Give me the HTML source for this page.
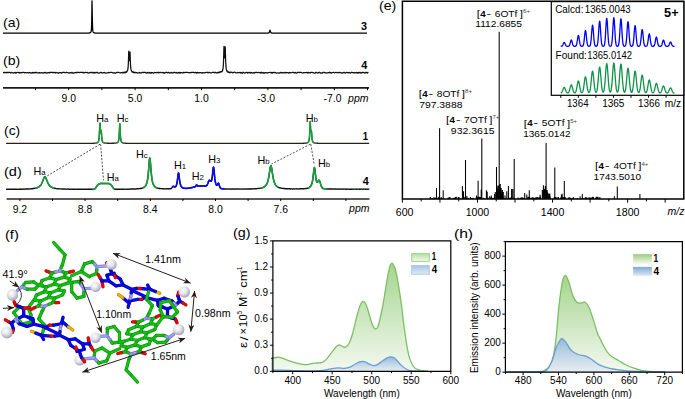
<!DOCTYPE html>
<html><head><meta charset="utf-8"><style>
html,body{margin:0;padding:0;background:#fff;}
body{width:685px;height:399px;overflow:hidden;}
svg{display:block;}
text{font-family:"Liberation Sans",sans-serif;}
</style></head><body>
<svg width="685" height="399" viewBox="0 0 685 399" font-family="Liberation Sans, sans-serif">
<text x="3.01" y="26.8" font-size="13.4" textLength="17.21" lengthAdjust="spacingAndGlyphs">(a)</text>
<text x="3.01" y="65" font-size="13.4" textLength="17.21" lengthAdjust="spacingAndGlyphs">(b)</text>
<path d="M3 33.2 L3.25 33.2 L3.5 33.2 L3.75 33.2 L4 33.2 L4.25 33.2 L4.5 33.2 L4.75 33.2 L5 33.2 L5.25 33.2 L5.5 33.2 L5.75 33.2 L6 33.2 L6.25 33.2 L6.5 33.2 L6.75 33.2 L7 33.2 L7.25 33.2 L7.5 33.2 L7.75 33.2 L8 33.2 L8.25 33.2 L8.5 33.2 L8.75 33.2 L9 33.2 L9.25 33.2 L9.5 33.2 L9.75 33.2 L10 33.2 L10.25 33.2 L10.5 33.2 L10.75 33.2 L11 33.2 L11.25 33.2 L11.5 33.2 L11.75 33.2 L12 33.2 L12.25 33.2 L12.5 33.2 L12.75 33.2 L13 33.2 L13.25 33.2 L13.5 33.2 L13.75 33.2 L14 33.2 L14.25 33.2 L14.5 33.2 L14.75 33.2 L15 33.2 L15.25 33.2 L15.5 33.2 L15.75 33.2 L16 33.2 L16.25 33.2 L16.5 33.2 L16.75 33.2 L17 33.2 L17.25 33.2 L17.5 33.2 L17.75 33.2 L18 33.2 L18.25 33.2 L18.5 33.2 L18.75 33.2 L19 33.2 L19.25 33.2 L19.5 33.2 L19.75 33.2 L20 33.2 L20.25 33.2 L20.5 33.2 L20.75 33.2 L21 33.2 L21.25 33.2 L21.5 33.2 L21.75 33.2 L22 33.2 L22.25 33.2 L22.5 33.2 L22.75 33.2 L23 33.2 L23.25 33.2 L23.5 33.2 L23.75 33.2 L24 33.2 L24.25 33.2 L24.5 33.2 L24.75 33.2 L25 33.2 L25.25 33.2 L25.5 33.2 L25.75 33.2 L26 33.2 L26.25 33.2 L26.5 33.2 L26.75 33.2 L27 33.2 L27.25 33.2 L27.5 33.2 L27.75 33.2 L28 33.2 L28.25 33.2 L28.5 33.2 L28.75 33.2 L29 33.2 L29.25 33.2 L29.5 33.2 L29.75 33.2 L30 33.2 L30.25 33.2 L30.5 33.2 L30.75 33.2 L31 33.2 L31.25 33.2 L31.5 33.2 L31.75 33.2 L32 33.2 L32.25 33.2 L32.5 33.2 L32.75 33.2 L33 33.2 L33.25 33.2 L33.5 33.2 L33.75 33.2 L34 33.2 L34.25 33.2 L34.5 33.2 L34.75 33.2 L35 33.2 L35.25 33.2 L35.5 33.2 L35.75 33.2 L36 33.2 L36.25 33.2 L36.5 33.2 L36.75 33.2 L37 33.2 L37.25 33.2 L37.5 33.2 L37.75 33.2 L38 33.2 L38.25 33.2 L38.5 33.2 L38.75 33.2 L39 33.2 L39.25 33.2 L39.5 33.2 L39.75 33.2 L40 33.2 L40.25 33.2 L40.5 33.2 L40.75 33.2 L41 33.2 L41.25 33.2 L41.5 33.2 L41.75 33.2 L42 33.2 L42.25 33.2 L42.5 33.2 L42.75 33.2 L43 33.2 L43.25 33.2 L43.5 33.2 L43.75 33.2 L44 33.2 L44.25 33.2 L44.5 33.2 L44.75 33.2 L45 33.2 L45.25 33.2 L45.5 33.2 L45.75 33.2 L46 33.2 L46.25 33.2 L46.5 33.2 L46.75 33.2 L47 33.2 L47.25 33.2 L47.5 33.2 L47.75 33.2 L48 33.2 L48.25 33.2 L48.5 33.2 L48.75 33.2 L49 33.2 L49.25 33.2 L49.5 33.2 L49.75 33.2 L50 33.2 L50.25 33.2 L50.5 33.2 L50.75 33.2 L51 33.2 L51.25 33.2 L51.5 33.2 L51.75 33.2 L52 33.2 L52.25 33.2 L52.5 33.2 L52.75 33.2 L53 33.2 L53.25 33.2 L53.5 33.2 L53.75 33.2 L54 33.2 L54.25 33.2 L54.5 33.2 L54.75 33.2 L55 33.2 L55.25 33.2 L55.5 33.2 L55.75 33.2 L56 33.2 L56.25 33.2 L56.5 33.2 L56.75 33.2 L57 33.2 L57.25 33.2 L57.5 33.2 L57.75 33.2 L58 33.2 L58.25 33.2 L58.5 33.2 L58.75 33.2 L59 33.2 L59.25 33.2 L59.5 33.2 L59.75 33.2 L60 33.2 L60.25 33.2 L60.5 33.2 L60.75 33.2 L61 33.2 L61.25 33.2 L61.5 33.2 L61.75 33.2 L62 33.2 L62.25 33.2 L62.5 33.2 L62.75 33.2 L63 33.2 L63.25 33.2 L63.5 33.2 L63.75 33.2 L64 33.2 L64.25 33.2 L64.5 33.2 L64.75 33.2 L65 33.2 L65.25 33.2 L65.5 33.2 L65.75 33.2 L66 33.2 L66.25 33.2 L66.5 33.2 L66.75 33.2 L67 33.2 L67.25 33.2 L67.5 33.2 L67.75 33.2 L68 33.2 L68.25 33.2 L68.5 33.2 L68.75 33.2 L69 33.2 L69.25 33.2 L69.5 33.2 L69.75 33.2 L70 33.2 L70.25 33.2 L70.5 33.2 L70.75 33.2 L71 33.2 L71.25 33.2 L71.5 33.2 L71.75 33.2 L72 33.2 L72.25 33.2 L72.5 33.2 L72.75 33.2 L73 33.2 L73.25 33.2 L73.5 33.2 L73.75 33.2 L74 33.19 L74.25 33.19 L74.5 33.19 L74.75 33.19 L75 33.19 L75.25 33.19 L75.5 33.19 L75.75 33.19 L76 33.19 L76.25 33.19 L76.5 33.19 L76.75 33.19 L77 33.19 L77.25 33.19 L77.5 33.19 L77.75 33.19 L78 33.19 L78.25 33.19 L78.5 33.19 L78.75 33.19 L79 33.19 L79.25 33.19 L79.5 33.19 L79.75 33.19 L80 33.19 L80.25 33.19 L80.5 33.19 L80.75 33.19 L81 33.19 L81.25 33.19 L81.5 33.19 L81.75 33.18 L82 33.18 L82.25 33.18 L82.5 33.18 L82.75 33.18 L83 33.18 L83.25 33.18 L83.5 33.18 L83.75 33.18 L84 33.17 L84.25 33.17 L84.5 33.17 L84.75 33.17 L85 33.17 L85.25 33.16 L85.5 33.16 L85.75 33.16 L86 33.16 L86.25 33.15 L86.5 33.15 L86.75 33.14 L87 33.14 L87.25 33.13 L87.5 33.12 L87.75 33.11 L88 33.1 L88.25 33.09 L88.5 33.07 L88.75 33.05 L89 33.02 L89.25 32.99 L89.5 32.95 L89.75 32.89 L90 32.81 L90.25 32.7 L90.5 32.53 L90.75 32.25 L91 31.77 L91.25 30.81 L91.5 28.51 L91.75 21.31 L92 0.87 L92.25 14.58 L92.5 26.64 L92.75 30.14 L93 31.47 L93.25 32.09 L93.5 32.43 L93.75 32.64 L94 32.77 L94.25 32.86 L94.5 32.93 L94.75 32.98 L95 33.01 L95.25 33.04 L95.5 33.06 L95.75 33.08 L96 33.09 L96.25 33.11 L96.5 33.12 L96.75 33.13 L97 33.13 L97.25 33.14 L97.5 33.14 L97.75 33.15 L98 33.15 L98.25 33.16 L98.5 33.16 L98.75 33.16 L99 33.17 L99.25 33.17 L99.5 33.17 L99.75 33.17 L100 33.17 L100.25 33.18 L100.5 33.18 L100.75 33.18 L101 33.18 L101.25 33.18 L101.5 33.18 L101.75 33.18 L102 33.18 L102.25 33.18 L102.5 33.18 L102.75 33.19 L103 33.19 L103.25 33.19 L103.5 33.19 L103.75 33.19 L104 33.19 L104.25 33.19 L104.5 33.19 L104.75 33.19 L105 33.19 L105.25 33.19 L105.5 33.19 L105.75 33.19 L106 33.19 L106.25 33.19 L106.5 33.19 L106.75 33.19 L107 33.19 L107.25 33.19 L107.5 33.19 L107.75 33.19 L108 33.19 L108.25 33.19 L108.5 33.19 L108.75 33.19 L109 33.19 L109.25 33.19 L109.5 33.19 L109.75 33.19 L110 33.19 L110.25 33.2 L110.5 33.2 L110.75 33.2 L111 33.2 L111.25 33.2 L111.5 33.2 L111.75 33.2 L112 33.2 L112.25 33.2 L112.5 33.2 L112.75 33.2 L113 33.2 L113.25 33.2 L113.5 33.2 L113.75 33.2 L114 33.2 L114.25 33.2 L114.5 33.2 L114.75 33.2 L115 33.2 L115.25 33.2 L115.5 33.2 L115.75 33.2 L116 33.2 L116.25 33.2 L116.5 33.2 L116.75 33.2 L117 33.2 L117.25 33.2 L117.5 33.2 L117.75 33.2 L118 33.2 L118.25 33.2 L118.5 33.2 L118.75 33.2 L119 33.2 L119.25 33.2 L119.5 33.2 L119.75 33.2 L120 33.2 L120.25 33.2 L120.5 33.2 L120.75 33.2 L121 33.2 L121.25 33.2 L121.5 33.2 L121.75 33.2 L122 33.2 L122.25 33.2 L122.5 33.2 L122.75 33.2 L123 33.2 L123.25 33.2 L123.5 33.2 L123.75 33.2 L124 33.2 L124.25 33.2 L124.5 33.2 L124.75 33.2 L125 33.2 L125.25 33.2 L125.5 33.2 L125.75 33.2 L126 33.2 L126.25 33.2 L126.5 33.2 L126.75 33.2 L127 33.2 L127.25 33.2 L127.5 33.2 L127.75 33.2 L128 33.2 L128.25 33.2 L128.5 33.2 L128.75 33.2 L129 33.2 L129.25 33.2 L129.5 33.2 L129.75 33.2 L130 33.2 L130.25 33.2 L130.5 33.2 L130.75 33.2 L131 33.2 L131.25 33.2 L131.5 33.2 L131.75 33.2 L132 33.2 L132.25 33.2 L132.5 33.2 L132.75 33.2 L133 33.2 L133.25 33.2 L133.5 33.2 L133.75 33.2 L134 33.2 L134.25 33.2 L134.5 33.2 L134.75 33.2 L135 33.2 L135.25 33.2 L135.5 33.2 L135.75 33.2 L136 33.2 L136.25 33.2 L136.5 33.2 L136.75 33.2 L137 33.2 L137.25 33.2 L137.5 33.2 L137.75 33.2 L138 33.2 L138.25 33.2 L138.5 33.2 L138.75 33.2 L139 33.2 L139.25 33.2 L139.5 33.2 L139.75 33.2 L140 33.2 L140.25 33.2 L140.5 33.2 L140.75 33.2 L141 33.2 L141.25 33.2 L141.5 33.2 L141.75 33.2 L142 33.2 L142.25 33.2 L142.5 33.2 L142.75 33.2 L143 33.2 L143.25 33.2 L143.5 33.2 L143.75 33.2 L144 33.2 L144.25 33.2 L144.5 33.2 L144.75 33.2 L145 33.2 L145.25 33.2 L145.5 33.2 L145.75 33.2 L146 33.2 L146.25 33.2 L146.5 33.2 L146.75 33.2 L147 33.2 L147.25 33.2 L147.5 33.2 L147.75 33.2 L148 33.2 L148.25 33.2 L148.5 33.2 L148.75 33.2 L149 33.2 L149.25 33.2 L149.5 33.2 L149.75 33.2 L150 33.2 L150.25 33.2 L150.5 33.2 L150.75 33.2 L151 33.2 L151.25 33.2 L151.5 33.2 L151.75 33.2 L152 33.2 L152.25 33.2 L152.5 33.2 L152.75 33.2 L153 33.2 L153.25 33.2 L153.5 33.2 L153.75 33.2 L154 33.2 L154.25 33.2 L154.5 33.2 L154.75 33.2 L155 33.2 L155.25 33.2 L155.5 33.2 L155.75 33.2 L156 33.2 L156.25 33.2 L156.5 33.2 L156.75 33.2 L157 33.2 L157.25 33.2 L157.5 33.2 L157.75 33.2 L158 33.2 L158.25 33.2 L158.5 33.2 L158.75 33.2 L159 33.2 L159.25 33.2 L159.5 33.2 L159.75 33.2 L160 33.2 L160.25 33.2 L160.5 33.2 L160.75 33.2 L161 33.2 L161.25 33.2 L161.5 33.2 L161.75 33.2 L162 33.2 L162.25 33.2 L162.5 33.2 L162.75 33.2 L163 33.2 L163.25 33.2 L163.5 33.2 L163.75 33.2 L164 33.2 L164.25 33.2 L164.5 33.2 L164.75 33.2 L165 33.2 L165.25 33.2 L165.5 33.2 L165.75 33.2 L166 33.2 L166.25 33.2 L166.5 33.2 L166.75 33.2 L167 33.2 L167.25 33.2 L167.5 33.2 L167.75 33.2 L168 33.2 L168.25 33.2 L168.5 33.2 L168.75 33.2 L169 33.2 L169.25 33.2 L169.5 33.2 L169.75 33.2 L170 33.2 L170.25 33.2 L170.5 33.2 L170.75 33.2 L171 33.2 L171.25 33.2 L171.5 33.2 L171.75 33.2 L172 33.2 L172.25 33.2 L172.5 33.2 L172.75 33.2 L173 33.2 L173.25 33.2 L173.5 33.2 L173.75 33.2 L174 33.2 L174.25 33.2 L174.5 33.2 L174.75 33.2 L175 33.2 L175.25 33.2 L175.5 33.2 L175.75 33.2 L176 33.2 L176.25 33.2 L176.5 33.2 L176.75 33.2 L177 33.2 L177.25 33.2 L177.5 33.2 L177.75 33.2 L178 33.2 L178.25 33.2 L178.5 33.2 L178.75 33.2 L179 33.2 L179.25 33.2 L179.5 33.2 L179.75 33.2 L180 33.2 L180.25 33.2 L180.5 33.2 L180.75 33.2 L181 33.2 L181.25 33.2 L181.5 33.2 L181.75 33.2 L182 33.2 L182.25 33.2 L182.5 33.2 L182.75 33.2 L183 33.2 L183.25 33.2 L183.5 33.2 L183.75 33.2 L184 33.2 L184.25 33.2 L184.5 33.2 L184.75 33.2 L185 33.2 L185.25 33.2 L185.5 33.2 L185.75 33.2 L186 33.2 L186.25 33.2 L186.5 33.2 L186.75 33.2 L187 33.2 L187.25 33.2 L187.5 33.2 L187.75 33.2 L188 33.2 L188.25 33.2 L188.5 33.2 L188.75 33.2 L189 33.2 L189.25 33.2 L189.5 33.2 L189.75 33.2 L190 33.2 L190.25 33.2 L190.5 33.2 L190.75 33.2 L191 33.2 L191.25 33.2 L191.5 33.2 L191.75 33.2 L192 33.2 L192.25 33.2 L192.5 33.2 L192.75 33.2 L193 33.2 L193.25 33.2 L193.5 33.2 L193.75 33.2 L194 33.2 L194.25 33.2 L194.5 33.2 L194.75 33.2 L195 33.2 L195.25 33.2 L195.5 33.2 L195.75 33.2 L196 33.2 L196.25 33.2 L196.5 33.2 L196.75 33.2 L197 33.2 L197.25 33.2 L197.5 33.2 L197.75 33.2 L198 33.2 L198.25 33.2 L198.5 33.2 L198.75 33.2 L199 33.2 L199.25 33.2 L199.5 33.2 L199.75 33.2 L200 33.2 L200.25 33.2 L200.5 33.2 L200.75 33.2 L201 33.2 L201.25 33.2 L201.5 33.2 L201.75 33.2 L202 33.2 L202.25 33.2 L202.5 33.2 L202.75 33.2 L203 33.2 L203.25 33.2 L203.5 33.2 L203.75 33.2 L204 33.2 L204.25 33.2 L204.5 33.2 L204.75 33.2 L205 33.2 L205.25 33.2 L205.5 33.2 L205.75 33.2 L206 33.2 L206.25 33.2 L206.5 33.2 L206.75 33.2 L207 33.2 L207.25 33.2 L207.5 33.2 L207.75 33.2 L208 33.2 L208.25 33.2 L208.5 33.2 L208.75 33.2 L209 33.2 L209.25 33.2 L209.5 33.2 L209.75 33.2 L210 33.2 L210.25 33.2 L210.5 33.2 L210.75 33.2 L211 33.2 L211.25 33.2 L211.5 33.2 L211.75 33.2 L212 33.2 L212.25 33.2 L212.5 33.2 L212.75 33.2 L213 33.2 L213.25 33.2 L213.5 33.2 L213.75 33.2 L214 33.2 L214.25 33.2 L214.5 33.2 L214.75 33.2 L215 33.2 L215.25 33.2 L215.5 33.2 L215.75 33.2 L216 33.2 L216.25 33.2 L216.5 33.2 L216.75 33.2 L217 33.2 L217.25 33.2 L217.5 33.2 L217.75 33.2 L218 33.2 L218.25 33.2 L218.5 33.2 L218.75 33.2 L219 33.2 L219.25 33.2 L219.5 33.2 L219.75 33.2 L220 33.2 L220.25 33.2 L220.5 33.2 L220.75 33.2 L221 33.2 L221.25 33.2 L221.5 33.2 L221.75 33.2 L222 33.2 L222.25 33.2 L222.5 33.2 L222.75 33.2 L223 33.2 L223.25 33.2 L223.5 33.2 L223.75 33.2 L224 33.2 L224.25 33.2 L224.5 33.2 L224.75 33.2 L225 33.2 L225.25 33.2 L225.5 33.2 L225.75 33.2 L226 33.2 L226.25 33.2 L226.5 33.2 L226.75 33.2 L227 33.2 L227.25 33.2 L227.5 33.2 L227.75 33.2 L228 33.2 L228.25 33.2 L228.5 33.2 L228.75 33.2 L229 33.2 L229.25 33.2 L229.5 33.2 L229.75 33.2 L230 33.2 L230.25 33.2 L230.5 33.2 L230.75 33.2 L231 33.2 L231.25 33.2 L231.5 33.2 L231.75 33.2 L232 33.2 L232.25 33.2 L232.5 33.2 L232.75 33.2 L233 33.2 L233.25 33.2 L233.5 33.2 L233.75 33.2 L234 33.2 L234.25 33.2 L234.5 33.2 L234.75 33.2 L235 33.2 L235.25 33.2 L235.5 33.2 L235.75 33.2 L236 33.2 L236.25 33.2 L236.5 33.2 L236.75 33.2 L237 33.2 L237.25 33.2 L237.5 33.2 L237.75 33.2 L238 33.2 L238.25 33.2 L238.5 33.2 L238.75 33.2 L239 33.2 L239.25 33.2 L239.5 33.2 L239.75 33.2 L240 33.2 L240.25 33.2 L240.5 33.2 L240.75 33.2 L241 33.2 L241.25 33.2 L241.5 33.2 L241.75 33.2 L242 33.2 L242.25 33.2 L242.5 33.2 L242.75 33.2 L243 33.2 L243.25 33.2 L243.5 33.2 L243.75 33.2 L244 33.2 L244.25 33.2 L244.5 33.2 L244.75 33.2 L245 33.2 L245.25 33.2 L245.5 33.2 L245.75 33.2 L246 33.2 L246.25 33.2 L246.5 33.2 L246.75 33.2 L247 33.2 L247.25 33.2 L247.5 33.2 L247.75 33.2 L248 33.2 L248.25 33.2 L248.5 33.2 L248.75 33.2 L249 33.2 L249.25 33.2 L249.5 33.2 L249.75 33.2 L250 33.2 L250.25 33.2 L250.5 33.2 L250.75 33.2 L251 33.2 L251.25 33.2 L251.5 33.2 L251.75 33.2 L252 33.2 L252.25 33.2 L252.5 33.2 L252.75 33.2 L253 33.2 L253.25 33.2 L253.5 33.2 L253.75 33.2 L254 33.2 L254.25 33.2 L254.5 33.2 L254.75 33.2 L255 33.2 L255.25 33.2 L255.5 33.2 L255.75 33.2 L256 33.2 L256.25 33.2 L256.5 33.2 L256.75 33.2 L257 33.2 L257.25 33.2 L257.5 33.2 L257.75 33.2 L258 33.2 L258.25 33.2 L258.5 33.2 L258.75 33.2 L259 33.19 L259.25 33.19 L259.5 33.19 L259.75 33.19 L260 33.19 L260.25 33.19 L260.5 33.19 L260.75 33.19 L261 33.19 L261.25 33.19 L261.5 33.19 L261.75 33.19 L262 33.19 L262.25 33.19 L262.5 33.19 L262.75 33.19 L263 33.19 L263.25 33.19 L263.5 33.19 L263.75 33.18 L264 33.18 L264.25 33.18 L264.5 33.18 L264.75 33.18 L265 33.18 L265.25 33.17 L265.5 33.17 L265.75 33.17 L266 33.16 L266.25 33.16 L266.5 33.15 L266.75 33.14 L267 33.13 L267.25 33.12 L267.5 33.11 L267.75 33.08 L268 33.06 L268.25 33.01 L268.5 32.95 L268.75 32.86 L269 32.69 L269.25 32.41 L269.5 31.86 L269.75 30.91 L270 30.2 L270.25 30.91 L270.5 31.86 L270.75 32.41 L271 32.69 L271.25 32.86 L271.5 32.95 L271.75 33.01 L272 33.06 L272.25 33.08 L272.5 33.11 L272.75 33.12 L273 33.13 L273.25 33.14 L273.5 33.15 L273.75 33.16 L274 33.16 L274.25 33.17 L274.5 33.17 L274.75 33.17 L275 33.18 L275.25 33.18 L275.5 33.18 L275.75 33.18 L276 33.18 L276.25 33.18 L276.5 33.19 L276.75 33.19 L277 33.19 L277.25 33.19 L277.5 33.19 L277.75 33.19 L278 33.19 L278.25 33.19 L278.5 33.19 L278.75 33.19 L279 33.19 L279.25 33.19 L279.5 33.19 L279.75 33.19 L280 33.19 L280.25 33.19 L280.5 33.19 L280.75 33.19 L281 33.19 L281.25 33.2 L281.5 33.2 L281.75 33.2 L282 33.2 L282.25 33.2 L282.5 33.2 L282.75 33.2 L283 33.2 L283.25 33.2 L283.5 33.2 L283.75 33.2 L284 33.2 L284.25 33.2 L284.5 33.2 L284.75 33.2 L285 33.2 L285.25 33.2 L285.5 33.2 L285.75 33.2 L286 33.2 L286.25 33.2 L286.5 33.2 L286.75 33.2 L287 33.2 L287.25 33.2 L287.5 33.2 L287.75 33.2 L288 33.2 L288.25 33.2 L288.5 33.2 L288.75 33.2 L289 33.2 L289.25 33.2 L289.5 33.2 L289.75 33.2 L290 33.2 L290.25 33.2 L290.5 33.2 L290.75 33.2 L291 33.2 L291.25 33.2 L291.5 33.2 L291.75 33.2 L292 33.2 L292.25 33.2 L292.5 33.2 L292.75 33.2 L293 33.2 L293.25 33.2 L293.5 33.2 L293.75 33.2 L294 33.2 L294.25 33.2 L294.5 33.2 L294.75 33.2 L295 33.2 L295.25 33.2 L295.5 33.2 L295.75 33.2 L296 33.2 L296.25 33.2 L296.5 33.2 L296.75 33.2 L297 33.2 L297.25 33.2 L297.5 33.2 L297.75 33.2 L298 33.2 L298.25 33.2 L298.5 33.2 L298.75 33.2 L299 33.2 L299.25 33.2 L299.5 33.2 L299.75 33.2 L300 33.2 L300.25 33.2 L300.5 33.2 L300.75 33.2 L301 33.2 L301.25 33.2 L301.5 33.2 L301.75 33.2 L302 33.2 L302.25 33.2 L302.5 33.2 L302.75 33.2 L303 33.2 L303.25 33.2 L303.5 33.2 L303.75 33.2 L304 33.2 L304.25 33.2 L304.5 33.2 L304.75 33.2 L305 33.2 L305.25 33.2 L305.5 33.2 L305.75 33.2 L306 33.2 L306.25 33.2 L306.5 33.2 L306.75 33.2 L307 33.2 L307.25 33.2 L307.5 33.2 L307.75 33.2 L308 33.2 L308.25 33.2 L308.5 33.2 L308.75 33.2 L309 33.2 L309.25 33.2 L309.5 33.2 L309.75 33.2 L310 33.2 L310.25 33.2 L310.5 33.2 L310.75 33.2 L311 33.2 L311.25 33.2 L311.5 33.2 L311.75 33.2 L312 33.2 L312.25 33.2 L312.5 33.2 L312.75 33.2 L313 33.2 L313.25 33.2 L313.5 33.2 L313.75 33.2 L314 33.2 L314.25 33.2 L314.5 33.2 L314.75 33.2 L315 33.2 L315.25 33.2 L315.5 33.2 L315.75 33.2 L316 33.2 L316.25 33.2 L316.5 33.2 L316.75 33.2 L317 33.2 L317.25 33.2 L317.5 33.2 L317.75 33.2 L318 33.2 L318.25 33.2 L318.5 33.2 L318.75 33.2 L319 33.2 L319.25 33.2 L319.5 33.2 L319.75 33.2 L320 33.2 L320.25 33.2 L320.5 33.2 L320.75 33.2 L321 33.2 L321.25 33.2 L321.5 33.2 L321.75 33.2 L322 33.2 L322.25 33.2 L322.5 33.2 L322.75 33.2 L323 33.2 L323.25 33.2 L323.5 33.2 L323.75 33.2 L324 33.2 L324.25 33.2 L324.5 33.2 L324.75 33.2 L325 33.2 L325.25 33.2 L325.5 33.2 L325.75 33.2 L326 33.2 L326.25 33.2 L326.5 33.2 L326.75 33.2 L327 33.2 L327.25 33.2 L327.5 33.2 L327.75 33.2 L328 33.2 L328.25 33.2 L328.5 33.2 L328.75 33.2 L329 33.2 L329.25 33.2 L329.5 33.2 L329.75 33.2 L330 33.2 L330.25 33.2 L330.5 33.2 L330.75 33.2 L331 33.2 L331.25 33.2 L331.5 33.2 L331.75 33.2 L332 33.2 L332.25 33.2 L332.5 33.2 L332.75 33.2 L333 33.2 L333.25 33.2 L333.5 33.2 L333.75 33.2 L334 33.2 L334.25 33.2 L334.5 33.2 L334.75 33.2 L335 33.2 L335.25 33.2 L335.5 33.2 L335.75 33.2 L336 33.2 L336.25 33.2 L336.5 33.2 L336.75 33.2 L337 33.2 L337.25 33.2 L337.5 33.2 L337.75 33.2 L338 33.2 L338.25 33.2 L338.5 33.2 L338.75 33.2 L339 33.2 L339.25 33.2 L339.5 33.2 L339.75 33.2 L340 33.2 L340.25 33.2 L340.5 33.2 L340.75 33.2 L341 33.2 L341.25 33.2 L341.5 33.2 L341.75 33.2 L342 33.2 L342.25 33.2 L342.5 33.2 L342.75 33.2 L343 33.2 L343.25 33.2 L343.5 33.2 L343.75 33.2 L344 33.2 L344.25 33.2 L344.5 33.2 L344.75 33.2 L345 33.2 L345.25 33.2 L345.5 33.2 L345.75 33.2 L346 33.2 L346.25 33.2 L346.5 33.2 L346.75 33.2 L347 33.2 L347.25 33.2 L347.5 33.2 L347.75 33.2 L348 33.2 L348.25 33.2 L348.5 33.2 L348.75 33.2 L349 33.2 L349.25 33.2 L349.5 33.2 L349.75 33.2 L350 33.2 L350.25 33.2 L350.5 33.2 L350.75 33.2 L351 33.2 L351.25 33.2 L351.5 33.2 L351.75 33.2 L352 33.2 L352.25 33.2 L352.5 33.2 L352.75 33.2 L353 33.2 L353.25 33.2 L353.5 33.2 L353.75 33.2 L354 33.2 L354.25 33.2 L354.5 33.2 L354.75 33.2 L355 33.2 L355.25 33.2 L355.5 33.2 L355.75 33.2 L356 33.2 L356.25 33.2 L356.5 33.2 L356.75 33.2 L357 33.2 L357.25 33.2 L357.5 33.2 L357.75 33.2 L358 33.2 L358.25 33.2 L358.5 33.2 L358.75 33.2 L359 33.2 L359.25 33.2 L359.5 33.2 L359.75 33.2 L360 33.2 L360.25 33.2 L360.5 33.2 L360.75 33.2 L361 33.2 L361.25 33.2 L361.5 33.2 L361.75 33.2 L362 33.2 L362.25 33.2 L362.5 33.2 L362.75 33.2 L363 33.2 L363.25 33.2 L363.5 33.2 L363.75 33.2 L364 33.2 L364.25 33.2 L364.5 33.2 L364.75 33.2 L365 33.2 L365.25 33.2 L365.5 33.2 L365.75 33.2 L366 33.2 L366.25 33.2 L366.5 33.2 L366.75 33.2 L367 33.2" fill="none" stroke="#000" stroke-width="1.3" stroke-linejoin="round" />
<path d="M3 72.54 L3.6 72.39 L4.2 72.84 L4.8 72.31 L5.4 72.73 L6 72.58 L6.6 72.3 L7.2 72.71 L7.8 72.28 L8.4 72.64 L9 72.31 L9.6 72.33 L10.2 72.63 L10.8 72.99 L11.4 72.36 L12 72.45 L12.6 72.81 L13.2 73.1 L13.8 72.77 L14.4 72.61 L15 73.13 L15.6 72.29 L16.2 73.02 L16.8 72.51 L17.4 72.38 L18 72.36 L18.6 72.53 L19.2 72.98 L19.8 72.41 L20.4 72.77 L21 72.82 L21.6 72.58 L22.2 72.74 L22.8 72.31 L23.4 72.3 L24 72.43 L24.6 72.86 L25.2 72.63 L25.8 72.53 L26.4 72.78 L27 72.66 L27.6 72.52 L28.2 72.96 L28.8 72.88 L29.4 72.47 L30 72.77 L30.6 72.72 L31.2 73.04 L31.8 72.91 L32.4 72.51 L33 73.13 L33.6 72.36 L34.2 72.63 L34.8 72.93 L35.4 72.39 L36 72.69 L36.6 72.28 L37.2 72.85 L37.8 72.94 L38.4 72.76 L39 73.04 L39.6 72.53 L40.2 72.87 L40.8 72.78 L41.4 72.77 L42 72.66 L42.6 73 L43.2 73.1 L43.8 72.68 L44.4 72.85 L45 72.3 L45.6 72.88 L46.2 72.83 L46.8 73.14 L47.4 72.99 L48 72.5 L48.6 72.6 L49.2 72.85 L49.8 72.27 L50.4 72.66 L51 72.4 L51.6 72.35 L52.2 72.3 L52.8 72.94 L53.4 72.37 L54 72.47 L54.6 72.6 L55.2 73.03 L55.8 72.32 L56.4 72.65 L57 72.74 L57.6 73.04 L58.2 72.99 L58.8 73.03 L59.4 72.5 L60 72.62 L60.6 72.57 L61.2 73.04 L61.8 73.11 L62.4 72.38 L63 72.41 L63.6 72.46 L64.2 72.46 L64.8 72.68 L65.4 72.78 L66 72.48 L66.6 72.25 L67.2 72.63 L67.8 72.58 L68.4 72.76 L69 73.11 L69.6 72.87 L70.2 72.71 L70.8 72.8 L71.4 72.86 L72 72.3 L72.6 73.06 L73.2 72.95 L73.8 73.03 L74.4 72.97 L75 72.6 L75.6 72.61 L76.2 72.34 L76.8 72.82 L77.4 72.3 L78 72.31 L78.6 72.44 L79.2 72.39 L79.8 72.55 L80.4 72.29 L81 72.25 L81.6 72.38 L82.2 72.34 L82.8 72.57 L83.4 72.27 L84 73.03 L84.6 72.8 L85.2 72.38 L85.8 72.47 L86.4 72.56 L87 72.57 L87.6 72.36 L88.2 73.01 L88.8 73.14 L89.4 72.67 L90 72.68 L90.6 72.32 L91.2 72.34 L91.8 72.55 L92.4 72.48 L93 72.99 L93.6 72.39 L94.2 72.27 L94.8 73.1 L95.4 72.72 L96 72.38 L96.6 72.73 L97.2 72.27 L97.8 72.72 L98.4 73.12 L99 73.02 L99.6 72.87 L100.2 72.48 L100.8 72.57 L101.4 72.39 L102 72.94 L102.6 72.72 L103.2 72.94 L103.8 72.54 L104.4 72.44 L105 72.97 L105.6 73.12 L106.2 73.01 L106.8 72.96 L107.4 72.97 L108 72.9 L108.6 72.44 L109.2 72.7 L109.8 72.55 L110.4 72.26 L111 72.26 L111.6 72.48 L112.2 72.46 L112.8 72.85 L113.4 73.09 L114 72.63 L114.6 73.06 L115.2 73.11 L115.8 73.08 L116.4 72.54 L117 72.41 L117.6 72.41 L118.2 72.38 L118.8 72.38 L119.4 72.75 L120 72.99 L120.6 72.92 L121.2 72.59 L121.8 72.73 L122.4 72.84 L123 72.17 L123.6 72.65 L123.75 72.87 L123.9 72.74 L124.05 72.7 L124.2 72.44 L124.35 72.16 L124.5 72.69 L124.65 72.26 L124.8 72.66 L124.95 72.8 L125.1 72.25 L125.25 72.23 L125.4 72.69 L125.55 72.46 L125.7 71.92 L125.85 71.83 L126 71.81 L126.15 72.42 L126.3 72.27 L126.45 71.59 L126.6 72.11 L126.75 72.13 L126.9 71.7 L127.05 71.25 L127.2 71.21 L127.35 70.56 L127.5 70.09 L127.65 70.47 L127.8 69.52 L127.95 68.47 L128.1 67.46 L128.25 64.92 L128.4 62.12 L128.55 57.55 L128.7 52.35 L128.85 51.13 L129 54.21 L129.15 57.92 L129.3 60.45 L129.45 60.53 L129.6 59.21 L129.75 55.75 L129.9 52.9 L130.05 52.04 L130.2 55.98 L130.35 60.79 L130.5 64.62 L130.65 66.53 L130.8 68.52 L130.95 69.18 L131.1 69.93 L131.25 70.45 L131.4 70.38 L131.55 71.05 L131.7 71.05 L131.85 71.07 L132 71.94 L132.15 71.49 L132.3 71.86 L132.45 72.18 L132.6 72.1 L132.75 71.95 L132.9 72.18 L133.05 72.26 L133.2 72.5 L133.35 71.93 L133.5 72.37 L133.65 72.11 L133.8 72.17 L133.95 72.63 L134.1 72.42 L134.25 72.48 L134.4 72.68 L134.55 72.83 L134.7 72.42 L134.85 72.59 L135 72.5 L135.15 72.52 L135.3 72.69 L135.45 72.48 L136.05 72.59 L136.65 72.56 L137.25 72.99 L137.85 72.79 L138.45 72.96 L139.05 73.03 L139.65 72.42 L140.25 72.7 L140.85 73.05 L141.45 72.96 L142.05 72.33 L142.65 72.32 L143.25 72.61 L143.85 72.28 L144.45 72.44 L145.05 72.29 L145.65 72.83 L146.25 72.93 L146.85 73.04 L147.45 72.37 L148.05 72.88 L148.65 72.83 L149.25 72.36 L149.85 73.03 L150.45 73.11 L151.05 72.43 L151.65 73.09 L152.25 72.6 L152.85 72.68 L153.45 73.13 L154.05 72.99 L154.65 72.38 L155.25 72.63 L155.85 72.7 L156.45 72.55 L157.05 72.42 L157.65 72.53 L158.25 72.89 L158.85 72.26 L159.45 72.74 L160.05 72.64 L160.65 72.26 L161.25 72.54 L161.85 72.8 L162.45 72.7 L163.05 72.3 L163.65 73.13 L164.25 72.95 L164.85 73.12 L165.45 72.34 L166.05 72.48 L166.65 72.28 L167.25 72.94 L167.85 72.49 L168.45 72.36 L169.05 72.62 L169.65 73.06 L170.25 72.98 L170.85 72.48 L171.45 72.38 L172.05 73.07 L172.65 72.76 L173.25 72.87 L173.85 72.32 L174.45 72.3 L175.05 72.86 L175.65 72.63 L176.25 72.31 L176.85 73.09 L177.45 72.81 L178.05 72.97 L178.65 72.32 L179.25 73.01 L179.85 72.3 L180.45 73.02 L181.05 72.65 L181.65 72.55 L182.25 72.74 L182.85 73.08 L183.45 72.48 L184.05 72.36 L184.65 72.72 L185.25 72.46 L185.85 72.34 L186.45 72.39 L187.05 72.29 L187.65 72.42 L188.25 72.52 L188.85 72.52 L189.45 72.93 L190.05 72.5 L190.65 72.69 L191.25 72.4 L191.85 72.55 L192.45 72.26 L193.05 72.47 L193.65 72.25 L194.25 72.9 L194.85 72.74 L195.45 72.41 L196.05 72.67 L196.65 73.08 L197.25 72.33 L197.85 72.97 L198.45 72.63 L199.05 72.68 L199.65 72.99 L200.25 72.59 L200.85 72.69 L201.45 72.85 L202.05 73.12 L202.65 72.54 L203.25 72.98 L203.85 72.87 L204.45 72.8 L205.05 72.59 L205.65 72.54 L206.25 72.27 L206.85 72.34 L207.45 72.29 L208.05 72.89 L208.65 72.45 L209.25 72.36 L209.85 72.29 L210.45 72.97 L211.05 72.99 L211.65 72.81 L212.25 72.45 L212.85 72.41 L213.45 72.45 L214.05 72.59 L214.65 72.31 L215.25 72.56 L215.85 72.38 L216.45 73 L217.05 72.99 L217.65 72.58 L218.25 72.27 L218.85 72.88 L219 72.27 L219.15 72.3 L219.3 71.96 L219.45 72.29 L219.6 72.35 L219.75 72.36 L219.9 72.06 L220.05 72.31 L220.2 71.83 L220.35 72.03 L220.5 71.84 L220.65 72.08 L220.8 71.71 L220.95 71.64 L221.1 71.84 L221.25 71.71 L221.4 71.94 L221.55 71.8 L221.7 71.89 L221.85 71.68 L222 71.58 L222.15 71.54 L222.3 70.86 L222.45 70.51 L222.6 70.72 L222.75 69.48 L222.9 69.32 L223.05 68.32 L223.2 66.45 L223.35 65.17 L223.5 62.19 L223.65 57.38 L223.8 51.42 L223.95 46.53 L224.1 46.42 L224.25 51.42 L224.4 55.6 L224.55 57.9 L224.7 57.55 L224.85 54.94 L225 50.18 L225.15 46.77 L225.3 48.15 L225.45 53.88 L225.6 59.01 L225.75 62.75 L225.9 65.42 L226.05 67.32 L226.2 68.25 L226.35 69.72 L226.5 70.06 L226.65 70.57 L226.8 70.91 L226.95 71.23 L227.1 71.27 L227.25 71.01 L227.4 71.86 L227.55 71.94 L227.7 71.82 L227.85 71.93 L228 72.12 L228.15 71.65 L228.3 72.31 L228.45 71.92 L228.6 71.8 L228.75 72.01 L228.9 72.47 L229.05 72.02 L229.2 72.53 L229.35 72.77 L229.5 72.36 L229.65 72.28 L229.8 72.38 L229.95 72.59 L230.1 72.68 L230.25 72.55 L230.4 72.59 L230.55 72.09 L231.15 72.2 L231.75 72.32 L232.35 72.79 L232.95 72.41 L233.55 72.66 L234.15 72.17 L234.75 72.23 L235.35 72.42 L235.95 72.79 L236.55 72.82 L237.15 72.81 L237.75 72.47 L238.35 72.67 L238.95 72.63 L239.55 72.63 L240.15 72.32 L240.75 73.02 L241.35 72.4 L241.95 73.1 L242.55 73.07 L243.15 72.24 L243.75 72.64 L244.35 72.97 L244.95 73.1 L245.55 72.64 L246.15 72.47 L246.75 72.42 L247.35 73.09 L247.95 72.42 L248.55 72.76 L249.15 72.36 L249.75 72.71 L250.35 73.1 L250.95 72.36 L251.55 72.98 L252.15 72.7 L252.75 73.04 L253.35 72.87 L253.95 72.45 L254.55 73.05 L255.15 72.68 L255.75 72.26 L256.35 72.25 L256.95 72.68 L257.55 72.65 L258.15 72.51 L258.75 72.37 L259.35 72.55 L259.95 72.53 L260.55 73 L261.15 72.25 L261.75 72.92 L262.35 73 L262.95 72.35 L263.55 73.08 L264.15 72.89 L264.75 73.06 L265.35 72.51 L265.95 72.58 L266.55 72.6 L267.15 73.14 L267.75 72.78 L268.35 72.57 L268.95 72.63 L269.55 72.49 L270.15 72.29 L270.75 72.34 L271.35 73 L271.95 72.5 L272.55 73.09 L273.15 72.47 L273.75 72.49 L274.35 72.71 L274.95 72.42 L275.55 72.58 L276.15 73.11 L276.75 73.04 L277.35 72.98 L277.95 72.81 L278.55 73.07 L279.15 73.09 L279.75 72.74 L280.35 72.89 L280.95 72.29 L281.55 72.91 L282.15 72.65 L282.75 72.92 L283.35 72.83 L283.95 72.51 L284.55 72.29 L285.15 73.08 L285.75 72.36 L286.35 72.67 L286.95 72.56 L287.55 72.52 L288.15 72.91 L288.75 73.13 L289.35 72.48 L289.95 72.84 L290.55 72.52 L291.15 72.75 L291.75 72.6 L292.35 72.4 L292.95 72.39 L293.55 72.44 L294.15 73.06 L294.75 72.7 L295.35 72.45 L295.95 73.06 L296.55 73.15 L297.15 72.65 L297.75 72.37 L298.35 72.42 L298.95 72.33 L299.55 72.56 L300.15 72.33 L300.75 72.46 L301.35 72.48 L301.95 72.76 L302.55 73.05 L303.15 72.92 L303.75 72.62 L304.35 72.62 L304.95 72.72 L305.55 72.59 L306.15 72.55 L306.75 72.3 L307.35 72.5 L307.95 73.12 L308.55 72.36 L309.15 72.7 L309.75 72.82 L310.35 73.03 L310.95 72.44 L311.55 72.49 L312.15 72.47 L312.75 72.61 L313.35 72.65 L313.95 73.11 L314.55 73.01 L315.15 73.03 L315.75 72.27 L316.35 72.28 L316.95 72.89 L317.55 73.06 L318.15 72.67 L318.75 72.78 L319.35 72.25 L319.95 72.6 L320.55 73.08 L321.15 72.99 L321.75 73.02 L322.35 73.12 L322.95 72.47 L323.55 72.35 L324.15 72.39 L324.75 72.72 L325.35 72.86 L325.95 73.1 L326.55 72.9 L327.15 72.83 L327.75 72.94 L328.35 72.66 L328.95 72.75 L329.55 72.28 L330.15 72.95 L330.75 72.46 L331.35 73.08 L331.95 72.83 L332.55 72.52 L333.15 72.36 L333.75 72.48 L334.35 72.82 L334.95 72.88 L335.55 72.35 L336.15 72.31 L336.75 72.72 L337.35 72.77 L337.95 72.6 L338.55 72.45 L339.15 72.79 L339.75 72.26 L340.35 72.52 L340.95 72.66 L341.55 73.11 L342.15 72.83 L342.75 73.04 L343.35 72.68 L343.95 72.46 L344.55 72.47 L345.15 73.11 L345.75 72.88 L346.35 72.53 L346.95 72.27 L347.55 72.7 L348.15 72.86 L348.75 72.63 L349.35 72.48 L349.95 72.85 L350.55 73.08 L351.15 72.45 L351.75 72.28 L352.35 72.55 L352.95 72.63 L353.55 72.86 L354.15 72.43 L354.75 72.97 L355.35 72.91 L355.95 72.7 L356.55 72.43 L357.15 73.12 L357.75 72.53 L358.35 72.99 L358.95 72.46 L359.55 72.45 L360.15 72.93 L360.75 72.51 L361.35 73.11 L361.95 72.7 L362.55 72.42 L363.15 72.45 L363.75 72.62 L364.35 72.85 L364.95 73.1 L365.55 72.38 L366.15 72.6 L366.75 72.44 L367.35 73.13 L367.95 72.38 L368.55 72.3" fill="none" stroke="#111" stroke-width="1.25" stroke-linejoin="round" />
<text x="360.95" y="29.7" font-size="10.8" font-weight="bold">3</text>
<text x="361.35" y="69.3" font-size="10.8" font-weight="bold">4</text>
<path d="M3 87.9 H369" stroke="#1a1a1a" stroke-width="1.6" fill="none"/>
<path d="M35.5 87.9 V90.2 M68.7 87.9 V90.2 M101.9 87.9 V90.2 M135.1 87.9 V90.2 M168.3 87.9 V90.2 M201.5 87.9 V90.2 M234.7 87.9 V90.2 M267.9 87.9 V90.2 M301.1 87.9 V90.2 M334.3 87.9 V90.2 M367.5 87.9 V90.2" stroke="#000" stroke-width="1" fill="none"/>
<text x="68.7" y="101.9" font-size="10.4" text-anchor="middle" fill="#000" >9.0</text>
<text x="135.1" y="101.9" font-size="10.4" text-anchor="middle" fill="#000" >5.0</text>
<text x="201.5" y="101.9" font-size="10.4" text-anchor="middle" fill="#000" >1.0</text>
<text x="266.1" y="101.9" font-size="10.4" text-anchor="middle" fill="#000" >-3.0</text>
<text x="332.5" y="101.9" font-size="10.4" text-anchor="middle" fill="#000" >-7.0</text>
<text x="368.5" y="101.8" font-size="10.5" text-anchor="end" font-style="italic" fill="#000" >ppm</text>
<text x="4.02" y="135" font-size="13.4" textLength="16.18" lengthAdjust="spacingAndGlyphs">(c)</text>
<text x="3.99" y="176" font-size="13.4" textLength="17.76" lengthAdjust="spacingAndGlyphs">(d)</text>
<path d="M6 143.4 L6.2 143.4 L6.4 143.4 L6.6 143.4 L6.8 143.4 L7 143.4 L7.2 143.4 L7.4 143.4 L7.6 143.4 L7.8 143.4 L8 143.4 L8.2 143.4 L8.4 143.4 L8.6 143.4 L8.8 143.4 L9 143.4 L9.2 143.4 L9.4 143.4 L9.6 143.4 L9.8 143.4 L10 143.4 L10.2 143.4 L10.4 143.4 L10.6 143.4 L10.8 143.4 L11 143.4 L11.2 143.4 L11.4 143.4 L11.6 143.4 L11.8 143.4 L12 143.4 L12.2 143.4 L12.4 143.4 L12.6 143.4 L12.8 143.4 L13 143.4 L13.2 143.4 L13.4 143.4 L13.6 143.4 L13.8 143.4 L14 143.4 L14.2 143.4 L14.4 143.4 L14.6 143.4 L14.8 143.4 L15 143.4 L15.2 143.4 L15.4 143.4 L15.6 143.4 L15.8 143.4 L16 143.4 L16.2 143.4 L16.4 143.4 L16.6 143.4 L16.8 143.4 L17 143.4 L17.2 143.4 L17.4 143.4 L17.6 143.4 L17.8 143.4 L18 143.4 L18.2 143.4 L18.4 143.4 L18.6 143.4 L18.8 143.4 L19 143.4 L19.2 143.4 L19.4 143.4 L19.6 143.4 L19.8 143.4 L20 143.4 L20.2 143.4 L20.4 143.4 L20.6 143.4 L20.8 143.4 L21 143.4 L21.2 143.4 L21.4 143.4 L21.6 143.4 L21.8 143.4 L22 143.4 L22.2 143.4 L22.4 143.4 L22.6 143.4 L22.8 143.4 L23 143.4 L23.2 143.4 L23.4 143.4 L23.6 143.4 L23.8 143.4 L24 143.4 L24.2 143.4 L24.4 143.4 L24.6 143.4 L24.8 143.4 L25 143.4 L25.2 143.4 L25.4 143.4 L25.6 143.4 L25.8 143.4 L26 143.4 L26.2 143.4 L26.4 143.4 L26.6 143.4 L26.8 143.4 L27 143.4 L27.2 143.4 L27.4 143.4 L27.6 143.4 L27.8 143.4 L28 143.4 L28.2 143.4 L28.4 143.4 L28.6 143.4 L28.8 143.4 L29 143.4 L29.2 143.4 L29.4 143.4 L29.6 143.4 L29.8 143.4 L30 143.4 L30.2 143.4 L30.4 143.4 L30.6 143.4 L30.8 143.4 L31 143.4 L31.2 143.4 L31.4 143.4 L31.6 143.4 L31.8 143.4 L32 143.4 L32.2 143.4 L32.4 143.4 L32.6 143.4 L32.8 143.4 L33 143.4 L33.2 143.4 L33.4 143.4 L33.6 143.4 L33.8 143.4 L34 143.4 L34.2 143.4 L34.4 143.4 L34.6 143.4 L34.8 143.4 L35 143.4 L35.2 143.4 L35.4 143.4 L35.6 143.4 L35.8 143.4 L36 143.4 L36.2 143.4 L36.4 143.4 L36.6 143.4 L36.8 143.4 L37 143.4 L37.2 143.4 L37.4 143.4 L37.6 143.4 L37.8 143.4 L38 143.4 L38.2 143.4 L38.4 143.4 L38.6 143.4 L38.8 143.4 L39 143.4 L39.2 143.4 L39.4 143.4 L39.6 143.4 L39.8 143.4 L40 143.4 L40.2 143.4 L40.4 143.4 L40.6 143.4 L40.8 143.4 L41 143.4 L41.2 143.4 L41.4 143.4 L41.6 143.4 L41.8 143.4 L42 143.4 L42.2 143.4 L42.4 143.4 L42.6 143.4 L42.8 143.4 L43 143.4 L43.2 143.4 L43.4 143.4 L43.6 143.4 L43.8 143.4 L44 143.4 L44.2 143.4 L44.4 143.4 L44.6 143.4 L44.8 143.4 L45 143.4 L45.2 143.4 L45.4 143.4 L45.6 143.4 L45.8 143.4 L46 143.4 L46.2 143.4 L46.4 143.4 L46.6 143.4 L46.8 143.4 L47 143.4 L47.2 143.4 L47.4 143.4 L47.6 143.4 L47.8 143.4 L48 143.4 L48.2 143.4 L48.4 143.4 L48.6 143.4 L48.8 143.4 L49 143.4 L49.2 143.4 L49.4 143.4 L49.6 143.4 L49.8 143.4 L50 143.4 L50.2 143.4 L50.4 143.4 L50.6 143.4 L50.8 143.4 L51 143.4 L51.2 143.4 L51.4 143.4 L51.6 143.4 L51.8 143.4 L52 143.4 L52.2 143.4 L52.4 143.4 L52.6 143.4 L52.8 143.4 L53 143.4 L53.2 143.4 L53.4 143.4 L53.6 143.4 L53.8 143.4 L54 143.4 L54.2 143.4 L54.4 143.4 L54.6 143.4 L54.8 143.4 L55 143.4 L55.2 143.4 L55.4 143.4 L55.6 143.4 L55.8 143.4 L56 143.4 L56.2 143.4 L56.4 143.4 L56.6 143.4 L56.8 143.4 L57 143.4 L57.2 143.4 L57.4 143.4 L57.6 143.39 L57.8 143.39 L58 143.39 L58.2 143.39 L58.4 143.39 L58.6 143.39 L58.8 143.39 L59 143.39 L59.2 143.39 L59.4 143.39 L59.6 143.39 L59.8 143.39 L60 143.39 L60.2 143.39 L60.4 143.39 L60.6 143.39 L60.8 143.39 L61 143.39 L61.2 143.39 L61.4 143.39 L61.6 143.39 L61.8 143.39 L62 143.39 L62.2 143.39 L62.4 143.39 L62.6 143.39 L62.8 143.39 L63 143.39 L63.2 143.39 L63.4 143.39 L63.6 143.39 L63.8 143.39 L64 143.39 L64.2 143.39 L64.4 143.39 L64.6 143.39 L64.8 143.39 L65 143.39 L65.2 143.39 L65.4 143.39 L65.6 143.39 L65.8 143.39 L66 143.39 L66.2 143.39 L66.4 143.39 L66.6 143.39 L66.8 143.39 L67 143.39 L67.2 143.39 L67.4 143.39 L67.6 143.39 L67.8 143.39 L68 143.39 L68.2 143.39 L68.4 143.39 L68.6 143.39 L68.8 143.39 L69 143.39 L69.2 143.39 L69.4 143.39 L69.6 143.39 L69.8 143.39 L70 143.39 L70.2 143.39 L70.4 143.39 L70.6 143.39 L70.8 143.39 L71 143.39 L71.2 143.39 L71.4 143.39 L71.6 143.39 L71.8 143.39 L72 143.39 L72.2 143.39 L72.4 143.39 L72.6 143.39 L72.8 143.39 L73 143.39 L73.2 143.39 L73.4 143.39 L73.6 143.39 L73.8 143.39 L74 143.39 L74.2 143.39 L74.4 143.39 L74.6 143.39 L74.8 143.39 L75 143.39 L75.2 143.39 L75.4 143.39 L75.6 143.39 L75.8 143.39 L76 143.39 L76.2 143.39 L76.4 143.39 L76.6 143.39 L76.8 143.39 L77 143.38 L77.2 143.38 L77.4 143.38 L77.6 143.38 L77.8 143.38 L78 143.38 L78.2 143.38 L78.4 143.38 L78.6 143.38 L78.8 143.38 L79 143.38 L79.2 143.38 L79.4 143.38 L79.6 143.38 L79.8 143.38 L80 143.38 L80.2 143.38 L80.4 143.38 L80.6 143.38 L80.8 143.38 L81 143.38 L81.2 143.38 L81.4 143.38 L81.6 143.38 L81.8 143.38 L82 143.38 L82.2 143.38 L82.4 143.38 L82.6 143.38 L82.8 143.37 L83 143.37 L83.2 143.37 L83.4 143.37 L83.6 143.37 L83.8 143.37 L84 143.37 L84.2 143.37 L84.4 143.37 L84.6 143.37 L84.8 143.37 L85 143.37 L85.2 143.37 L85.4 143.37 L85.6 143.37 L85.8 143.36 L86 143.36 L86.2 143.36 L86.4 143.36 L86.6 143.36 L86.8 143.36 L87 143.36 L87.2 143.36 L87.4 143.36 L87.6 143.35 L87.8 143.35 L88 143.35 L88.2 143.35 L88.4 143.35 L88.6 143.35 L88.8 143.34 L89 143.34 L89.2 143.34 L89.4 143.34 L89.6 143.34 L89.8 143.33 L90 143.33 L90.2 143.33 L90.4 143.33 L90.6 143.32 L90.8 143.32 L91 143.32 L91.2 143.31 L91.4 143.31 L91.6 143.31 L91.8 143.3 L92 143.3 L92.2 143.29 L92.4 143.29 L92.6 143.28 L92.8 143.28 L93 143.27 L93.2 143.26 L93.4 143.25 L93.6 143.25 L93.8 143.24 L94 143.23 L94.2 143.22 L94.4 143.2 L94.6 143.19 L94.8 143.17 L95 143.16 L95.2 143.14 L95.4 143.12 L95.6 143.09 L95.8 143.07 L96 143.03 L96.2 143 L96.4 142.96 L96.6 142.91 L96.8 142.85 L97 142.78 L97.2 142.69 L97.4 142.59 L97.6 142.46 L97.8 142.3 L98 142.09 L98.2 141.82 L98.4 141.44 L98.6 140.91 L98.8 140.14 L99 138.95 L99.2 137.04 L99.4 133.87 L99.6 128.91 L99.8 123.56 L100 123.18 L100.2 127.69 L100.4 131.57 L100.6 133.18 L100.8 132.78 L101 131.11 L101.2 130.3 L101.4 132.29 L101.6 135.4 L101.8 137.84 L102 139.44 L102.2 140.47 L102.4 141.14 L102.6 141.61 L102.8 141.95 L103 142.19 L103.2 142.38 L103.4 142.52 L103.6 142.64 L103.8 142.73 L104 142.81 L104.2 142.87 L104.4 142.92 L104.6 142.97 L104.8 143.01 L105 143.04 L105.2 143.07 L105.4 143.09 L105.6 143.11 L105.8 143.13 L106 143.15 L106.2 143.17 L106.4 143.18 L106.6 143.19 L106.8 143.2 L107 143.21 L107.2 143.22 L107.4 143.23 L107.6 143.23 L107.8 143.24 L108 143.25 L108.2 143.25 L108.4 143.26 L108.6 143.26 L108.8 143.26 L109 143.27 L109.2 143.27 L109.4 143.27 L109.6 143.27 L109.8 143.27 L110 143.28 L110.2 143.28 L110.4 143.28 L110.6 143.28 L110.8 143.28 L111 143.28 L111.2 143.28 L111.4 143.27 L111.6 143.27 L111.8 143.27 L112 143.27 L112.2 143.27 L112.4 143.26 L112.6 143.26 L112.8 143.26 L113 143.25 L113.2 143.25 L113.4 143.24 L113.6 143.23 L113.8 143.23 L114 143.22 L114.2 143.21 L114.4 143.2 L114.6 143.19 L114.8 143.17 L115 143.16 L115.2 143.14 L115.4 143.12 L115.6 143.1 L115.8 143.07 L116 143.04 L116.2 143 L116.4 142.96 L116.6 142.91 L116.8 142.85 L117 142.77 L117.2 142.68 L117.4 142.57 L117.6 142.42 L117.8 142.23 L118 141.98 L118.2 141.64 L118.4 141.17 L118.6 140.49 L118.8 139.48 L119 137.9 L119.2 135.39 L119.4 131.49 L119.6 126.57 L119.8 123.88 L120 126.57 L120.2 131.49 L120.4 135.39 L120.6 137.91 L120.8 139.48 L121 140.5 L121.2 141.18 L121.4 141.65 L121.6 141.99 L121.8 142.24 L122 142.43 L122.2 142.57 L122.4 142.69 L122.6 142.78 L122.8 142.86 L123 142.92 L123.2 142.97 L123.4 143.02 L123.6 143.06 L123.8 143.09 L124 143.12 L124.2 143.14 L124.4 143.16 L124.6 143.18 L124.8 143.2 L125 143.21 L125.2 143.22 L125.4 143.23 L125.6 143.25 L125.8 143.25 L126 143.26 L126.2 143.27 L126.4 143.28 L126.6 143.29 L126.8 143.29 L127 143.3 L127.2 143.3 L127.4 143.31 L127.6 143.31 L127.8 143.31 L128 143.32 L128.2 143.32 L128.4 143.33 L128.6 143.33 L128.8 143.33 L129 143.33 L129.2 143.34 L129.4 143.34 L129.6 143.34 L129.8 143.34 L130 143.35 L130.2 143.35 L130.4 143.35 L130.6 143.35 L130.8 143.35 L131 143.35 L131.2 143.36 L131.4 143.36 L131.6 143.36 L131.8 143.36 L132 143.36 L132.2 143.36 L132.4 143.36 L132.6 143.36 L132.8 143.36 L133 143.37 L133.2 143.37 L133.4 143.37 L133.6 143.37 L133.8 143.37 L134 143.37 L134.2 143.37 L134.4 143.37 L134.6 143.37 L134.8 143.37 L135 143.37 L135.2 143.37 L135.4 143.37 L135.6 143.37 L135.8 143.38 L136 143.38 L136.2 143.38 L136.4 143.38 L136.6 143.38 L136.8 143.38 L137 143.38 L137.2 143.38 L137.4 143.38 L137.6 143.38 L137.8 143.38 L138 143.38 L138.2 143.38 L138.4 143.38 L138.6 143.38 L138.8 143.38 L139 143.38 L139.2 143.38 L139.4 143.38 L139.6 143.38 L139.8 143.38 L140 143.38 L140.2 143.38 L140.4 143.38 L140.6 143.38 L140.8 143.38 L141 143.38 L141.2 143.39 L141.4 143.39 L141.6 143.39 L141.8 143.39 L142 143.39 L142.2 143.39 L142.4 143.39 L142.6 143.39 L142.8 143.39 L143 143.39 L143.2 143.39 L143.4 143.39 L143.6 143.39 L143.8 143.39 L144 143.39 L144.2 143.39 L144.4 143.39 L144.6 143.39 L144.8 143.39 L145 143.39 L145.2 143.39 L145.4 143.39 L145.6 143.39 L145.8 143.39 L146 143.39 L146.2 143.39 L146.4 143.39 L146.6 143.39 L146.8 143.39 L147 143.39 L147.2 143.39 L147.4 143.39 L147.6 143.39 L147.8 143.39 L148 143.39 L148.2 143.39 L148.4 143.39 L148.6 143.39 L148.8 143.39 L149 143.39 L149.2 143.39 L149.4 143.39 L149.6 143.39 L149.8 143.39 L150 143.39 L150.2 143.39 L150.4 143.39 L150.6 143.39 L150.8 143.39 L151 143.39 L151.2 143.39 L151.4 143.39 L151.6 143.39 L151.8 143.39 L152 143.39 L152.2 143.39 L152.4 143.39 L152.6 143.39 L152.8 143.39 L153 143.39 L153.2 143.39 L153.4 143.39 L153.6 143.39 L153.8 143.39 L154 143.39 L154.2 143.39 L154.4 143.39 L154.6 143.39 L154.8 143.39 L155 143.39 L155.2 143.39 L155.4 143.39 L155.6 143.39 L155.8 143.39 L156 143.39 L156.2 143.39 L156.4 143.39 L156.6 143.39 L156.8 143.39 L157 143.39 L157.2 143.39 L157.4 143.39 L157.6 143.39 L157.8 143.39 L158 143.39 L158.2 143.39 L158.4 143.39 L158.6 143.39 L158.8 143.39 L159 143.39 L159.2 143.39 L159.4 143.39 L159.6 143.39 L159.8 143.39 L160 143.39 L160.2 143.39 L160.4 143.39 L160.6 143.39 L160.8 143.39 L161 143.4 L161.2 143.4 L161.4 143.4 L161.6 143.4 L161.8 143.4 L162 143.4 L162.2 143.4 L162.4 143.4 L162.6 143.4 L162.8 143.4 L163 143.4 L163.2 143.4 L163.4 143.4 L163.6 143.4 L163.8 143.4 L164 143.4 L164.2 143.4 L164.4 143.4 L164.6 143.4 L164.8 143.4 L165 143.4 L165.2 143.4 L165.4 143.4 L165.6 143.4 L165.8 143.4 L166 143.4 L166.2 143.4 L166.4 143.4 L166.6 143.4 L166.8 143.4 L167 143.4 L167.2 143.4 L167.4 143.4 L167.6 143.4 L167.8 143.4 L168 143.4 L168.2 143.4 L168.4 143.4 L168.6 143.4 L168.8 143.4 L169 143.4 L169.2 143.4 L169.4 143.4 L169.6 143.4 L169.8 143.4 L170 143.4 L170.2 143.4 L170.4 143.4 L170.6 143.4 L170.8 143.4 L171 143.4 L171.2 143.4 L171.4 143.4 L171.6 143.4 L171.8 143.4 L172 143.4 L172.2 143.4 L172.4 143.4 L172.6 143.4 L172.8 143.4 L173 143.4 L173.2 143.4 L173.4 143.4 L173.6 143.4 L173.8 143.4 L174 143.4 L174.2 143.4 L174.4 143.4 L174.6 143.4 L174.8 143.4 L175 143.4 L175.2 143.4 L175.4 143.4 L175.6 143.4 L175.8 143.4 L176 143.4 L176.2 143.4 L176.4 143.4 L176.6 143.4 L176.8 143.4 L177 143.4 L177.2 143.4 L177.4 143.4 L177.6 143.4 L177.8 143.4 L178 143.4 L178.2 143.4 L178.4 143.4 L178.6 143.4 L178.8 143.4 L179 143.4 L179.2 143.4 L179.4 143.4 L179.6 143.4 L179.8 143.4 L180 143.4 L180.2 143.4 L180.4 143.4 L180.6 143.4 L180.8 143.4 L181 143.4 L181.2 143.4 L181.4 143.4 L181.6 143.4 L181.8 143.4 L182 143.4 L182.2 143.4 L182.4 143.4 L182.6 143.4 L182.8 143.4 L183 143.4 L183.2 143.4 L183.4 143.4 L183.6 143.4 L183.8 143.4 L184 143.4 L184.2 143.4 L184.4 143.4 L184.6 143.4 L184.8 143.4 L185 143.4 L185.2 143.4 L185.4 143.4 L185.6 143.4 L185.8 143.4 L186 143.4 L186.2 143.4 L186.4 143.4 L186.6 143.4 L186.8 143.4 L187 143.4 L187.2 143.4 L187.4 143.4 L187.6 143.4 L187.8 143.4 L188 143.4 L188.2 143.4 L188.4 143.4 L188.6 143.4 L188.8 143.4 L189 143.4 L189.2 143.4 L189.4 143.4 L189.6 143.4 L189.8 143.4 L190 143.4 L190.2 143.4 L190.4 143.4 L190.6 143.4 L190.8 143.4 L191 143.4 L191.2 143.4 L191.4 143.4 L191.6 143.4 L191.8 143.4 L192 143.4 L192.2 143.4 L192.4 143.4 L192.6 143.4 L192.8 143.4 L193 143.4 L193.2 143.4 L193.4 143.4 L193.6 143.4 L193.8 143.4 L194 143.4 L194.2 143.4 L194.4 143.4 L194.6 143.4 L194.8 143.4 L195 143.4 L195.2 143.4 L195.4 143.4 L195.6 143.4 L195.8 143.4 L196 143.4 L196.2 143.4 L196.4 143.4 L196.6 143.4 L196.8 143.4 L197 143.4 L197.2 143.4 L197.4 143.4 L197.6 143.4 L197.8 143.4 L198 143.4 L198.2 143.4 L198.4 143.4 L198.6 143.4 L198.8 143.4 L199 143.4 L199.2 143.4 L199.4 143.4 L199.6 143.4 L199.8 143.4 L200 143.4 L200.2 143.4 L200.4 143.4 L200.6 143.4 L200.8 143.4 L201 143.4 L201.2 143.4 L201.4 143.4 L201.6 143.4 L201.8 143.4 L202 143.4 L202.2 143.4 L202.4 143.4 L202.6 143.4 L202.8 143.4 L203 143.4 L203.2 143.4 L203.4 143.4 L203.6 143.4 L203.8 143.4 L204 143.4 L204.2 143.4 L204.4 143.4 L204.6 143.4 L204.8 143.4 L205 143.4 L205.2 143.4 L205.4 143.4 L205.6 143.4 L205.8 143.4 L206 143.4 L206.2 143.4 L206.4 143.4 L206.6 143.4 L206.8 143.4 L207 143.4 L207.2 143.4 L207.4 143.4 L207.6 143.4 L207.8 143.4 L208 143.4 L208.2 143.4 L208.4 143.4 L208.6 143.4 L208.8 143.4 L209 143.4 L209.2 143.4 L209.4 143.4 L209.6 143.4 L209.8 143.4 L210 143.4 L210.2 143.4 L210.4 143.4 L210.6 143.4 L210.8 143.4 L211 143.4 L211.2 143.4 L211.4 143.4 L211.6 143.4 L211.8 143.4 L212 143.4 L212.2 143.4 L212.4 143.4 L212.6 143.4 L212.8 143.4 L213 143.4 L213.2 143.4 L213.4 143.4 L213.6 143.4 L213.8 143.4 L214 143.4 L214.2 143.4 L214.4 143.4 L214.6 143.4 L214.8 143.4 L215 143.4 L215.2 143.4 L215.4 143.4 L215.6 143.4 L215.8 143.4 L216 143.4 L216.2 143.4 L216.4 143.4 L216.6 143.4 L216.8 143.4 L217 143.4 L217.2 143.4 L217.4 143.4 L217.6 143.4 L217.8 143.4 L218 143.4 L218.2 143.4 L218.4 143.4 L218.6 143.4 L218.8 143.4 L219 143.4 L219.2 143.4 L219.4 143.4 L219.6 143.4 L219.8 143.4 L220 143.4 L220.2 143.4 L220.4 143.4 L220.6 143.4 L220.8 143.4 L221 143.4 L221.2 143.4 L221.4 143.4 L221.6 143.4 L221.8 143.4 L222 143.4 L222.2 143.4 L222.4 143.4 L222.6 143.4 L222.8 143.4 L223 143.4 L223.2 143.4 L223.4 143.4 L223.6 143.4 L223.8 143.4 L224 143.4 L224.2 143.4 L224.4 143.4 L224.6 143.4 L224.8 143.4 L225 143.4 L225.2 143.4 L225.4 143.4 L225.6 143.4 L225.8 143.4 L226 143.4 L226.2 143.4 L226.4 143.4 L226.6 143.4 L226.8 143.4 L227 143.4 L227.2 143.4 L227.4 143.4 L227.6 143.4 L227.8 143.4 L228 143.4 L228.2 143.4 L228.4 143.4 L228.6 143.4 L228.8 143.4 L229 143.4 L229.2 143.4 L229.4 143.4 L229.6 143.4 L229.8 143.4 L230 143.4 L230.2 143.4 L230.4 143.4 L230.6 143.4 L230.8 143.4 L231 143.4 L231.2 143.4 L231.4 143.4 L231.6 143.4 L231.8 143.4 L232 143.4 L232.2 143.4 L232.4 143.4 L232.6 143.4 L232.8 143.4 L233 143.4 L233.2 143.4 L233.4 143.4 L233.6 143.4 L233.8 143.4 L234 143.4 L234.2 143.4 L234.4 143.4 L234.6 143.4 L234.8 143.4 L235 143.4 L235.2 143.4 L235.4 143.4 L235.6 143.4 L235.8 143.4 L236 143.4 L236.2 143.4 L236.4 143.4 L236.6 143.4 L236.8 143.4 L237 143.4 L237.2 143.4 L237.4 143.4 L237.6 143.4 L237.8 143.4 L238 143.4 L238.2 143.4 L238.4 143.4 L238.6 143.4 L238.8 143.4 L239 143.4 L239.2 143.4 L239.4 143.4 L239.6 143.4 L239.8 143.4 L240 143.4 L240.2 143.4 L240.4 143.4 L240.6 143.4 L240.8 143.4 L241 143.4 L241.2 143.4 L241.4 143.4 L241.6 143.4 L241.8 143.4 L242 143.4 L242.2 143.4 L242.4 143.4 L242.6 143.4 L242.8 143.4 L243 143.4 L243.2 143.4 L243.4 143.4 L243.6 143.4 L243.8 143.4 L244 143.4 L244.2 143.4 L244.4 143.4 L244.6 143.4 L244.8 143.4 L245 143.4 L245.2 143.4 L245.4 143.4 L245.6 143.4 L245.8 143.4 L246 143.4 L246.2 143.4 L246.4 143.4 L246.6 143.4 L246.8 143.4 L247 143.4 L247.2 143.4 L247.4 143.4 L247.6 143.4 L247.8 143.4 L248 143.4 L248.2 143.4 L248.4 143.4 L248.6 143.4 L248.8 143.4 L249 143.4 L249.2 143.4 L249.4 143.4 L249.6 143.4 L249.8 143.4 L250 143.4 L250.2 143.4 L250.4 143.4 L250.6 143.4 L250.8 143.4 L251 143.4 L251.2 143.4 L251.4 143.4 L251.6 143.4 L251.8 143.4 L252 143.4 L252.2 143.4 L252.4 143.4 L252.6 143.4 L252.8 143.4 L253 143.4 L253.2 143.4 L253.4 143.4 L253.6 143.4 L253.8 143.4 L254 143.4 L254.2 143.4 L254.4 143.4 L254.6 143.4 L254.8 143.4 L255 143.4 L255.2 143.4 L255.4 143.4 L255.6 143.4 L255.8 143.4 L256 143.4 L256.2 143.4 L256.4 143.4 L256.6 143.4 L256.8 143.4 L257 143.4 L257.2 143.4 L257.4 143.4 L257.6 143.4 L257.8 143.4 L258 143.4 L258.2 143.4 L258.4 143.4 L258.6 143.4 L258.8 143.4 L259 143.4 L259.2 143.4 L259.4 143.4 L259.6 143.4 L259.8 143.4 L260 143.4 L260.2 143.4 L260.4 143.4 L260.6 143.4 L260.8 143.4 L261 143.4 L261.2 143.4 L261.4 143.4 L261.6 143.4 L261.8 143.4 L262 143.4 L262.2 143.4 L262.4 143.4 L262.6 143.4 L262.8 143.4 L263 143.4 L263.2 143.4 L263.4 143.4 L263.6 143.4 L263.8 143.4 L264 143.4 L264.2 143.4 L264.4 143.4 L264.6 143.4 L264.8 143.4 L265 143.4 L265.2 143.4 L265.4 143.4 L265.6 143.4 L265.8 143.4 L266 143.4 L266.2 143.4 L266.4 143.4 L266.6 143.4 L266.8 143.4 L267 143.4 L267.2 143.4 L267.4 143.4 L267.6 143.4 L267.8 143.4 L268 143.4 L268.2 143.4 L268.4 143.4 L268.6 143.4 L268.8 143.4 L269 143.4 L269.2 143.4 L269.4 143.4 L269.6 143.4 L269.8 143.4 L270 143.4 L270.2 143.4 L270.4 143.4 L270.6 143.4 L270.8 143.4 L271 143.4 L271.2 143.4 L271.4 143.4 L271.6 143.4 L271.8 143.4 L272 143.4 L272.2 143.4 L272.4 143.4 L272.6 143.39 L272.8 143.39 L273 143.39 L273.2 143.39 L273.4 143.39 L273.6 143.39 L273.8 143.39 L274 143.39 L274.2 143.39 L274.4 143.39 L274.6 143.39 L274.8 143.39 L275 143.39 L275.2 143.39 L275.4 143.39 L275.6 143.39 L275.8 143.39 L276 143.39 L276.2 143.39 L276.4 143.39 L276.6 143.39 L276.8 143.39 L277 143.39 L277.2 143.39 L277.4 143.39 L277.6 143.39 L277.8 143.39 L278 143.39 L278.2 143.39 L278.4 143.39 L278.6 143.39 L278.8 143.39 L279 143.39 L279.2 143.39 L279.4 143.39 L279.6 143.39 L279.8 143.39 L280 143.39 L280.2 143.39 L280.4 143.39 L280.6 143.39 L280.8 143.39 L281 143.39 L281.2 143.39 L281.4 143.39 L281.6 143.39 L281.8 143.39 L282 143.39 L282.2 143.39 L282.4 143.39 L282.6 143.39 L282.8 143.39 L283 143.39 L283.2 143.39 L283.4 143.39 L283.6 143.39 L283.8 143.39 L284 143.39 L284.2 143.39 L284.4 143.39 L284.6 143.39 L284.8 143.39 L285 143.39 L285.2 143.39 L285.4 143.39 L285.6 143.39 L285.8 143.39 L286 143.39 L286.2 143.39 L286.4 143.39 L286.6 143.39 L286.8 143.39 L287 143.39 L287.2 143.39 L287.4 143.39 L287.6 143.39 L287.8 143.39 L288 143.39 L288.2 143.39 L288.4 143.39 L288.6 143.39 L288.8 143.39 L289 143.39 L289.2 143.39 L289.4 143.38 L289.6 143.38 L289.8 143.38 L290 143.38 L290.2 143.38 L290.4 143.38 L290.6 143.38 L290.8 143.38 L291 143.38 L291.2 143.38 L291.4 143.38 L291.6 143.38 L291.8 143.38 L292 143.38 L292.2 143.38 L292.4 143.38 L292.6 143.38 L292.8 143.38 L293 143.38 L293.2 143.38 L293.4 143.38 L293.6 143.38 L293.8 143.38 L294 143.38 L294.2 143.38 L294.4 143.37 L294.6 143.37 L294.8 143.37 L295 143.37 L295.2 143.37 L295.4 143.37 L295.6 143.37 L295.8 143.37 L296 143.37 L296.2 143.37 L296.4 143.37 L296.6 143.37 L296.8 143.36 L297 143.36 L297.2 143.36 L297.4 143.36 L297.6 143.36 L297.8 143.36 L298 143.36 L298.2 143.36 L298.4 143.36 L298.6 143.35 L298.8 143.35 L299 143.35 L299.2 143.35 L299.4 143.35 L299.6 143.34 L299.8 143.34 L300 143.34 L300.2 143.34 L300.4 143.34 L300.6 143.33 L300.8 143.33 L301 143.33 L301.2 143.32 L301.4 143.32 L301.6 143.32 L301.8 143.31 L302 143.31 L302.2 143.31 L302.4 143.3 L302.6 143.3 L302.8 143.29 L303 143.28 L303.2 143.28 L303.4 143.27 L303.6 143.26 L303.8 143.26 L304 143.25 L304.2 143.24 L304.4 143.23 L304.6 143.21 L304.8 143.2 L305 143.19 L305.2 143.17 L305.4 143.15 L305.6 143.13 L305.8 143.11 L306 143.08 L306.2 143.05 L306.4 143.02 L306.6 142.98 L306.8 142.93 L307 142.87 L307.2 142.81 L307.4 142.73 L307.6 142.63 L307.8 142.51 L308 142.36 L308.2 142.17 L308.4 141.92 L308.6 141.59 L308.8 141.12 L309 140.46 L309.2 139.46 L309.4 137.88 L309.6 135.3 L309.8 131.06 L310 125.15 L310.2 121.42 L310.4 124.28 L310.6 129.14 L310.8 131.92 L311 132.37 L311.2 131.33 L311.4 130.87 L311.6 132.86 L311.8 135.8 L312 138.1 L312.2 139.6 L312.4 140.58 L312.6 141.22 L312.8 141.67 L313 141.99 L313.2 142.23 L313.4 142.41 L313.6 142.56 L313.8 142.67 L314 142.76 L314.2 142.83 L314.4 142.9 L314.6 142.95 L314.8 142.99 L315 143.03 L315.2 143.06 L315.4 143.09 L315.6 143.12 L315.8 143.14 L316 143.16 L316.2 143.18 L316.4 143.19 L316.6 143.21 L316.8 143.22 L317 143.23 L317.2 143.24 L317.4 143.25 L317.6 143.26 L317.8 143.27 L318 143.27 L318.2 143.28 L318.4 143.29 L318.6 143.29 L318.8 143.3 L319 143.3 L319.2 143.31 L319.4 143.31 L319.6 143.32 L319.8 143.32 L320 143.32 L320.2 143.33 L320.4 143.33 L320.6 143.33 L320.8 143.33 L321 143.34 L321.2 143.34 L321.4 143.34 L321.6 143.34 L321.8 143.35 L322 143.35 L322.2 143.35 L322.4 143.35 L322.6 143.35 L322.8 143.35 L323 143.36 L323.2 143.36 L323.4 143.36 L323.6 143.36 L323.8 143.36 L324 143.36 L324.2 143.36 L324.4 143.36 L324.6 143.37 L324.8 143.37 L325 143.37 L325.2 143.37 L325.4 143.37 L325.6 143.37 L325.8 143.37 L326 143.37 L326.2 143.37 L326.4 143.37 L326.6 143.37 L326.8 143.37 L327 143.37 L327.2 143.38 L327.4 143.38 L327.6 143.38 L327.8 143.38 L328 143.38 L328.2 143.38 L328.4 143.38 L328.6 143.38 L328.8 143.38 L329 143.38 L329.2 143.38 L329.4 143.38 L329.6 143.38 L329.8 143.38 L330 143.38 L330.2 143.38 L330.4 143.38 L330.6 143.38 L330.8 143.38 L331 143.38 L331.2 143.38 L331.4 143.38 L331.6 143.38 L331.8 143.38 L332 143.39 L332.2 143.39 L332.4 143.39 L332.6 143.39 L332.8 143.39 L333 143.39 L333.2 143.39 L333.4 143.39 L333.6 143.39 L333.8 143.39 L334 143.39 L334.2 143.39 L334.4 143.39 L334.6 143.39 L334.8 143.39 L335 143.39 L335.2 143.39 L335.4 143.39 L335.6 143.39 L335.8 143.39 L336 143.39 L336.2 143.39 L336.4 143.39 L336.6 143.39 L336.8 143.39 L337 143.39 L337.2 143.39 L337.4 143.39 L337.6 143.39 L337.8 143.39 L338 143.39 L338.2 143.39 L338.4 143.39 L338.6 143.39 L338.8 143.39 L339 143.39 L339.2 143.39 L339.4 143.39 L339.6 143.39 L339.8 143.39 L340 143.39 L340.2 143.39 L340.4 143.39 L340.6 143.39 L340.8 143.39 L341 143.39 L341.2 143.39 L341.4 143.39 L341.6 143.39 L341.8 143.39 L342 143.39 L342.2 143.39 L342.4 143.39 L342.6 143.39 L342.8 143.39 L343 143.39 L343.2 143.39 L343.4 143.39 L343.6 143.39 L343.8 143.39 L344 143.39 L344.2 143.39 L344.4 143.39 L344.6 143.39 L344.8 143.39 L345 143.39 L345.2 143.39 L345.4 143.39 L345.6 143.39 L345.8 143.39 L346 143.39 L346.2 143.39 L346.4 143.39 L346.6 143.39 L346.8 143.39 L347 143.39 L347.2 143.39 L347.4 143.39 L347.6 143.39 L347.8 143.39 L348 143.4 L348.2 143.4 L348.4 143.4 L348.6 143.4 L348.8 143.4 L349 143.4 L349.2 143.4 L349.4 143.4 L349.6 143.4 L349.8 143.4 L350 143.4 L350.2 143.4 L350.4 143.4 L350.6 143.4 L350.8 143.4 L351 143.4 L351.2 143.4 L351.4 143.4 L351.6 143.4 L351.8 143.4 L352 143.4 L352.2 143.4 L352.4 143.4 L352.6 143.4 L352.8 143.4 L353 143.4 L353.2 143.4 L353.4 143.4 L353.6 143.4 L353.8 143.4 L354 143.4 L354.2 143.4 L354.4 143.4 L354.6 143.4 L354.8 143.4 L355 143.4 L355.2 143.4 L355.4 143.4 L355.6 143.4 L355.8 143.4 L356 143.4 L356.2 143.4 L356.4 143.4 L356.6 143.4 L356.8 143.4 L357 143.4 L357.2 143.4 L357.4 143.4 L357.6 143.4 L357.8 143.4 L358 143.4 L358.2 143.4 L358.4 143.4 L358.6 143.4 L358.8 143.4 L359 143.4 L359.2 143.4 L359.4 143.4 L359.6 143.4 L359.8 143.4 L360 143.4 L360.2 143.4 L360.4 143.4 L360.6 143.4 L360.8 143.4 L361 143.4 L361.2 143.4 L361.4 143.4 L361.6 143.4 L361.8 143.4 L362 143.4 L362.2 143.4 L362.4 143.4 L362.6 143.4 L362.8 143.4 L363 143.4 L363.2 143.4 L363.4 143.4 L363.6 143.4 L363.8 143.4 L364 143.4 L364.2 143.4 L364.4 143.4 L364.6 143.4 L364.8 143.4 L365 143.4 L365.2 143.4 L365.4 143.4 L365.6 143.4 L365.8 143.4 L366 143.4 L366.2 143.4 L366.4 143.4 L366.6 143.4 L366.8 143.4 L367 143.4 L367.2 143.4 L367.4 143.4 L367.6 143.4 L367.8 143.4 L368 143.4 L368.2 143.4 L368.4 143.4 L368.6 143.4 L368.8 143.4 L369 143.4 L369.2 143.4" fill="none" stroke="#2a1e1e" stroke-width="1.3" stroke-linejoin="round" />
<path d="M96.6 142.91 L96.8 142.85 L97 142.78 L97.2 142.69 L97.4 142.59 L97.6 142.46 L97.8 142.3 L98 142.09 L98.2 141.82 L98.4 141.44 L98.6 140.91 L98.8 140.14 L99 138.95 L99.2 137.04 L99.4 133.87 L99.6 128.91 L99.8 123.56 L100 123.18 L100.2 127.69 L100.4 131.57 L100.6 133.18 L100.8 132.78 L101 131.11 L101.2 130.3 L101.4 132.29 L101.6 135.4 L101.8 137.84 L102 139.44 L102.2 140.47 L102.4 141.14 L102.6 141.61 L102.8 141.95 L103 142.19 L103.2 142.38 L103.4 142.52 L103.6 142.64 L103.8 142.73 L104 142.81 L104.2 142.87 L104.4 142.92" fill="none" stroke="#16a03c" stroke-width="1.5" stroke-linejoin="round" />
<path d="M116.8 142.85 L117 142.77 L117.2 142.68 L117.4 142.57 L117.6 142.42 L117.8 142.23 L118 141.98 L118.2 141.64 L118.4 141.17 L118.6 140.49 L118.8 139.48 L119 137.9 L119.2 135.39 L119.4 131.49 L119.6 126.57 L119.8 123.88 L120 126.57 L120.2 131.49 L120.4 135.39 L120.6 137.91 L120.8 139.48 L121 140.5 L121.2 141.18 L121.4 141.65 L121.6 141.99 L121.8 142.24 L122 142.43 L122.2 142.57 L122.4 142.69 L122.6 142.78 L122.8 142.86" fill="none" stroke="#16a03c" stroke-width="1.5" stroke-linejoin="round" />
<path d="M307.4 142.73 L307.6 142.63 L307.8 142.51 L308 142.36 L308.2 142.17 L308.4 141.92 L308.6 141.59 L308.8 141.12 L309 140.46 L309.2 139.46 L309.4 137.88 L309.6 135.3 L309.8 131.06 L310 125.15 L310.2 121.42 L310.4 124.28 L310.6 129.14 L310.8 131.92 L311 132.37 L311.2 131.33 L311.4 130.87 L311.6 132.86 L311.8 135.8 L312 138.1 L312.2 139.6 L312.4 140.58 L312.6 141.22 L312.8 141.67 L313 141.99 L313.2 142.23 L313.4 142.41 L313.6 142.56 L313.8 142.67 L314 142.76 L314.2 142.83 L314.4 142.9" fill="none" stroke="#16a03c" stroke-width="1.5" stroke-linejoin="round" />
<path d="M6 189.31 L6.3 189.33 L6.6 189.42 L6.9 189.31 L7.2 189.31 L7.5 189.33 L7.8 189.23 L8.1 189.31 L8.4 189.34 L8.7 189.38 L9 189.21 L9.3 189.25 L9.6 189.2 L9.9 189.37 L10.2 189.34 L10.5 189.18 L10.8 189.41 L11.1 189.4 L11.4 189.33 L11.7 189.31 L12 189.2 L12.3 189.17 L12.6 189.29 L12.9 189.17 L13.2 189.2 L13.5 189.21 L13.8 189.16 L14.1 189.26 L14.4 189.25 L14.7 189.35 L15 189.27 L15.3 189.29 L15.6 189.26 L15.9 189.29 L16.2 189.24 L16.5 189.19 L16.8 189.36 L17.1 189.36 L17.4 189.32 L17.7 189.28 L18 189.19 L18.3 189.16 L18.6 189.17 L18.9 189.12 L19.2 189.28 L19.5 189.19 L19.8 189.29 L20.1 189.17 L20.4 189.31 L20.7 189.28 L21 189.07 L21.3 189.11 L21.6 189.28 L21.9 189.16 L22.2 189.28 L22.5 189.14 L22.8 189.05 L23.1 189.18 L23.4 189.21 L23.7 189.08 L24 189.03 L24.3 189.08 L24.6 189.22 L24.9 189.17 L25.2 189 L25.5 189.03 L25.8 188.98 L26.1 188.96 L26.4 189.13 L26.7 188.97 L27 189.05 L27.3 189.01 L27.6 188.94 L27.9 189.05 L28.2 188.9 L28.5 189 L28.8 188.86 L29.1 188.92 L29.4 188.85 L29.7 188.85 L30 189 L30.3 188.94 L30.6 188.8 L30.9 188.92 L31.2 188.73 L31.5 188.75 L31.8 188.83 L32.1 188.75 L32.4 188.59 L32.7 188.77 L33 188.55 L33.3 188.53 L33.6 188.61 L33.9 188.46 L34.2 188.41 L34.5 188.3 L34.8 188.25 L35.1 188.31 L35.4 188.17 L35.7 188.19 L36 188.06 L36.3 187.99 L36.6 188.03 L36.9 187.81 L37.2 187.73 L37.5 187.68 L37.8 187.39 L38.1 187.24 L38.4 187.26 L38.7 187.06 L39 186.72 L39.3 186.49 L39.6 186.37 L39.9 186.14 L40.2 185.65 L40.5 185.48 L40.8 185.07 L41.1 184.56 L41.4 184.01 L41.7 183.38 L42 182.74 L42.3 182.28 L42.6 181.37 L42.9 180.69 L43.2 179.77 L43.5 179.1 L43.8 178.28 L44.1 177.55 L44.4 177.03 L44.7 176.88 L45 176.68 L45.3 176.92 L45.6 177.43 L45.9 178.11 L46.2 178.78 L46.5 179.5 L46.8 180.47 L47.1 181.1 L47.4 181.81 L47.7 182.58 L48 183.26 L48.3 183.74 L48.6 184.29 L48.9 184.8 L49.2 185.26 L49.5 185.51 L49.8 185.89 L50.1 186.31 L50.4 186.59 L50.7 186.74 L51 186.95 L51.3 187.11 L51.6 187.17 L51.9 187.29 L52.2 187.42 L52.5 187.76 L52.8 187.82 L53.1 187.98 L53.4 187.85 L53.7 188.08 L54 188.12 L54.3 188.25 L54.6 188.22 L54.9 188.44 L55.2 188.27 L55.5 188.44 L55.8 188.53 L56.1 188.61 L56.4 188.61 L56.7 188.64 L57 188.7 L57.3 188.76 L57.6 188.66 L57.9 188.76 L58.2 188.84 L58.5 188.86 L58.8 188.78 L59.1 188.89 L59.4 188.93 L59.7 188.88 L60 188.91 L60.3 188.87 L60.6 188.93 L60.9 188.95 L61.2 188.84 L61.5 188.99 L61.8 189.09 L62.1 189.07 L62.4 189.05 L62.7 188.98 L63 189.07 L63.3 189.05 L63.6 189.02 L63.9 189.13 L64.2 188.95 L64.5 189.12 L64.8 188.96 L65.1 189.1 L65.4 189.08 L65.7 189.03 L66 189.15 L66.3 189.11 L66.6 189.14 L66.9 189.22 L67.2 189.07 L67.5 189.01 L67.8 189.09 L68.1 189.18 L68.4 189.07 L68.7 189.07 L69 189.25 L69.3 189.2 L69.6 189.15 L69.9 189.26 L70.2 189.13 L70.5 189.21 L70.8 189.11 L71.1 189.17 L71.4 189.26 L71.7 189.29 L72 189.28 L72.3 189.17 L72.6 189.22 L72.9 189.16 L73.2 189.12 L73.5 189.2 L73.8 189.29 L74.1 189.29 L74.4 189.26 L74.7 189.32 L75 189.16 L75.3 189.14 L75.6 189.21 L75.9 189.17 L76.2 189.16 L76.5 189.21 L76.8 189.26 L77.1 189.23 L77.4 189.19 L77.7 189.32 L78 189.35 L78.3 189.23 L78.6 189.14 L78.9 189.13 L79.2 189.33 L79.5 189.13 L79.8 189.29 L80.1 189.26 L80.4 189.2 L80.7 189.32 L81 189.13 L81.3 189.16 L81.6 189.24 L81.9 189.14 L82.2 189.33 L82.5 189.19 L82.8 189.17 L83.1 189.15 L83.4 189.29 L83.7 189.24 L84 189.29 L84.3 189.3 L84.6 189.33 L84.9 189.37 L85.2 189.3 L85.5 189.19 L85.8 189.26 L86.1 189.19 L86.4 189.15 L86.7 189.26 L87 189.32 L87.3 189.19 L87.6 189.21 L87.9 189.23 L88.2 189.31 L88.5 189.27 L88.8 189.29 L89.1 189.33 L89.4 189.24 L89.7 189.34 L90 189.37 L90.3 189.17 L90.6 189.37 L90.9 189.32 L91.2 189.18 L91.5 189.26 L91.8 189.3 L92.1 189.37 L92.4 189.24 L92.7 189.29 L93 189.36 L93.3 189.33 L93.6 189.35 L93.9 189.19 L94.2 189.16 L94.5 188.94 L94.8 188.88 L95.1 188.66 L95.4 188.3 L95.7 187.93 L96 187.38 L96.3 187.08 L96.6 186.62 L96.9 186.16 L97.2 185.61 L97.5 185.27 L97.8 184.81 L98.1 184.65 L98.4 184.38 L98.7 184.05 L99 183.83 L99.3 183.78 L99.6 183.71 L99.9 183.69 L100.2 183.57 L100.5 183.42 L100.8 183.59 L101.1 183.39 L101.4 183.56 L101.7 183.4 L102 183.43 L102.3 183.54 L102.6 183.38 L102.9 183.38 L103.2 183.47 L103.5 183.52 L103.8 183.55 L104.1 183.51 L104.4 183.57 L104.7 183.46 L105 183.57 L105.3 183.37 L105.6 183.4 L105.9 183.47 L106.2 183.41 L106.5 183.52 L106.8 183.5 L107.1 183.48 L107.4 183.56 L107.7 183.5 L108 183.46 L108.3 183.5 L108.6 183.65 L108.9 183.71 L109.2 183.62 L109.5 183.87 L109.8 184.02 L110.1 184.08 L110.4 184.3 L110.7 184.46 L111 184.84 L111.3 185.19 L111.6 185.61 L111.9 185.91 L112.2 186.6 L112.5 186.96 L112.8 187.4 L113.1 187.93 L113.4 188.25 L113.7 188.55 L114 188.85 L114.3 188.88 L114.6 189.11 L114.9 189.15 L115.2 189.32 L115.5 189.33 L115.8 189.18 L116.1 189.23 L116.4 189.15 L116.7 189.22 L117 189.31 L117.3 189.33 L117.6 189.23 L117.9 189.19 L118.2 189.16 L118.5 189.26 L118.8 189.33 L119.1 189.14 L119.4 189.29 L119.7 189.11 L120 189.15 L120.3 189.15 L120.6 189.26 L120.9 189.17 L121.2 189.18 L121.5 189.24 L121.8 189.11 L122.1 189.26 L122.4 189.11 L122.7 189.2 L123 189.14 L123.3 189.12 L123.6 189.2 L123.9 189.18 L124.2 189.16 L124.5 189.17 L124.8 189.19 L125.1 189.1 L125.4 189.11 L125.7 189.21 L126 189.21 L126.3 189.18 L126.6 189.25 L126.9 189.19 L127.2 189.24 L127.5 189.09 L127.8 189.21 L128.1 189.22 L128.4 189.24 L128.7 189.09 L129 189.09 L129.3 189.23 L129.6 189.05 L129.9 189.24 L130.2 189.2 L130.5 189.02 L130.8 189.04 L131.1 189.15 L131.4 189.03 L131.7 188.98 L132 189.15 L132.3 189.04 L132.6 189.12 L132.9 188.96 L133.2 189.01 L133.5 189.07 L133.8 188.9 L134.1 188.93 L134.4 189.04 L134.7 189.08 L135 189.08 L135.3 188.86 L135.6 188.94 L135.9 188.99 L136.2 188.91 L136.5 188.94 L136.8 188.8 L137.1 188.75 L137.4 188.74 L137.7 188.7 L138 188.8 L138.3 188.76 L138.6 188.75 L138.9 188.61 L139.2 188.59 L139.5 188.56 L139.8 188.67 L140.1 188.66 L140.4 188.6 L140.7 188.35 L141 188.29 L141.3 188.44 L141.6 188.25 L141.9 188.25 L142.2 188.06 L142.5 187.99 L142.8 187.9 L143.1 187.76 L143.4 187.66 L143.7 187.36 L144 187.35 L144.3 187.18 L144.6 186.78 L144.9 186.56 L145.2 186.3 L145.5 185.83 L145.8 185.32 L146.1 184.75 L146.4 184.14 L146.7 183.18 L147 182.34 L147.3 181 L147.6 179.32 L147.9 177.26 L148.2 174.56 L148.5 171.26 L148.8 167.48 L149.1 163.4 L149.4 159.97 L149.7 157.98 L150 158.26 L150.3 161.01 L150.6 164.8 L150.9 168.84 L151.2 172.5 L151.5 175.45 L151.8 178.01 L152.1 179.95 L152.4 181.44 L152.7 182.67 L153 183.64 L153.3 184.34 L153.6 185.06 L153.9 185.43 L154.2 185.93 L154.5 186.33 L154.8 186.53 L155.1 186.87 L155.4 187.17 L155.7 187.36 L156 187.43 L156.3 187.75 L156.6 187.82 L156.9 187.85 L157.2 188.03 L157.5 188.1 L157.8 188.17 L158.1 188.21 L158.4 188.42 L158.7 188.39 L159 188.46 L159.3 188.52 L159.6 188.61 L159.9 188.42 L160.2 188.6 L160.5 188.66 L160.8 188.57 L161.1 188.64 L161.4 188.58 L161.7 188.63 L162 188.7 L162.3 188.65 L162.6 188.7 L162.9 188.87 L163.2 188.8 L163.5 188.8 L163.8 188.93 L164.1 188.84 L164.4 188.95 L164.7 188.87 L165 188.92 L165.3 188.75 L165.6 188.88 L165.9 188.92 L166.2 188.75 L166.5 188.97 L166.8 188.78 L167.1 188.85 L167.4 188.78 L167.7 188.85 L168 188.88 L168.3 188.74 L168.6 188.94 L168.9 188.81 L169.2 188.82 L169.5 188.83 L169.8 188.75 L170.1 188.71 L170.4 188.76 L170.7 188.68 L171 188.51 L171.3 188.46 L171.6 188.12 L171.9 187.73 L172.2 187.4 L172.5 186.94 L172.8 186.59 L173.1 186.47 L173.4 186.26 L173.7 186.43 L174 186.55 L174.3 186.59 L174.6 186.99 L174.9 187.06 L175.2 186.81 L175.5 186.82 L175.8 186.35 L176.1 185.84 L176.4 185.23 L176.7 184.06 L177 182.79 L177.3 181.1 L177.6 178.76 L177.9 176.09 L178.2 173.91 L178.5 172.91 L178.8 173.82 L179.1 176 L179.4 178.72 L179.7 180.96 L180 182.68 L180.3 183.98 L180.6 185.09 L180.9 185.74 L181.2 186.38 L181.5 186.87 L181.8 187.15 L182.1 187.36 L182.4 187.65 L182.7 187.78 L183 187.99 L183.3 188.04 L183.6 188.24 L183.9 188.3 L184.2 188.3 L184.5 188.22 L184.8 188.22 L185.1 188.43 L185.4 188.42 L185.7 188.39 L186 188.33 L186.3 188.31 L186.6 188.4 L186.9 188.35 L187.2 188.34 L187.5 188.33 L187.8 188.33 L188.1 188.16 L188.4 188.14 L188.7 188.28 L189 188.23 L189.3 188.17 L189.6 187.93 L189.9 187.88 L190.2 187.88 L190.5 187.86 L190.8 187.85 L191.1 187.67 L191.4 187.71 L191.7 187.53 L192 187.47 L192.3 187.55 L192.6 187.45 L192.9 187.4 L193.2 187.26 L193.5 187.22 L193.8 187.08 L194.1 187.04 L194.4 187.07 L194.7 187.01 L195 186.72 L195.3 186.56 L195.6 186.41 L195.9 185.89 L196.2 185.39 L196.5 184.89 L196.8 184.95 L197.1 185.23 L197.4 185.78 L197.7 185.98 L198 186.2 L198.3 186.31 L198.6 186.13 L198.9 186.15 L199.2 186.16 L199.5 186.17 L199.8 186.02 L200.1 185.99 L200.4 185.9 L200.7 186.07 L201 185.87 L201.3 185.87 L201.6 185.98 L201.9 185.96 L202.2 186.01 L202.5 185.93 L202.8 186.05 L203.1 185.9 L203.4 185.95 L203.7 186.08 L204 185.96 L204.3 186.03 L204.6 186.15 L204.9 186.16 L205.2 186.07 L205.5 186.02 L205.8 186.02 L206.1 186.01 L206.4 185.75 L206.7 185.41 L207 185.16 L207.3 184.59 L207.6 184 L207.9 183.24 L208.2 182.43 L208.5 181.55 L208.8 181 L209.1 180.44 L209.4 180.25 L209.7 180.3 L210 180.66 L210.3 180.97 L210.6 181.12 L210.9 181.3 L211.2 181.19 L211.5 180.69 L211.8 179.71 L212.1 178.1 L212.4 175.75 L212.7 172.9 L213 169.81 L213.3 167.42 L213.6 167.17 L213.9 169.02 L214.2 172.12 L214.5 175.56 L214.8 178.41 L215.1 180.48 L215.4 182.1 L215.7 183.47 L216 184.38 L216.3 184.98 L216.6 185.35 L216.9 185.24 L217.2 184.93 L217.5 184.19 L217.8 183.69 L218.1 183.31 L218.4 183.09 L218.7 183.48 L219 184.43 L219.3 185.46 L219.6 186.25 L219.9 187.2 L220.2 187.67 L220.5 188.2 L220.8 188.4 L221.1 188.44 L221.4 188.51 L221.7 188.7 L222 188.69 L222.3 188.78 L222.6 188.73 L222.9 188.74 L223.2 188.92 L223.5 188.87 L223.8 188.85 L224.1 188.88 L224.4 188.94 L224.7 188.96 L225 189.02 L225.3 188.92 L225.6 189.03 L225.9 189 L226.2 189.06 L226.5 189.06 L226.8 189.07 L227.1 189.09 L227.4 189.12 L227.7 189.05 L228 189.03 L228.3 189.08 L228.6 189.11 L228.9 189.02 L229.2 189.02 L229.5 188.96 L229.8 189.11 L230.1 189.17 L230.4 189.03 L230.7 188.98 L231 188.99 L231.3 189.05 L231.6 189.02 L231.9 189.18 L232.2 188.97 L232.5 189.03 L232.8 188.98 L233.1 189.11 L233.4 189.15 L233.7 189 L234 188.98 L234.3 189.07 L234.6 189.1 L234.9 189.18 L235.2 188.97 L235.5 188.99 L235.8 189.01 L236.1 189.02 L236.4 189.02 L236.7 189.14 L237 189.11 L237.3 189.02 L237.6 189.01 L237.9 189.03 L238.2 189 L238.5 189.14 L238.8 189.04 L239.1 189.09 L239.4 189.16 L239.7 189.07 L240 189.02 L240.3 189.17 L240.6 189.17 L240.9 189.03 L241.2 189.08 L241.5 189.18 L241.8 189.06 L242.1 189 L242.4 188.96 L242.7 189.17 L243 189.13 L243.3 189.03 L243.6 189.06 L243.9 189.05 L244.2 188.99 L244.5 189.16 L244.8 189.08 L245.1 188.97 L245.4 188.92 L245.7 189.02 L246 189 L246.3 189.09 L246.6 189.07 L246.9 189.04 L247.2 188.93 L247.5 188.92 L247.8 188.96 L248.1 188.94 L248.4 189.08 L248.7 188.99 L249 189.01 L249.3 189.09 L249.6 188.91 L249.9 188.97 L250.2 188.87 L250.5 189.01 L250.8 188.82 L251.1 189 L251.4 189 L251.7 188.99 L252 188.8 L252.3 188.84 L252.6 188.93 L252.9 188.77 L253.2 188.85 L253.5 188.84 L253.8 188.94 L254.1 188.84 L254.4 188.89 L254.7 188.74 L255 188.84 L255.3 188.74 L255.6 188.84 L255.9 188.62 L256.2 188.78 L256.5 188.61 L256.8 188.67 L257.1 188.64 L257.4 188.53 L257.7 188.66 L258 188.51 L258.3 188.47 L258.6 188.39 L258.9 188.4 L259.2 188.41 L259.5 188.42 L259.8 188.29 L260.1 188.32 L260.4 188.13 L260.7 188.14 L261 188.1 L261.3 188.15 L261.6 188.05 L261.9 187.93 L262.2 187.68 L262.5 187.68 L262.8 187.65 L263.1 187.42 L263.4 187.37 L263.7 187.2 L264 186.93 L264.3 186.98 L264.6 186.73 L264.9 186.36 L265.2 186.19 L265.5 185.82 L265.8 185.5 L266.1 185.14 L266.4 184.63 L266.7 184.11 L267 183.51 L267.3 182.86 L267.6 181.92 L267.9 180.92 L268.2 179.89 L268.5 178.44 L268.8 177.02 L269.1 175.15 L269.4 173.22 L269.7 171.06 L270 169.16 L270.3 167.24 L270.6 166.05 L270.9 165.61 L271.2 166.18 L271.5 167.38 L271.8 169 L272.1 171.07 L272.4 173.24 L272.7 175.15 L273 176.81 L273.3 178.41 L273.6 179.74 L273.9 180.89 L274.2 181.95 L274.5 182.71 L274.8 183.63 L275.1 184.12 L275.4 184.67 L275.7 185.16 L276 185.58 L276.3 185.93 L276.6 186.12 L276.9 186.37 L277.2 186.62 L277.5 186.73 L277.8 187 L278.1 187.24 L278.4 187.45 L278.7 187.53 L279 187.62 L279.3 187.71 L279.6 187.66 L279.9 187.83 L280.2 187.91 L280.5 188.05 L280.8 187.99 L281.1 188.11 L281.4 188.2 L281.7 188.32 L282 188.38 L282.3 188.37 L282.6 188.3 L282.9 188.48 L283.2 188.55 L283.5 188.5 L283.8 188.48 L284.1 188.54 L284.4 188.48 L284.7 188.64 L285 188.73 L285.3 188.64 L285.6 188.71 L285.9 188.76 L286.2 188.62 L286.5 188.82 L286.8 188.76 L287.1 188.67 L287.4 188.65 L287.7 188.7 L288 188.8 L288.3 188.84 L288.6 188.76 L288.9 188.91 L289.2 188.79 L289.5 188.82 L289.8 188.75 L290.1 188.96 L290.4 188.76 L290.7 188.95 L291 188.87 L291.3 188.88 L291.6 188.89 L291.9 188.82 L292.2 188.98 L292.5 189 L292.8 188.97 L293.1 188.92 L293.4 188.81 L293.7 188.98 L294 188.85 L294.3 189 L294.6 188.84 L294.9 188.92 L295.2 188.99 L295.5 188.83 L295.8 188.92 L296.1 188.8 L296.4 188.79 L296.7 188.83 L297 189.02 L297.3 189.01 L297.6 188.94 L297.9 188.85 L298.2 188.93 L298.5 188.95 L298.8 188.86 L299.1 188.9 L299.4 188.95 L299.7 188.75 L300 188.79 L300.3 188.85 L300.6 188.76 L300.9 188.81 L301.2 188.84 L301.5 188.74 L301.8 188.81 L302.1 188.74 L302.4 188.8 L302.7 188.72 L303 188.78 L303.3 188.62 L303.6 188.75 L303.9 188.6 L304.2 188.78 L304.5 188.67 L304.8 188.61 L305.1 188.56 L305.4 188.58 L305.7 188.55 L306 188.53 L306.3 188.48 L306.6 188.36 L306.9 188.43 L307.2 188.32 L307.5 188.25 L307.8 188.06 L308.1 187.97 L308.4 187.89 L308.7 187.85 L309 187.61 L309.3 187.44 L309.6 187.22 L309.9 187.09 L310.2 186.67 L310.5 186.27 L310.8 186.02 L311.1 185.57 L311.4 184.91 L311.7 184.11 L312 183.17 L312.3 181.84 L312.6 180.37 L312.9 178.3 L313.2 175.96 L313.5 173.34 L313.8 170.62 L314.1 168.46 L314.4 167.54 L314.7 168.52 L315 170.6 L315.3 173.21 L315.6 175.86 L315.9 178.11 L316.2 179.8 L316.5 180.99 L316.8 181.95 L317.1 182.31 L317.4 182.22 L317.7 181.98 L318 181.4 L318.3 180.96 L318.6 180.38 L318.9 180.26 L319.2 180.27 L319.5 180.74 L319.8 181.24 L320.1 182.34 L320.4 183.24 L320.7 184.43 L321 185.54 L321.3 186.18 L321.6 186.94 L321.9 187.49 L322.2 187.88 L322.5 188.08 L322.8 188.45 L323.1 188.55 L323.4 188.53 L323.7 188.58 L324 188.68 L324.3 188.58 L324.6 188.61 L324.9 188.84 L325.2 188.72 L325.5 188.79 L325.8 188.92 L326.1 188.94 L326.4 188.84 L326.7 188.79 L327 188.83 L327.3 188.99 L327.6 189 L327.9 188.84 L328.2 189.01 L328.5 188.9 L328.8 188.94 L329.1 188.88 L329.4 189.06 L329.7 189.09 L330 188.91 L330.3 189.02 L330.6 188.92 L330.9 189.1 L331.2 188.9 L331.5 188.92 L331.8 189.08 L332.1 188.98 L332.4 189.13 L332.7 189.13 L333 189.09 L333.3 188.96 L333.6 189.1 L333.9 189.16 L334.2 189.05 L334.5 188.96 L334.8 189 L335.1 189.02 L335.4 189.12 L335.7 189 L336 189 L336.3 189.02 L336.6 189.13 L336.9 189.16 L337.2 189.06 L337.5 189.13 L337.8 189.19 L338.1 189.12 L338.4 189.04 L338.7 189.05 L339 189.21 L339.3 189.15 L339.6 189.05 L339.9 189.14 L340.2 189.01 L340.5 189.23 L340.8 189.1 L341.1 189.12 L341.4 189.13 L341.7 189.01 L342 189.15 L342.3 189.07 L342.6 189.06 L342.9 189.2 L343.2 189.03 L343.5 189.08 L343.8 189.19 L344.1 189.07 L344.4 189.08 L344.7 189.14 L345 189.06 L345.3 189.23 L345.6 189.25 L345.9 189.02 L346.2 189.13 L346.5 189.2 L346.8 189.11 L347.1 189.24 L347.4 189.14 L347.7 189.06 L348 189.16 L348.3 189.18 L348.6 189.11 L348.9 189.18 L349.2 189.21 L349.5 189.15 L349.8 189.15 L350.1 189.23 L350.4 189.19 L350.7 189.15 L351 189.26 L351.3 189.07 L351.6 189.22 L351.9 189.07 L352.2 189.18 L352.5 189.09 L352.8 189.14 L353.1 189.22 L353.4 189.22 L353.7 189.22 L354 189.09 L354.3 189.15 L354.6 189.09 L354.9 189.17 L355.2 189.16 L355.5 189.04 L355.8 189.18 L356.1 189.21 L356.4 189.17 L356.7 189.25 L357 189.08 L357.3 189.07 L357.6 189.04 L357.9 189.16 L358.2 189.14 L358.5 189.15 L358.8 189.1 L359.1 189.23 L359.4 189.06 L359.7 189.26 L360 189.18 L360.3 189.17 L360.6 189.23 L360.9 189.1 L361.2 189.08 L361.5 189.12 L361.8 189.05 L362.1 189.12 L362.4 189.19 L362.7 189.17 L363 189.11 L363.3 189.18 L363.6 189.06 L363.9 189.24 L364.2 189.08 L364.5 189.1 L364.8 189.08 L365.1 189.21 L365.4 189.24 L365.7 189.23 L366 189.06 L366.3 189.14 L366.6 189.13 L366.9 189.1 L367.2 189.28 L367.5 189.06 L367.8 189.16 L368.1 189.23 L368.4 189.28 L368.7 189.08 L369 189.15 L369.3 189.22" fill="none" stroke="#111" stroke-width="1.4" stroke-linejoin="round" />
<path d="M35.4 188.17 L35.7 188.19 L36 188.06 L36.3 187.99 L36.6 188.03 L36.9 187.81 L37.2 187.73 L37.5 187.68 L37.8 187.39 L38.1 187.24 L38.4 187.26 L38.7 187.06 L39 186.72 L39.3 186.49 L39.6 186.37 L39.9 186.14 L40.2 185.65 L40.5 185.48 L40.8 185.07 L41.1 184.56 L41.4 184.01 L41.7 183.38 L42 182.74 L42.3 182.28 L42.6 181.37 L42.9 180.69 L43.2 179.77 L43.5 179.1 L43.8 178.28 L44.1 177.55 L44.4 177.03 L44.7 176.88 L45 176.68 L45.3 176.92 L45.6 177.43 L45.9 178.11 L46.2 178.78 L46.5 179.5 L46.8 180.47 L47.1 181.1 L47.4 181.81 L47.7 182.58 L48 183.26 L48.3 183.74 L48.6 184.29 L48.9 184.8 L49.2 185.26 L49.5 185.51 L49.8 185.89 L50.1 186.31 L50.4 186.59 L50.7 186.74 L51 186.95 L51.3 187.11 L51.6 187.17 L51.9 187.29 L52.2 187.42 L52.5 187.76 L52.8 187.82 L53.1 187.98 L53.4 187.85 L53.7 188.08 L54 188.12 L54.3 188.25" fill="none" stroke="#16a03c" stroke-width="1.6" stroke-linejoin="round" />
<path d="M92.4 189.24 L92.7 189.29 L93 189.36 L93.3 189.33 L93.6 189.35 L93.9 189.19 L94.2 189.16 L94.5 188.94 L94.8 188.88 L95.1 188.66 L95.4 188.3 L95.7 187.93 L96 187.38 L96.3 187.08 L96.6 186.62 L96.9 186.16 L97.2 185.61 L97.5 185.27 L97.8 184.81 L98.1 184.65 L98.4 184.38 L98.7 184.05 L99 183.83 L99.3 183.78 L99.6 183.71 L99.9 183.69 L100.2 183.57 L100.5 183.42 L100.8 183.59 L101.1 183.39 L101.4 183.56 L101.7 183.4 L102 183.43 L102.3 183.54 L102.6 183.38 L102.9 183.38 L103.2 183.47 L103.5 183.52 L103.8 183.55 L104.1 183.51 L104.4 183.57 L104.7 183.46 L105 183.57 L105.3 183.37 L105.6 183.4 L105.9 183.47 L106.2 183.41 L106.5 183.52 L106.8 183.5 L107.1 183.48 L107.4 183.56 L107.7 183.5 L108 183.46 L108.3 183.5 L108.6 183.65 L108.9 183.71 L109.2 183.62 L109.5 183.87 L109.8 184.02 L110.1 184.08 L110.4 184.3 L110.7 184.46 L111 184.84 L111.3 185.19 L111.6 185.61 L111.9 185.91 L112.2 186.6 L112.5 186.96 L112.8 187.4 L113.1 187.93 L113.4 188.25 L113.7 188.55 L114 188.85 L114.3 188.88 L114.6 189.11" fill="none" stroke="#16a03c" stroke-width="1.6" stroke-linejoin="round" />
<path d="M143.1 187.76 L143.4 187.66 L143.7 187.36 L144 187.35 L144.3 187.18 L144.6 186.78 L144.9 186.56 L145.2 186.3 L145.5 185.83 L145.8 185.32 L146.1 184.75 L146.4 184.14 L146.7 183.18 L147 182.34 L147.3 181 L147.6 179.32 L147.9 177.26 L148.2 174.56 L148.5 171.26 L148.8 167.48 L149.1 163.4 L149.4 159.97 L149.7 157.98 L150 158.26 L150.3 161.01 L150.6 164.8 L150.9 168.84 L151.2 172.5 L151.5 175.45 L151.8 178.01 L152.1 179.95 L152.4 181.44 L152.7 182.67 L153 183.64 L153.3 184.34 L153.6 185.06 L153.9 185.43 L154.2 185.93 L154.5 186.33 L154.8 186.53 L155.1 186.87 L155.4 187.17 L155.7 187.36 L156 187.43 L156.3 187.75 L156.6 187.82 L156.9 187.85 L157.2 188.03" fill="none" stroke="#16a03c" stroke-width="1.6" stroke-linejoin="round" />
<path d="M261 188.1 L261.3 188.15 L261.6 188.05 L261.9 187.93 L262.2 187.68 L262.5 187.68 L262.8 187.65 L263.1 187.42 L263.4 187.37 L263.7 187.2 L264 186.93 L264.3 186.98 L264.6 186.73 L264.9 186.36 L265.2 186.19 L265.5 185.82 L265.8 185.5 L266.1 185.14 L266.4 184.63 L266.7 184.11 L267 183.51 L267.3 182.86 L267.6 181.92 L267.9 180.92 L268.2 179.89 L268.5 178.44 L268.8 177.02 L269.1 175.15 L269.4 173.22 L269.7 171.06 L270 169.16 L270.3 167.24 L270.6 166.05 L270.9 165.61 L271.2 166.18 L271.5 167.38 L271.8 169 L272.1 171.07 L272.4 173.24 L272.7 175.15 L273 176.81 L273.3 178.41 L273.6 179.74 L273.9 180.89 L274.2 181.95 L274.5 182.71 L274.8 183.63 L275.1 184.12 L275.4 184.67 L275.7 185.16 L276 185.58 L276.3 185.93 L276.6 186.12 L276.9 186.37 L277.2 186.62 L277.5 186.73 L277.8 187 L278.1 187.24 L278.4 187.45" fill="none" stroke="#16a03c" stroke-width="1.6" stroke-linejoin="round" />
<path d="M308.1 187.97 L308.4 187.89 L308.7 187.85 L309 187.61 L309.3 187.44 L309.6 187.22 L309.9 187.09 L310.2 186.67 L310.5 186.27 L310.8 186.02 L311.1 185.57 L311.4 184.91 L311.7 184.11 L312 183.17 L312.3 181.84 L312.6 180.37 L312.9 178.3 L313.2 175.96 L313.5 173.34 L313.8 170.62 L314.1 168.46 L314.4 167.54 L314.7 168.52 L315 170.6 L315.3 173.21 L315.6 175.86 L315.9 178.11 L316.2 179.8 L316.5 180.99 L316.8 181.95 L317.1 182.31 L317.4 182.22 L317.7 181.98 L318 181.4 L318.3 180.96 L318.6 180.38 L318.9 180.26 L319.2 180.27 L319.5 180.74 L319.8 181.24 L320.1 182.34 L320.4 183.24 L320.7 184.43 L321 185.54 L321.3 186.18 L321.6 186.94 L321.9 187.49 L322.2 187.88 L322.5 188.08 L322.8 188.45 L323.1 188.55 L323.4 188.53 L323.7 188.58 L324 188.68 L324.3 188.58 L324.6 188.61 L324.9 188.84 L325.2 188.72 L325.5 188.79 L325.8 188.92 L326.1 188.94 L326.4 188.84 L326.7 188.79" fill="none" stroke="#16a03c" stroke-width="1.6" stroke-linejoin="round" />
<path d="M172.2 187.4 L172.5 186.94 L172.8 186.59 L173.1 186.47 L173.4 186.26 L173.7 186.43 L174 186.55 L174.3 186.59 L174.6 186.99 L174.9 187.06 L175.2 186.81 L175.5 186.82 L175.8 186.35 L176.1 185.84 L176.4 185.23 L176.7 184.06 L177 182.79 L177.3 181.1 L177.6 178.76 L177.9 176.09 L178.2 173.91 L178.5 172.91 L178.8 173.82 L179.1 176 L179.4 178.72 L179.7 180.96 L180 182.68 L180.3 183.98 L180.6 185.09 L180.9 185.74 L181.2 186.38 L181.5 186.87 L181.8 187.15 L182.1 187.36 L182.4 187.65 L182.7 187.78 L183 187.99 L183.3 188.04 L183.6 188.24 L183.9 188.3 L184.2 188.3 L184.5 188.22 L184.8 188.22 L185.1 188.43 L185.4 188.42 L185.7 188.39 L186 188.33 L186.3 188.31 L186.6 188.4 L186.9 188.35 L187.2 188.34 L187.5 188.33 L187.8 188.33 L188.1 188.16 L188.4 188.14 L188.7 188.28 L189 188.23 L189.3 188.17 L189.6 187.93 L189.9 187.88 L190.2 187.88 L190.5 187.86 L190.8 187.85 L191.1 187.67 L191.4 187.71 L191.7 187.53 L192 187.47 L192.3 187.55 L192.6 187.45 L192.9 187.4 L193.2 187.26 L193.5 187.22 L193.8 187.08 L194.1 187.04 L194.4 187.07 L194.7 187.01 L195 186.72 L195.3 186.56 L195.6 186.41 L195.9 185.89 L196.2 185.39 L196.5 184.89 L196.8 184.95 L197.1 185.23 L197.4 185.78 L197.7 185.98 L198 186.2 L198.3 186.31 L198.6 186.13 L198.9 186.15 L199.2 186.16 L199.5 186.17 L199.8 186.02 L200.1 185.99 L200.4 185.9 L200.7 186.07 L201 185.87 L201.3 185.87 L201.6 185.98 L201.9 185.96 L202.2 186.01 L202.5 185.93 L202.8 186.05 L203.1 185.9 L203.4 185.95 L203.7 186.08 L204 185.96 L204.3 186.03 L204.6 186.15 L204.9 186.16 L205.2 186.07 L205.5 186.02 L205.8 186.02 L206.1 186.01 L206.4 185.75 L206.7 185.41 L207 185.16 L207.3 184.59 L207.6 184 L207.9 183.24 L208.2 182.43 L208.5 181.55 L208.8 181 L209.1 180.44 L209.4 180.25 L209.7 180.3 L210 180.66 L210.3 180.97 L210.6 181.12 L210.9 181.3 L211.2 181.19 L211.5 180.69 L211.8 179.71 L212.1 178.1 L212.4 175.75 L212.7 172.9 L213 169.81 L213.3 167.42 L213.6 167.17 L213.9 169.02 L214.2 172.12 L214.5 175.56 L214.8 178.41 L215.1 180.48 L215.4 182.1 L215.7 183.47 L216 184.38 L216.3 184.98 L216.6 185.35 L216.9 185.24 L217.2 184.93 L217.5 184.19 L217.8 183.69 L218.1 183.31 L218.4 183.09 L218.7 183.48 L219 184.43 L219.3 185.46 L219.6 186.25 L219.9 187.2 L220.2 187.67 L220.5 188.2 L220.8 188.4 L221.1 188.44 L221.4 188.51 L221.7 188.7 L222 188.69 L222.3 188.78 L222.6 188.73 L222.9 188.74 L223.2 188.92 L223.5 188.87 L223.8 188.85 L224.1 188.88 L224.4 188.94" fill="none" stroke="#0a0aee" stroke-width="1.6" stroke-linejoin="round" />
<text x="362.64" y="139.7" font-size="10.8" font-weight="bold" textLength="5.29" lengthAdjust="spacingAndGlyphs">1</text>
<text x="362.65" y="184.9" font-size="10.8" font-weight="bold">4</text>
<text x="96.2" y="121.6" font-size="10.8" font-family="Liberation Sans, sans-serif">H<tspan font-size="7.8">a</tspan></text>
<text x="116.8" y="121.6" font-size="10.8" font-family="Liberation Sans, sans-serif">H<tspan font-size="7.8">c</tspan></text>
<text x="305.8" y="121.6" font-size="10.8" font-family="Liberation Sans, sans-serif">H<tspan font-size="7.8">b</tspan></text>
<text x="33.4" y="174.5" font-size="10.8" font-family="Liberation Sans, sans-serif">H<tspan font-size="7.8">a</tspan></text>
<text x="106.8" y="181.2" font-size="10.8" font-family="Liberation Sans, sans-serif">H<tspan font-size="7.8">a</tspan></text>
<text x="135.9" y="158" font-size="10.8" font-family="Liberation Sans, sans-serif">H<tspan font-size="7.8">c</tspan></text>
<text x="173.9" y="169.2" font-size="10.8" font-family="Liberation Sans, sans-serif">H<tspan font-size="7.8">1</tspan></text>
<text x="191.7" y="180.2" font-size="10.8" font-family="Liberation Sans, sans-serif">H<tspan font-size="7.8">2</tspan></text>
<text x="208.2" y="162.6" font-size="10.8" font-family="Liberation Sans, sans-serif">H<tspan font-size="7.8">3</tspan></text>
<text x="257.4" y="163.6" font-size="10.8" font-family="Liberation Sans, sans-serif">H<tspan font-size="7.8">b</tspan></text>
<text x="318" y="167.4" font-size="10.8" font-family="Liberation Sans, sans-serif">H<tspan font-size="7.8">b</tspan></text>
<path d="M100 144.2 L47 176 M100.6 144.2 L103.5 180.3 M310.3 144.2 L271.5 164 M310.8 144.2 L314.3 165" stroke="#222" stroke-width="0.8" stroke-dasharray="2 1.5" fill="none"/>
<path d="M6.6 199 H369.5" stroke="#2a2222" stroke-width="1.6" fill="none"/>
<path d="M19.9 198.8 V201 M52.5 198.8 V201 M85.1 198.8 V201 M117.7 198.8 V201 M150.3 198.8 V201 M182.9 198.8 V201 M215.5 198.8 V201 M248.1 198.8 V201 M280.7 198.8 V201 M313.3 198.8 V201 M345.9 198.8 V201" stroke="#000" stroke-width="1" fill="none"/>
<text x="19.9" y="212.5" font-size="10.4" text-anchor="middle" fill="#000" >9.2</text>
<text x="85.1" y="212.5" font-size="10.4" text-anchor="middle" fill="#000" >8.8</text>
<text x="150.3" y="212.5" font-size="10.4" text-anchor="middle" fill="#000" >8.4</text>
<text x="215.5" y="212.5" font-size="10.4" text-anchor="middle" fill="#000" >8.0</text>
<text x="280.7" y="212.5" font-size="10.4" text-anchor="middle" fill="#000" >7.6</text>
<text x="369.5" y="212.4" font-size="10.5" text-anchor="end" font-style="italic" fill="#000" >ppm</text>
<text x="379.01" y="9.7" font-size="13.4" textLength="17.21" lengthAdjust="spacingAndGlyphs">(e)</text>
<path d="M402.4 1.3 H683.8 V199 H402.4 Z" stroke="#000" stroke-width="1.5" fill="none"/>
<path d="M436.5 199 V188 M439.6 199 V128.3 M443.2 199 V190.2 M462.4 199 V186.1 M463.5 199 V191.3 M465.5 199 V159.9 M466.8 199 V195.9 M476.5 199 V195.4 M478.1 199 V180.7 M481.2 199 V189.7 M481.8 199 V138.5 M486.4 199 V190.2 M487.2 199 V191.8 M489.7 199 V196.2 M491.3 199 V195.4 M496.5 199 V166.9 M497.8 199 V185.6 M499.2 199 V31.7 M498.3 199 V186 M500.3 199 V184 M501.2 199 V188 M502.4 199 V190 M503.3 199 V192 M495.3 199 V192 M494.5 199 V194 M506.8 199 V191.3 M508.4 199 V186.1 M511.6 199 V188.9 M512.8 199 V188.9 M514.2 199 V159 M524.7 199 V193 M526.8 199 V194.6 M529.3 199 V190.2 M542.3 199 V190 M543.4 199 V185.3 M544.5 199 V189 M545.3 199 V186 M546.1 199 V142.9 M547.2 199 V190 M548 199 V193 M550.2 199 V196.2 M554.8 199 V167.5 M561.4 199 V194.6 M562.2 199 V193.8 M564.3 199 V181 M580.1 199 V196.2 M582.3 199 V194.1 M614.4 199 V196.2 M617.3 199 V186.4 M639.9 199 V194 M535.89 199 V197.24 M565.18 199 V196.9 M555.78 199 V196.93 M434.93 199 V197.71 M590.37 199 V197.4 M583.15 199 V198.31 M509.74 199 V198.08 M522.44 199 V197.52 M432.23 199 V198.13 M477.51 199 V196.94 M560.17 199 V198.23 M565.51 199 V198.26 M534.97 199 V198.28 M430.3 199 V197.02 M465.61 199 V198.13 M597.01 199 V197.02 M479.18 199 V196.87 M521.67 199 V197.35 M464.81 199 V196.9 M547.41 199 V192.28 M480.79 199 V197.89 M458.21 199 V198.25 M441.07 199 V197.99 M532.53 199 V198.49 M545.25 199 V195.69 M569.15 199 V197.68 M483.68 199 V197.68 M549.79 199 V193.5 M433.89 199 V197.23 M573.63 199 V198.47 M563.92 199 V197.88 M528.35 199 V198.48 M437.94 199 V198.19 M592.38 199 V198.17 M558.48 199 V196.92 M590.15 199 V197.91 M490.31 199 V197.61 M561.85 199 V198.32 M557.23 199 V197.14 M576.15 199 V198.44 M590.79 199 V198.34 M487.93 199 V197.46 M586.07 199 V197.92 M587.11 199 V197.57 M483.12 199 V197.96 M460.17 199 V198.37 M455.31 199 V197.33 M599.44 199 V198.23 M438.25 199 V196.82 M520.7 199 V197.81 M470.35 199 V197.49 M570.47 199 V197.73 M501.7 199 V193.74 M435.56 199 V197.66 M572.53 199 V198.28 M554.38 199 V196.89 M537.17 199 V197.16 M448.13 199 V197.76 M455.37 199 V197.06 M480.12 199 V197.73 M599.88 199 V197.05 M595.92 199 V197.73 M512.99 199 V197.26 M511.44 199 V198.01 M498.64 199 V195.74 M598.03 199 V196.87 M536.58 199 V197.65 M487.54 199 V198.35 M476.29 199 V197.17 M577.46 199 V197.89 M563.62 199 V197.18 M548.08 199 V193.33 M491.78 199 V197.3 M477.74 199 V197.67 M560.86 199 V197.33 M479.95 199 V196.89 M540.45 199 V196.47 M522.99 199 V198.07 M544.18 199 V193.45 M540.06 199 V194.75 M539.49 199 V197.25 M570.79 199 V197.9 M573.29 199 V197.02 M547.02 199 V192.01 M518.08 199 V197.6 M458.25 199 V197.08 M589.35 199 V197.69 M547.54 199 V193.36 M459.21 199 V197.17 M528.74 199 V197.37 M501.53 199 V193.34 M538.27 199 V197.28 M434.7 199 V198.23 M504.98 199 V195.52 M546.61 199 V196.26 M510.17 199 V198.12 M439.2 199 V198.27 M483.95 199 V198.19 M462.87 199 V198.44 M509.11 199 V197.85 M534 199 V197.5 M470.43 199 V196.96 M430.11 199 V197.81 M477.35 199 V197.8 M449.56 199 V197.09 M493.56 199 V198.44 M534.31 199 V198.34 M522.69 199 V197.92 M528.75 199 V196.87 M569.15 199 V197.79 M568.21 199 V197.41 M492.81 199 V198.26 M531.31 199 V197.54 M592.73 199 V196.85 M533.46 199 V197.9 M581.89 199 V198.5 M448.35 199 V197.54 M534.58 199 V198.26 M537.01 199 V196.98 M493.89 199 V197.77 M468.48 199 V198 M595.32 199 V197.85 M593.39 199 V196.95 M531.29 199 V198.06 M596.77 199 V197.66 M500.63 199 V193.02 M513.6 199 V198.01 M511.08 199 V198.29 M535.69 199 V197.75 M479.83 199 V197.17 M570.56 199 V198.48 M520.54 199 V198.03 M588.99 199 V197.17 M471.76 199 V198.04 M456.31 199 V196.82 M479.84 199 V197.47 M510.69 199 V197.4 M532.66 199 V197.24 M450.09 199 V197.21 M481.12 199 V197.59 M487.14 199 V198 M520.08 199 V197.71 M491.38 199 V197.23 M530.44 199 V198.44 M472.91 199 V197.73 M585.82 199 V196.99 M522.75 199 V198.48 M562.33 199 V197.77 M527.86 199 V197.3 M537.48 199 V197.68 M584.99 199 V197.84 M496.62 199 V195.27 M480.4 199 V197.09 M441.23 199 V197.08 M548.09 199 V195.62 M562.72 199 V196.95 M454.26 199 V197.69 M523.35 199 V197.65 M486.23 199 V198.24 M529.59 199 V197.12 M441.63 199 V198.11 M569.33 199 V197.15 M542.81 199 V194.57 M596.38 199 V196.8 M549.21 199 V194.05 M467.27 199 V197.4 M591.88 199 V197.29 M452.89 199 V198 M586.06 199 V198.25 M533.8 199 V197.8" stroke="#000" stroke-width="1.05" fill="none"/>
<path d="M495.6 199 L497.3 189 L499 185.5 L500.6 189.5 L502.6 196.5 L504.5 199 Z M541.5 199 L543.5 192 L545.5 189 L547.2 192.5 L549 199 Z" fill="#000"/>
<path d="M402.4 199 V202.6 M421.17 199 V201.4 M439.94 199 V202.6 M458.71 199 V201.4 M477.48 199 V202.6 M496.25 199 V201.4 M515.02 199 V202.6 M533.79 199 V201.4 M552.56 199 V202.6 M571.33 199 V201.4 M590.1 199 V202.6 M608.87 199 V201.4 M627.64 199 V202.6 M646.41 199 V201.4 M665.18 199 V202.6" stroke="#000" stroke-width="1" fill="none"/>
<text x="404.6" y="215.6" font-size="10.6" text-anchor="middle" fill="#000" >600</text>
<text x="477.48" y="215.6" font-size="10.6" text-anchor="middle" fill="#000" >1000</text>
<text x="552.56" y="215.6" font-size="10.6" text-anchor="middle" fill="#000" >1400</text>
<text x="627.64" y="215.6" font-size="10.6" text-anchor="middle" fill="#000" >1800</text>
<text x="684.5" y="215.3" font-size="10.5" text-anchor="end" font-style="italic" fill="#000" >m/z</text>
<text x="476.71" y="17" font-size="8.8" textLength="3.22" lengthAdjust="spacingAndGlyphs">[</text>
<text x="480.22" y="16.8" font-size="8.6" font-weight="bold" textLength="5.42" lengthAdjust="spacingAndGlyphs">4</text>
<text x="486.5" y="16.6" font-size="8.6" textLength="4.6" lengthAdjust="spacingAndGlyphs">-</text>
<text x="494.71" y="16.8" font-size="8.6" textLength="22.72" lengthAdjust="spacingAndGlyphs">6OTf</text>
<text x="519.8" y="17" font-size="8.8" textLength="3.22" lengthAdjust="spacingAndGlyphs">]</text>
<text x="523.05" y="13" font-size="6.2" fill="#444" textLength="6.95" lengthAdjust="spacingAndGlyphs">6+</text>
<text x="475.31" y="27.2" font-size="9.7" textLength="46.67" lengthAdjust="spacingAndGlyphs">1112.6855</text>
<text x="418.71" y="97" font-size="8.8" textLength="3.22" lengthAdjust="spacingAndGlyphs">[</text>
<text x="422.22" y="96.8" font-size="8.6" font-weight="bold" textLength="5.42" lengthAdjust="spacingAndGlyphs">4</text>
<text x="428.5" y="96.6" font-size="8.6" textLength="4.6" lengthAdjust="spacingAndGlyphs">-</text>
<text x="436.71" y="96.8" font-size="8.6" textLength="22.72" lengthAdjust="spacingAndGlyphs">8OTf</text>
<text x="461.8" y="97" font-size="8.8" textLength="3.22" lengthAdjust="spacingAndGlyphs">]</text>
<text x="465.05" y="93.1" font-size="6.2" fill="#444" textLength="6.95" lengthAdjust="spacingAndGlyphs">8+</text>
<text x="419.16" y="107.7" font-size="9.7" textLength="43.27" lengthAdjust="spacingAndGlyphs">797.3888</text>
<text x="446.11" y="122.9" font-size="8.8" textLength="3.22" lengthAdjust="spacingAndGlyphs">[</text>
<text x="449.62" y="122.7" font-size="8.6" font-weight="bold" textLength="5.42" lengthAdjust="spacingAndGlyphs">4</text>
<text x="455.9" y="122.5" font-size="8.6" textLength="4.6" lengthAdjust="spacingAndGlyphs">-</text>
<text x="464.11" y="122.7" font-size="8.6" textLength="22.72" lengthAdjust="spacingAndGlyphs">7OTf</text>
<text x="489.2" y="122.9" font-size="8.8" textLength="3.22" lengthAdjust="spacingAndGlyphs">]</text>
<text x="492.45" y="118.5" font-size="6.2" fill="#444" textLength="6.95" lengthAdjust="spacingAndGlyphs">7+</text>
<text x="450.86" y="134.1" font-size="9.7" textLength="43.68" lengthAdjust="spacingAndGlyphs">932.3615</text>
<text x="523.81" y="126.6" font-size="8.8" textLength="3.22" lengthAdjust="spacingAndGlyphs">[</text>
<text x="527.32" y="126.4" font-size="8.6" font-weight="bold" textLength="5.42" lengthAdjust="spacingAndGlyphs">4</text>
<text x="533.6" y="126.2" font-size="8.6" textLength="4.6" lengthAdjust="spacingAndGlyphs">-</text>
<text x="541.81" y="126.4" font-size="8.6" textLength="22.72" lengthAdjust="spacingAndGlyphs">5OTf</text>
<text x="566.9" y="126.6" font-size="8.8" textLength="3.22" lengthAdjust="spacingAndGlyphs">]</text>
<text x="570.15" y="123.3" font-size="6.2" fill="#444" textLength="6.95" lengthAdjust="spacingAndGlyphs">5+</text>
<text x="523.22" y="137.1" font-size="9.7" textLength="47.34" lengthAdjust="spacingAndGlyphs">1365.0142</text>
<text x="595.11" y="169" font-size="8.8" textLength="3.22" lengthAdjust="spacingAndGlyphs">[</text>
<text x="598.62" y="168.8" font-size="8.6" font-weight="bold" textLength="5.42" lengthAdjust="spacingAndGlyphs">4</text>
<text x="604.9" y="168.6" font-size="8.6" textLength="4.6" lengthAdjust="spacingAndGlyphs">-</text>
<text x="613.41" y="168.8" font-size="8.6" textLength="22.42" lengthAdjust="spacingAndGlyphs">4OTf</text>
<text x="638.2" y="169" font-size="8.8" textLength="3.22" lengthAdjust="spacingAndGlyphs">]</text>
<text x="641.45" y="166.1" font-size="6.2" fill="#444" textLength="6.95" lengthAdjust="spacingAndGlyphs">4+</text>
<text x="593.62" y="180.1" font-size="9.7" textLength="47.49" lengthAdjust="spacingAndGlyphs">1743.5010</text>
<rect x="551.3" y="1.6" width="132.5" height="93.7" fill="#fff" stroke="#000" stroke-width="1.2"/>
<text x="555.21" y="12.5" font-size="10" textLength="25.26" lengthAdjust="spacingAndGlyphs">Calcd</text>
<text x="580.8" y="12.5" font-size="10">:</text>
<text x="584.77" y="12.5" font-size="10" textLength="45.95" lengthAdjust="spacingAndGlyphs">1365.0043</text>
<text x="555.54" y="58.9" font-size="10" textLength="28.67" lengthAdjust="spacingAndGlyphs">Found</text>
<text x="583.9" y="58.9" font-size="10">:</text>
<text x="587.29" y="58.9" font-size="10" textLength="44.61" lengthAdjust="spacingAndGlyphs">1365.0142</text>
<text x="664.08" y="16.6" font-size="12.3" font-weight="bold" textLength="14.46" lengthAdjust="spacingAndGlyphs">5+</text>
<path d="M560.8 46.29 L561.05 46.28 L561.3 46.26 L561.55 46.22 L561.8 46.14 L562.05 46 L562.3 45.77 L562.55 45.44 L562.8 44.98 L563.05 44.43 L563.3 43.81 L563.55 43.21 L563.8 42.73 L564.05 42.45 L564.3 42.42 L564.55 42.66 L564.8 43.11 L565.05 43.69 L565.3 44.31 L565.55 44.88 L565.8 45.36 L566.05 45.71 L566.3 45.96 L566.55 46.12 L566.8 46.21 L567.05 46.26 L567.3 46.28 L567.55 46.29 L567.8 46.29 L568.05 46.28 L568.3 46.26 L568.55 46.2 L568.8 46.1 L569.05 45.91 L569.3 45.6 L569.55 45.12 L569.8 44.46 L570.05 43.61 L570.3 42.64 L570.55 41.65 L570.8 40.78 L571.05 40.2 L571.3 40 L571.55 40.23 L571.8 40.85 L572.05 41.73 L572.3 42.72 L572.55 43.69 L572.8 44.52 L573.05 45.17 L573.3 45.63 L573.55 45.93 L573.8 46.11 L574.05 46.21 L574.3 46.26 L574.55 46.28 L574.8 46.28 L575.05 46.27 L575.3 46.24 L575.55 46.17 L575.8 46.03 L576.05 45.77 L576.3 45.32 L576.55 44.61 L576.8 43.59 L577.05 42.25 L577.3 40.64 L577.55 38.93 L577.8 37.34 L578.05 36.13 L578.3 35.54 L578.55 35.67 L578.8 36.51 L579.05 37.88 L579.3 39.54 L579.55 41.24 L579.8 42.77 L580.05 44 L580.3 44.9 L580.55 45.5 L580.8 45.88 L581.05 46.09 L581.3 46.2 L581.55 46.26 L581.8 46.27 L582.05 46.27 L582.3 46.24 L582.55 46.16 L582.8 46 L583.05 45.68 L583.3 45.14 L583.55 44.25 L583.8 42.93 L584.05 41.13 L584.3 38.9 L584.55 36.41 L584.8 33.98 L585.05 31.97 L585.3 30.75 L585.55 30.56 L585.8 31.43 L586.05 33.19 L586.3 35.51 L586.55 38.02 L586.8 40.37 L587.05 42.34 L587.3 43.83 L587.55 44.86 L587.8 45.52 L588.05 45.9 L588.3 46.11 L588.55 46.21 L588.8 46.26 L589.05 46.26 L589.3 46.24 L589.55 46.16 L589.8 45.99 L590.05 45.66 L590.3 45.05 L590.55 44.05 L590.8 42.51 L591.05 40.33 L591.3 37.54 L591.55 34.31 L591.8 30.98 L592.05 28.03 L592.3 25.98 L592.55 25.2 L592.8 25.86 L593.05 27.83 L593.3 30.72 L593.55 34.04 L593.8 37.3 L594.05 40.13 L594.3 42.36 L594.55 43.95 L594.8 44.99 L595.05 45.62 L595.3 45.97 L595.55 46.15 L595.8 46.23 L596.05 46.26 L596.3 46.24 L596.55 46.17 L596.8 46.02 L597.05 45.7 L597.3 45.12 L597.55 44.11 L597.8 42.52 L598.05 40.2 L598.3 37.12 L598.55 33.41 L598.8 29.41 L599.05 25.66 L599.3 22.75 L599.55 21.24 L599.8 21.41 L600.05 23.24 L600.3 26.36 L600.55 30.21 L600.8 34.19 L601.05 37.79 L601.3 40.72 L601.55 42.89 L601.8 44.35 L602.05 45.26 L602.3 45.78 L602.55 46.06 L602.8 46.19 L603.05 46.24 L603.3 46.24 L603.55 46.19 L603.8 46.07 L604.05 45.79 L604.3 45.27 L604.55 44.34 L604.8 42.82 L605.05 40.55 L605.3 37.42 L605.55 33.52 L605.8 29.14 L606.05 24.79 L606.3 21.15 L606.55 18.85 L606.8 18.36 L607.05 19.75 L607.3 22.77 L607.55 26.83 L607.8 31.28 L608.05 35.48 L608.3 39.03 L608.55 41.74 L608.8 43.63 L609.05 44.84 L609.3 45.56 L609.55 45.95 L609.8 46.14 L610.05 46.22 L610.3 46.25 L610.55 46.22 L610.8 46.12 L611.05 45.9 L611.3 45.48 L611.55 44.69 L611.8 43.38 L612.05 41.36 L612.3 38.48 L612.55 34.76 L612.8 30.41 L613.05 25.88 L613.3 21.82 L613.55 18.92 L613.8 17.71 L614.05 18.46 L614.3 20.99 L614.55 24.84 L614.8 29.32 L615.05 33.76 L615.3 37.66 L615.55 40.75 L615.8 42.97 L616.05 44.44 L616.3 45.33 L616.55 45.82 L616.8 46.08 L617.05 46.2 L617.3 46.24 L617.55 46.24 L617.8 46.17 L618.05 46.01 L618.3 45.68 L618.55 45.07 L618.8 44.01 L619.05 42.32 L619.3 39.85 L619.55 36.54 L619.8 32.52 L620.05 28.15 L620.3 23.99 L620.55 20.72 L620.8 18.92 L621.05 18.96 L621.3 20.82 L621.55 24.15 L621.8 28.33 L622.05 32.7 L622.3 36.69 L622.55 39.97 L622.8 42.4 L623.05 44.06 L623.3 45.1 L623.55 45.7 L623.8 46.02 L624.05 46.17 L624.3 46.24 L624.55 46.25 L624.8 46.21 L625.05 46.11 L625.3 45.88 L625.55 45.44 L625.8 44.66 L626.05 43.37 L626.3 41.43 L626.55 38.75 L626.8 35.37 L627.05 31.54 L627.3 27.69 L627.55 24.42 L627.8 22.29 L628.05 21.72 L628.3 22.82 L628.55 25.37 L628.8 28.89 L629.05 32.79 L629.3 36.52 L629.55 39.69 L629.8 42.13 L630.05 43.85 L630.3 44.95 L630.55 45.61 L630.8 45.97 L631.05 46.15 L631.3 46.23 L631.55 46.26 L631.8 46.24 L632.05 46.18 L632.3 46.03 L632.55 45.74 L632.8 45.2 L633.05 44.28 L633.3 42.86 L633.55 40.83 L633.8 38.18 L634.05 35.06 L634.3 31.78 L634.55 28.79 L634.8 26.61 L635.05 25.63 L635.3 26.05 L635.55 27.8 L635.8 30.52 L636.05 33.74 L636.3 36.98 L636.55 39.84 L636.8 42.13 L637.05 43.78 L637.3 44.88 L637.55 45.56 L637.8 45.93 L638.05 46.13 L638.3 46.23 L638.55 46.26 L638.8 46.26 L639.05 46.23 L639.3 46.13 L639.55 45.95 L639.8 45.59 L640.05 44.97 L640.3 43.98 L640.55 42.51 L640.8 40.54 L641.05 38.12 L641.3 35.47 L641.55 32.91 L641.8 30.86 L642.05 29.68 L642.3 29.61 L642.55 30.66 L642.8 32.63 L643.05 35.15 L643.3 37.81 L643.55 40.27 L643.8 42.3 L644.05 43.83 L644.3 44.87 L644.55 45.53 L644.8 45.91 L645.05 46.12 L645.3 46.22 L645.55 46.26 L645.8 46.27 L646.05 46.26 L646.3 46.21 L646.55 46.1 L646.8 45.89 L647.05 45.51 L647.3 44.89 L647.55 43.94 L647.8 42.62 L648.05 40.94 L648.3 39.02 L648.55 37.07 L648.8 35.39 L649.05 34.26 L649.3 33.9 L649.55 34.39 L649.8 35.63 L650.05 37.37 L650.3 39.33 L650.55 41.23 L650.8 42.85 L651.05 44.11 L651.3 45.01 L651.55 45.59 L651.8 45.93 L652.05 46.12 L652.3 46.22 L652.55 46.26 L652.8 46.28 L653.05 46.27 L653.3 46.25 L653.55 46.19 L653.8 46.06 L654.05 45.83 L654.3 45.43 L654.55 44.82 L654.8 43.93 L655.05 42.76 L655.3 41.37 L655.55 39.89 L655.8 38.53 L656.05 37.51 L656.3 37.03 L656.55 37.17 L656.8 37.91 L657.05 39.1 L657.3 40.54 L657.55 42 L657.8 43.3 L658.05 44.35 L658.3 45.12 L658.55 45.63 L658.8 45.95 L659.05 46.13 L659.3 46.22 L659.55 46.26 L659.8 46.28 L660.05 46.28 L660.3 46.27 L660.55 46.24 L660.8 46.17 L661.05 46.05 L661.3 45.82 L661.55 45.47 L661.8 44.93 L662.05 44.21 L662.3 43.31 L662.55 42.32 L662.8 41.35 L663.05 40.56 L663.3 40.09 L663.55 40.03 L663.8 40.39 L664.05 41.11 L664.3 42.04 L664.55 43.04 L664.8 43.97 L665.05 44.75 L665.3 45.33 L665.55 45.74 L665.8 46 L666.05 46.15 L666.3 46.23 L666.55 46.27 L666.8 46.29 L667.05 46.29 L667.3 46.29 L667.55 46.27 L667.8 46.23 L668.05 46.17 L668.3 46.04 L668.55 45.83 L668.8 45.51 L669.05 45.06 L669.3 44.49 L669.55 43.83 L669.8 43.15 L670.05 42.56 L670.3 42.15 L670.55 42 L670.8 42.15 L671.05 42.56 L671.3 43.15 L671.55 43.83 L671.8 44.49 L672.05 45.06 L672.3 45.51 L672.55 45.83 L672.8 46.04 L673.05 46.17 L673.3 46.23 L673.55 46.27 L673.8 46.29 L674.05 46.3 L674.3 46.3 L674.55 46.3" fill="none" stroke="#0000ff" stroke-width="1.3" stroke-linejoin="round" />
<path d="M560.8 93.05 L561.05 92.95 L561.3 92.8 L561.55 92.58 L561.8 92.27 L562.05 91.86 L562.3 91.34 L562.55 90.73 L562.8 90.05 L563.05 89.34 L563.3 88.65 L563.55 88.05 L563.8 87.59 L564.05 87.34 L564.3 87.32 L564.55 87.53 L564.8 87.94 L565.05 88.52 L565.3 89.19 L565.55 89.91 L565.8 90.6 L566.05 91.23 L566.3 91.76 L566.55 92.19 L566.8 92.51 L567.05 92.74 L567.3 92.88 L567.55 92.94 L567.8 92.94 L568.05 92.86 L568.3 92.7 L568.55 92.44 L568.8 92.05 L569.05 91.53 L569.3 90.86 L569.55 90.05 L569.8 89.12 L570.05 88.13 L570.3 87.13 L570.55 86.23 L570.8 85.51 L571.05 85.05 L571.3 84.9 L571.55 85.08 L571.8 85.56 L572.05 86.3 L572.3 87.21 L572.55 88.21 L572.8 89.2 L573.05 90.12 L573.3 90.92 L573.55 91.57 L573.8 92.08 L574.05 92.44 L574.3 92.68 L574.55 92.81 L574.8 92.84 L575.05 92.76 L575.3 92.57 L575.55 92.23 L575.8 91.74 L576.05 91.05 L576.3 90.14 L576.55 89.02 L576.8 87.71 L577.05 86.27 L577.3 84.8 L577.55 83.41 L577.8 82.25 L578.05 81.42 L578.3 81.02 L578.55 81.11 L578.8 81.67 L579.05 82.63 L579.3 83.89 L579.55 85.33 L579.8 86.8 L580.05 88.2 L580.3 89.45 L580.55 90.49 L580.8 91.31 L581.05 91.92 L581.3 92.34 L581.55 92.59 L581.8 92.69 L582.05 92.65 L582.3 92.45 L582.55 92.08 L582.8 91.5 L583.05 90.67 L583.3 89.56 L583.55 88.16 L583.8 86.48 L584.05 84.6 L584.3 82.62 L584.55 80.69 L584.8 78.99 L585.05 77.7 L585.3 76.95 L585.55 76.83 L585.8 77.36 L586.05 78.47 L586.3 80.04 L586.55 81.91 L586.8 83.89 L587.05 85.82 L587.3 87.58 L587.55 89.09 L587.8 90.3 L588.05 91.22 L588.3 91.87 L588.55 92.28 L588.8 92.49 L589.05 92.5 L589.3 92.31 L589.55 91.9 L589.8 91.23 L590.05 90.24 L590.3 88.88 L590.55 87.13 L590.8 85 L591.05 82.55 L591.3 79.9 L591.55 77.25 L591.8 74.83 L592.05 72.86 L592.3 71.57 L592.55 71.1 L592.8 71.5 L593.05 72.73 L593.3 74.65 L593.55 77.05 L593.8 79.69 L594.05 82.34 L594.3 84.81 L594.55 86.97 L594.8 88.75 L595.05 90.13 L595.3 91.14 L595.55 91.81 L595.8 92.2 L596.05 92.34 L596.3 92.23 L596.55 91.85 L596.8 91.18 L597.05 90.15 L597.3 88.71 L597.55 86.8 L597.8 84.43 L598.05 81.65 L598.3 78.58 L598.55 75.41 L598.8 72.41 L599.05 69.85 L599.3 68.01 L599.55 67.08 L599.8 67.19 L600.05 68.31 L600.3 70.31 L600.55 72.98 L600.8 76.04 L601.05 79.21 L601.3 82.23 L601.55 84.94 L601.8 87.22 L602.05 89.03 L602.3 90.38 L602.55 91.32 L602.8 91.9 L603.05 92.17 L603.3 92.16 L603.55 91.86 L603.8 91.23 L604.05 90.22 L604.3 88.77 L604.55 86.81 L604.8 84.32 L605.05 81.33 L605.3 77.95 L605.55 74.39 L605.8 70.89 L606.05 67.78 L606.3 65.38 L606.55 63.94 L606.8 63.63 L607.05 64.5 L607.3 66.43 L607.55 69.21 L607.8 72.54 L608.05 76.11 L608.3 79.61 L608.55 82.82 L608.8 85.58 L609.05 87.81 L609.3 89.52 L609.55 90.75 L609.8 91.55 L610.05 92 L610.3 92.13 L610.55 91.95 L610.8 91.45 L611.05 90.58 L611.3 89.27 L611.55 87.46 L611.8 85.11 L612.05 82.24 L612.3 78.92 L612.55 75.32 L612.8 71.69 L613.05 68.34 L613.3 65.6 L613.55 63.75 L613.8 63.01 L614.05 63.46 L614.3 65.06 L614.55 67.62 L614.8 70.85 L615.05 74.44 L615.3 78.07 L615.55 81.48 L615.8 84.47 L616.05 86.95 L616.3 88.88 L616.55 90.31 L616.8 91.28 L617.05 91.86 L617.3 92.12 L617.55 92.07 L617.8 91.71 L618.05 91.01 L618.3 89.9 L618.55 88.34 L618.8 86.26 L619.05 83.66 L619.3 80.59 L619.55 77.18 L619.8 73.65 L620.05 70.28 L620.3 67.38 L620.55 65.25 L620.8 64.13 L621.05 64.16 L621.3 65.32 L621.55 67.48 L621.8 70.41 L622.05 73.79 L622.3 77.32 L622.55 80.72 L622.8 83.77 L623.05 86.35 L623.3 88.41 L623.55 89.96 L623.8 91.06 L624.05 91.76 L624.3 92.14 L624.55 92.23 L624.8 92.04 L625.05 91.56 L625.3 90.75 L625.55 89.56 L625.8 87.95 L626.05 85.88 L626.3 83.39 L626.55 80.56 L626.8 77.55 L627.05 74.58 L627.3 71.92 L627.55 69.84 L627.8 68.55 L628.05 68.21 L628.3 68.86 L628.55 70.43 L628.8 72.73 L629.05 75.51 L629.3 78.52 L629.55 81.49 L629.8 84.23 L630.05 86.59 L630.3 88.52 L630.55 90 L630.8 91.07 L631.05 91.78 L631.3 92.2 L631.55 92.36 L631.8 92.27 L632.05 91.94 L632.3 91.33 L632.55 90.41 L632.8 89.12 L633.05 87.43 L633.3 85.36 L633.55 82.95 L633.8 80.33 L634.05 77.67 L634.3 75.19 L634.55 73.14 L634.8 71.73 L635.05 71.12 L635.3 71.38 L635.55 72.49 L635.8 74.31 L636.05 76.64 L636.3 79.26 L636.55 81.92 L636.8 84.43 L637.05 86.65 L637.3 88.5 L637.55 89.94 L637.8 91.02 L638.05 91.76 L638.3 92.22 L638.55 92.45 L638.8 92.47 L639.05 92.28 L639.3 91.87 L639.55 91.22 L639.8 90.27 L640.05 89.01 L640.3 87.43 L640.55 85.54 L640.8 83.45 L641.05 81.26 L641.3 79.15 L641.55 77.32 L641.8 75.96 L642.05 75.21 L642.3 75.17 L642.55 75.84 L642.8 77.13 L643.05 78.91 L643.3 81 L643.55 83.19 L643.8 85.3 L644.05 87.22 L644.3 88.84 L644.55 90.14 L644.8 91.13 L645.05 91.84 L645.3 92.3 L645.55 92.56 L645.8 92.65 L646.05 92.58 L646.3 92.35 L646.55 91.94 L646.8 91.34 L647.05 90.5 L647.3 89.43 L647.55 88.13 L647.8 86.65 L648.05 85.07 L648.3 83.49 L648.55 82.07 L648.8 80.94 L649.05 80.22 L649.3 80 L649.55 80.3 L649.8 81.09 L650.05 82.28 L650.3 83.74 L650.55 85.32 L650.8 86.9 L651.05 88.36 L651.3 89.62 L651.55 90.66 L651.8 91.46 L652.05 92.04 L652.3 92.44 L652.55 92.68 L652.8 92.78 L653.05 92.77 L653.3 92.64 L653.55 92.38 L653.8 91.98 L654.05 91.42 L654.3 90.68 L654.55 89.77 L654.8 88.7 L655.05 87.53 L655.3 86.34 L655.55 85.22 L655.8 84.28 L656.05 83.62 L656.3 83.32 L656.55 83.4 L656.8 83.87 L657.05 84.66 L657.3 85.69 L657.55 86.86 L657.8 88.05 L658.05 89.19 L658.3 90.19 L658.55 91.03 L658.8 91.7 L659.05 92.19 L659.3 92.54 L659.55 92.76 L659.8 92.87 L660.05 92.89 L660.3 92.83 L660.55 92.68 L660.8 92.42 L661.05 92.05 L661.3 91.56 L661.55 90.93 L661.8 90.18 L662.05 89.34 L662.3 88.45 L662.55 87.6 L662.8 86.85 L663.05 86.28 L663.3 85.96 L663.55 85.92 L663.8 86.17 L664.05 86.67 L664.3 87.38 L664.55 88.21 L664.8 89.09 L665.05 89.95 L665.3 90.73 L665.55 91.39 L665.8 91.93 L666.05 92.34 L666.3 92.63 L666.55 92.82 L666.8 92.94 L667.05 92.98 L667.3 92.95 L667.55 92.87 L667.8 92.71 L668.05 92.47 L668.3 92.15 L668.55 91.72 L668.8 91.21 L669.05 90.62 L669.3 89.99 L669.55 89.35 L669.8 88.77 L670.05 88.31 L670.3 88 L670.55 87.9 L670.8 88 L671.05 88.31 L671.3 88.77 L671.55 89.35 L671.8 89.99 L672.05 90.62 L672.3 91.21 L672.55 91.73 L672.8 92.15 L673.05 92.48 L673.3 92.73 L673.55 92.9 L673.8 93.02 L674.05 93.09 L674.3 93.14 L674.55 93.17" fill="none" stroke="#0d9448" stroke-width="1.3" stroke-linejoin="round" />
<path d="M560.8 95.3 V97.8 M578.35 95.3 V97.8 M595.9 95.3 V97.8 M613.45 95.3 V97.8 M631 95.3 V97.8 M648.55 95.3 V97.8 M666.1 95.3 V97.8" stroke="#000" stroke-width="1" fill="none"/>
<text x="566.97" y="107" font-size="10" textLength="21.57" lengthAdjust="spacingAndGlyphs">1364</text>
<text x="602.15" y="107" font-size="10">1365</text>
<text x="638.06" y="107" font-size="10" textLength="21.93" lengthAdjust="spacingAndGlyphs">1366</text>
<text x="664.74" y="107" font-size="10" textLength="16.43" lengthAdjust="spacingAndGlyphs">m/z</text>
<defs><radialGradient id="sph" cx="0.4" cy="0.35" r="0.65"><stop offset="0" stop-color="#ffffff"/><stop offset="0.5" stop-color="#e2e2ec"/><stop offset="1" stop-color="#a4a4b6"/></radialGradient></defs>
<g fill="none" stroke-linecap="round" stroke-linejoin="round"><path d="M13.7 312.6 L19 307.3" stroke="#0a960a" stroke-width="3.3"/><path d="M13.7 312.6 L19 307.3" stroke="#16c416" stroke-width="1.91"/><path d="M19 307.3 L28 308.1" stroke="#0a960a" stroke-width="3.3"/><path d="M19 307.3 L28 308.1" stroke="#16c416" stroke-width="1.91"/><path d="M28 308.1 L31 314.8" stroke="#0a960a" stroke-width="3.3"/><path d="M28 308.1 L31 314.8" stroke="#16c416" stroke-width="1.91"/><path d="M31 314.8 L30.4 322" stroke="#0a960a" stroke-width="3.3"/><path d="M31 314.8 L30.4 322" stroke="#16c416" stroke-width="1.91"/><path d="M30.4 322 L22 324" stroke="#0a960a" stroke-width="3.3"/><path d="M30.4 322 L22 324" stroke="#16c416" stroke-width="1.91"/><path d="M22 324 L13.7 312.6" stroke="#0a960a" stroke-width="3.3"/><path d="M22 324 L13.7 312.6" stroke="#16c416" stroke-width="1.91"/><path d="M28 308.1 L34 300" stroke="#0a960a" stroke-width="3.3"/><path d="M28 308.1 L34 300" stroke="#16c416" stroke-width="1.91"/><path d="M51.87 273.06 L55.84 271.93" stroke="#0a960a" stroke-width="3.3"/><path d="M51.87 273.06 L55.84 271.93" stroke="#16c416" stroke-width="1.91"/><path d="M55.84 271.93 L59.82 270.79" stroke="#7878d0" stroke-width="3.3"/><path d="M55.84 271.93 L59.82 270.79" stroke="#a0a0f6" stroke-width="1.91"/><path d="M59.82 270.79 L62.86 271.87" stroke="#7878d0" stroke-width="3.3"/><path d="M59.82 270.79 L62.86 271.87" stroke="#a0a0f6" stroke-width="1.91"/><path d="M62.86 271.87 L65.89 272.96" stroke="#0a960a" stroke-width="3.3"/><path d="M62.86 271.87 L65.89 272.96" stroke="#16c416" stroke-width="1.91"/><path d="M64.02 277.17 L65.89 272.96" stroke="#0a960a" stroke-width="3.3"/><path d="M64.02 277.17 L65.89 272.96" stroke="#16c416" stroke-width="1.91"/><path d="M49.98 277.73 L51.87 273.06" stroke="#0a960a" stroke-width="3.3"/><path d="M49.98 277.73 L51.87 273.06" stroke="#16c416" stroke-width="1.91"/><path d="M49.98 277.73 L56.06 279.67" stroke="#0a960a" stroke-width="3.3"/><path d="M49.98 277.73 L56.06 279.67" stroke="#16c416" stroke-width="1.91"/><path d="M64.02 277.17 L70.03 278.89" stroke="#0a960a" stroke-width="3.3"/><path d="M64.02 277.17 L70.03 278.89" stroke="#16c416" stroke-width="1.91"/><path d="M56.06 279.67 L64.02 277.17" stroke="#0a960a" stroke-width="3.3"/><path d="M56.06 279.67 L64.02 277.17" stroke="#16c416" stroke-width="1.91"/><path d="M42.09 280.45 L49.98 277.73" stroke="#0a960a" stroke-width="3.3"/><path d="M42.09 280.45 L49.98 277.73" stroke="#16c416" stroke-width="1.91"/><path d="M40.19 285.34 L42.09 280.45" stroke="#0a960a" stroke-width="3.3"/><path d="M40.19 285.34 L42.09 280.45" stroke="#16c416" stroke-width="1.91"/><path d="M68.17 282.88 L70.03 278.89" stroke="#0a960a" stroke-width="3.3"/><path d="M68.17 282.88 L70.03 278.89" stroke="#16c416" stroke-width="1.91"/><path d="M54.18 284.11 L56.06 279.67" stroke="#0a960a" stroke-width="3.3"/><path d="M54.18 284.11 L56.06 279.67" stroke="#16c416" stroke-width="1.91"/><path d="M46.2 287.06 L54.18 284.11" stroke="#0a960a" stroke-width="3.3"/><path d="M46.2 287.06 L54.18 284.11" stroke="#16c416" stroke-width="1.91"/><path d="M60.28 285.6 L68.17 282.88" stroke="#0a960a" stroke-width="3.3"/><path d="M60.28 285.6 L68.17 282.88" stroke="#16c416" stroke-width="1.91"/><path d="M54.18 284.11 L60.28 285.6" stroke="#0a960a" stroke-width="3.3"/><path d="M54.18 284.11 L60.28 285.6" stroke="#16c416" stroke-width="1.91"/><path d="M40.19 285.34 L46.2 287.06" stroke="#0a960a" stroke-width="3.3"/><path d="M40.19 285.34 L46.2 287.06" stroke="#16c416" stroke-width="1.91"/><path d="M44.31 291.73 L46.2 287.06" stroke="#0a960a" stroke-width="3.3"/><path d="M44.31 291.73 L46.2 287.06" stroke="#16c416" stroke-width="1.91"/><path d="M58.41 289.81 L60.28 285.6" stroke="#0a960a" stroke-width="3.3"/><path d="M58.41 289.81 L60.28 285.6" stroke="#16c416" stroke-width="1.91"/><path d="M36.39 295.12 L44.31 291.73" stroke="#0a960a" stroke-width="3.3"/><path d="M36.39 295.12 L44.31 291.73" stroke="#16c416" stroke-width="1.91"/><path d="M44.31 291.73 L50.42 292.99" stroke="#0a960a" stroke-width="3.3"/><path d="M44.31 291.73 L50.42 292.99" stroke="#16c416" stroke-width="1.91"/><path d="M58.41 289.81 L64.45 290.86" stroke="#0a960a" stroke-width="3.3"/><path d="M58.41 289.81 L64.45 290.86" stroke="#16c416" stroke-width="1.91"/><path d="M50.42 292.99 L58.41 289.81" stroke="#0a960a" stroke-width="3.3"/><path d="M50.42 292.99 L58.41 289.81" stroke="#16c416" stroke-width="1.91"/><path d="M34.49 300.01 L36.39 295.12" stroke="#0a960a" stroke-width="3.3"/><path d="M34.49 300.01 L36.39 295.12" stroke="#16c416" stroke-width="1.91"/><path d="M62.59 294.85 L64.45 290.86" stroke="#0a960a" stroke-width="3.3"/><path d="M62.59 294.85 L64.45 290.86" stroke="#16c416" stroke-width="1.91"/><path d="M48.54 297.43 L50.42 292.99" stroke="#0a960a" stroke-width="3.3"/><path d="M48.54 297.43 L50.42 292.99" stroke="#16c416" stroke-width="1.91"/><path d="M40.53 301.06 L48.54 297.43" stroke="#0a960a" stroke-width="3.3"/><path d="M40.53 301.06 L48.54 297.43" stroke="#16c416" stroke-width="1.91"/><path d="M34.49 300.01 L40.53 301.06" stroke="#0a960a" stroke-width="3.3"/><path d="M34.49 300.01 L40.53 301.06" stroke="#16c416" stroke-width="1.91"/><path d="M48.54 297.43 L54.67 298.24" stroke="#0a960a" stroke-width="3.3"/><path d="M48.54 297.43 L54.67 298.24" stroke="#16c416" stroke-width="1.91"/><path d="M54.67 298.24 L62.59 294.85" stroke="#0a960a" stroke-width="3.3"/><path d="M54.67 298.24 L62.59 294.85" stroke="#16c416" stroke-width="1.91"/><path d="M52.8 302.45 L54.67 298.24" stroke="#0a960a" stroke-width="3.3"/><path d="M52.8 302.45 L54.67 298.24" stroke="#16c416" stroke-width="1.91"/><path d="M38.64 305.73 L40.53 301.06" stroke="#0a960a" stroke-width="3.3"/><path d="M38.64 305.73 L40.53 301.06" stroke="#16c416" stroke-width="1.91"/><path d="M38.64 305.73 L41.71 306.02" stroke="#0a960a" stroke-width="3.3"/><path d="M38.64 305.73 L41.71 306.02" stroke="#16c416" stroke-width="1.91"/><path d="M41.71 306.02 L44.78 306.31" stroke="#7878d0" stroke-width="3.3"/><path d="M41.71 306.02 L44.78 306.31" stroke="#a0a0f6" stroke-width="1.91"/><path d="M44.78 306.31 L48.79 304.38" stroke="#7878d0" stroke-width="3.3"/><path d="M44.78 306.31 L48.79 304.38" stroke="#a0a0f6" stroke-width="1.91"/><path d="M48.79 304.38 L52.8 302.45" stroke="#0a960a" stroke-width="3.3"/><path d="M48.79 304.38 L52.8 302.45" stroke="#16c416" stroke-width="1.91"/><path d="M65.86 272.96 L69.64 272.03" stroke="#0a960a" stroke-width="3.3"/><path d="M65.86 272.96 L69.64 272.03" stroke="#16c416" stroke-width="1.91"/><path d="M69.64 272.03 L73.42 271.11" stroke="#b40404" stroke-width="3.3"/><path d="M69.64 272.03 L73.42 271.11" stroke="#ee0a0a" stroke-width="1.91"/><path d="M52.77 302.46 L55.74 302.58" stroke="#0a960a" stroke-width="3.3"/><path d="M52.77 302.46 L55.74 302.58" stroke="#16c416" stroke-width="1.91"/><path d="M55.74 302.58 L58.72 302.69" stroke="#b40404" stroke-width="3.3"/><path d="M55.74 302.58 L58.72 302.69" stroke="#ee0a0a" stroke-width="1.91"/><path d="M51.9 273.06 L48.96 271.99" stroke="#0a960a" stroke-width="3.3"/><path d="M51.9 273.06 L48.96 271.99" stroke="#16c416" stroke-width="1.91"/><path d="M48.96 271.99 L46.03 270.92" stroke="#b40404" stroke-width="3.3"/><path d="M48.96 271.99 L46.03 270.92" stroke="#ee0a0a" stroke-width="1.91"/><path d="M38.67 305.72 L34.85 307.6" stroke="#0a960a" stroke-width="3.3"/><path d="M38.67 305.72 L34.85 307.6" stroke="#16c416" stroke-width="1.91"/><path d="M34.85 307.6 L31.03 309.48" stroke="#b40404" stroke-width="3.3"/><path d="M34.85 307.6 L31.03 309.48" stroke="#ee0a0a" stroke-width="1.91"/><path d="M59.8 270.8 L61.15 267.65" stroke="#7878d0" stroke-width="3.3"/><path d="M59.8 270.8 L61.15 267.65" stroke="#a0a0f6" stroke-width="1.91"/><path d="M61.15 267.65 L62.5 264.5" stroke="#0a960a" stroke-width="3.3"/><path d="M61.15 267.65 L62.5 264.5" stroke="#16c416" stroke-width="1.91"/><path d="M62.5 264.5 L65 254.8" stroke="#0a960a" stroke-width="3.3"/><path d="M62.5 264.5 L65 254.8" stroke="#16c416" stroke-width="1.91"/><path d="M65 254.8 L59.6 249.1" stroke="#0a960a" stroke-width="3.3"/><path d="M65 254.8 L59.6 249.1" stroke="#16c416" stroke-width="1.91"/><path d="M59.6 249.1 L53.7 242.5" stroke="#0a960a" stroke-width="3.3"/><path d="M59.6 249.1 L53.7 242.5" stroke="#16c416" stroke-width="1.91"/><path d="M44.75 306.3 L43.38 308.9" stroke="#7878d0" stroke-width="3.3"/><path d="M44.75 306.3 L43.38 308.9" stroke="#a0a0f6" stroke-width="1.91"/><path d="M43.38 308.9 L42 311.5" stroke="#0a960a" stroke-width="3.3"/><path d="M43.38 308.9 L42 311.5" stroke="#16c416" stroke-width="1.91"/><path d="M42 311.5 L38.8 319" stroke="#0a960a" stroke-width="3.3"/><path d="M42 311.5 L38.8 319" stroke="#16c416" stroke-width="1.91"/><path d="M38.8 319 L44.8 325.4" stroke="#0a960a" stroke-width="3.3"/><path d="M38.8 319 L44.8 325.4" stroke="#16c416" stroke-width="1.91"/><path d="M44.8 325.4 L42.5 333" stroke="#0a960a" stroke-width="3.3"/><path d="M44.8 325.4 L42.5 333" stroke="#16c416" stroke-width="1.91"/><path d="M21.8 287 L23.75 284.75" stroke="#7878d0" stroke-width="3.3"/><path d="M21.8 287 L23.75 284.75" stroke="#a0a0f6" stroke-width="1.91"/><path d="M23.75 284.75 L25.7 282.5" stroke="#0a960a" stroke-width="3.3"/><path d="M23.75 284.75 L25.7 282.5" stroke="#16c416" stroke-width="1.91"/><path d="M25.7 282.5 L33.6 281.9" stroke="#0a960a" stroke-width="3.3"/><path d="M25.7 282.5 L33.6 281.9" stroke="#16c416" stroke-width="1.91"/><path d="M33.6 281.9 L38.7 285.3" stroke="#0a960a" stroke-width="3.3"/><path d="M33.6 281.9 L38.7 285.3" stroke="#16c416" stroke-width="1.91"/><path d="M38.7 285.3 L34.7 289.2" stroke="#0a960a" stroke-width="3.3"/><path d="M38.7 285.3 L34.7 289.2" stroke="#16c416" stroke-width="1.91"/><path d="M34.7 289.2 L27.4 289.2" stroke="#0a960a" stroke-width="3.3"/><path d="M34.7 289.2 L27.4 289.2" stroke="#16c416" stroke-width="1.91"/><path d="M27.4 289.2 L24.6 288.1" stroke="#0a960a" stroke-width="3.3"/><path d="M27.4 289.2 L24.6 288.1" stroke="#16c416" stroke-width="1.91"/><path d="M24.6 288.1 L21.8 287" stroke="#7878d0" stroke-width="3.3"/><path d="M24.6 288.1 L21.8 287" stroke="#a0a0f6" stroke-width="1.91"/><path d="M38.7 285.3 L42.5 285.5" stroke="#0a960a" stroke-width="3.3"/><path d="M38.7 285.3 L42.5 285.5" stroke="#16c416" stroke-width="1.91"/><path d="M21.8 287 L17.5 290.5" stroke="#7878d0" stroke-width="3.3"/><path d="M21.8 287 L17.5 290.5" stroke="#a0a0f6" stroke-width="1.91"/><path d="M81.3 271.5 L84.5 263.8" stroke="#0a960a" stroke-width="3.3"/><path d="M81.3 271.5 L84.5 263.8" stroke="#16c416" stroke-width="1.91"/><path d="M84.5 263.8 L92.3 261.6" stroke="#0a960a" stroke-width="3.3"/><path d="M84.5 263.8 L92.3 261.6" stroke="#16c416" stroke-width="1.91"/><path d="M92.3 261.6 L94.7 264.1" stroke="#0a960a" stroke-width="3.3"/><path d="M92.3 261.6 L94.7 264.1" stroke="#16c416" stroke-width="1.91"/><path d="M94.7 264.1 L97.1 266.6" stroke="#7878d0" stroke-width="3.3"/><path d="M94.7 264.1 L97.1 266.6" stroke="#a0a0f6" stroke-width="1.91"/><path d="M97.1 266.6 L96.75 270.05" stroke="#7878d0" stroke-width="3.3"/><path d="M97.1 266.6 L96.75 270.05" stroke="#a0a0f6" stroke-width="1.91"/><path d="M96.75 270.05 L96.4 273.5" stroke="#0a960a" stroke-width="3.3"/><path d="M96.75 270.05 L96.4 273.5" stroke="#16c416" stroke-width="1.91"/><path d="M96.4 273.5 L89.2 276.6" stroke="#0a960a" stroke-width="3.3"/><path d="M96.4 273.5 L89.2 276.6" stroke="#16c416" stroke-width="1.91"/><path d="M89.2 276.6 L81.3 271.5" stroke="#0a960a" stroke-width="3.3"/><path d="M89.2 276.6 L81.3 271.5" stroke="#16c416" stroke-width="1.91"/><path d="M81.3 271.5 L71.5 275.8" stroke="#0a960a" stroke-width="3.3"/><path d="M81.3 271.5 L71.5 275.8" stroke="#16c416" stroke-width="1.91"/><path d="M97.1 266.6 L106.6 265.8" stroke="#7878d0" stroke-width="3.3"/><path d="M97.1 266.6 L106.6 265.8" stroke="#a0a0f6" stroke-width="1.91"/><path d="M71.7 282.4 L78.9 281.5" stroke="#0a960a" stroke-width="3.3"/><path d="M71.7 282.4 L78.9 281.5" stroke="#16c416" stroke-width="1.91"/><path d="M78.9 281.5 L81.4 285.1" stroke="#0a960a" stroke-width="3.3"/><path d="M78.9 281.5 L81.4 285.1" stroke="#16c416" stroke-width="1.91"/><path d="M81.4 285.1 L83.9 288.7" stroke="#7878d0" stroke-width="3.3"/><path d="M81.4 285.1 L83.9 288.7" stroke="#a0a0f6" stroke-width="1.91"/><path d="M83.9 288.7 L83.9 292.5" stroke="#7878d0" stroke-width="3.3"/><path d="M83.9 288.7 L83.9 292.5" stroke="#a0a0f6" stroke-width="1.91"/><path d="M83.9 292.5 L83.9 296.3" stroke="#0a960a" stroke-width="3.3"/><path d="M83.9 292.5 L83.9 296.3" stroke="#16c416" stroke-width="1.91"/><path d="M83.9 296.3 L77.1 298.1" stroke="#0a960a" stroke-width="3.3"/><path d="M83.9 296.3 L77.1 298.1" stroke="#16c416" stroke-width="1.91"/><path d="M77.1 298.1 L71.7 291.8" stroke="#0a960a" stroke-width="3.3"/><path d="M77.1 298.1 L71.7 291.8" stroke="#16c416" stroke-width="1.91"/><path d="M71.7 291.8 L71.7 282.4" stroke="#0a960a" stroke-width="3.3"/><path d="M71.7 291.8 L71.7 282.4" stroke="#16c416" stroke-width="1.91"/><path d="M71.7 282.4 L66.5 283.5" stroke="#0a960a" stroke-width="3.3"/><path d="M71.7 282.4 L66.5 283.5" stroke="#16c416" stroke-width="1.91"/><path d="M83.9 288.7 L91 288.3" stroke="#7878d0" stroke-width="3.3"/><path d="M83.9 288.7 L91 288.3" stroke="#a0a0f6" stroke-width="1.91"/><path d="M177.1 323 L176.25 321" stroke="#b40404" stroke-width="3.3"/><path d="M177.1 323 L176.25 321" stroke="#ee0a0a" stroke-width="1.91"/><path d="M176.25 321 L175.4 319" stroke="#b40404" stroke-width="3.3"/><path d="M176.25 321 L175.4 319" stroke="#ee0a0a" stroke-width="1.91"/><path d="M175.4 319 L173.45 318.45" stroke="#b40404" stroke-width="3.3"/><path d="M175.4 319 L173.45 318.45" stroke="#ee0a0a" stroke-width="1.91"/><path d="M173.45 318.45 L171.5 317.9" stroke="#0404b4" stroke-width="3.3"/><path d="M173.45 318.45 L171.5 317.9" stroke="#0a0aee" stroke-width="1.91"/><path d="M171.5 317.9 L167.5 316.2" stroke="#0404b4" stroke-width="3.3"/><path d="M171.5 317.9 L167.5 316.2" stroke="#0a0aee" stroke-width="1.91"/><path d="M167.5 316.2 L167.5 308.9" stroke="#0404b4" stroke-width="3.3"/><path d="M167.5 316.2 L167.5 308.9" stroke="#0a0aee" stroke-width="1.91"/><path d="M176 304.9 L171.75 306.9" stroke="#7878d0" stroke-width="3.3"/><path d="M176 304.9 L171.75 306.9" stroke="#a0a0f6" stroke-width="1.91"/><path d="M171.75 306.9 L167.5 308.9" stroke="#0404b4" stroke-width="3.3"/><path d="M171.75 306.9 L167.5 308.9" stroke="#0a0aee" stroke-width="1.91"/><path d="M167.5 308.9 L158.5 306" stroke="#0404b4" stroke-width="3.3"/><path d="M167.5 308.9 L158.5 306" stroke="#0a0aee" stroke-width="1.91"/><path d="M158.5 306 L157.4 300.4" stroke="#0404b4" stroke-width="3.3"/><path d="M158.5 306 L157.4 300.4" stroke="#0a0aee" stroke-width="1.91"/><path d="M157.4 300.4 L164.2 298.2" stroke="#0404b4" stroke-width="3.3"/><path d="M157.4 300.4 L164.2 298.2" stroke="#0a0aee" stroke-width="1.91"/><path d="M164.2 298.2 L172 301" stroke="#0404b4" stroke-width="3.3"/><path d="M164.2 298.2 L172 301" stroke="#0a0aee" stroke-width="1.91"/><path d="M172 301 L174 302.95" stroke="#0404b4" stroke-width="3.3"/><path d="M172 301 L174 302.95" stroke="#0a0aee" stroke-width="1.91"/><path d="M174 302.95 L176 304.9" stroke="#7878d0" stroke-width="3.3"/><path d="M174 302.95 L176 304.9" stroke="#a0a0f6" stroke-width="1.91"/><path d="M176 304.9 L177.85 303" stroke="#7878d0" stroke-width="3.3"/><path d="M176 304.9 L177.85 303" stroke="#a0a0f6" stroke-width="1.91"/><path d="M177.85 303 L179.7 301.1" stroke="#0404b4" stroke-width="3.3"/><path d="M177.85 303 L179.7 301.1" stroke="#0a0aee" stroke-width="1.91"/><path d="M179.7 301.1 L182.8 302.95" stroke="#0404b4" stroke-width="3.3"/><path d="M179.7 301.1 L182.8 302.95" stroke="#0a0aee" stroke-width="1.91"/><path d="M182.8 302.95 L185.9 304.8" stroke="#b40404" stroke-width="3.3"/><path d="M182.8 302.95 L185.9 304.8" stroke="#ee0a0a" stroke-width="1.91"/><path d="M179.7 301.1 L178.8 298.55" stroke="#0404b4" stroke-width="3.3"/><path d="M179.7 301.1 L178.8 298.55" stroke="#0a0aee" stroke-width="1.91"/><path d="M178.8 298.55 L177.9 296" stroke="#0404b4" stroke-width="3.3"/><path d="M178.8 298.55 L177.9 296" stroke="#0a0aee" stroke-width="1.91"/><path d="M177.9 296 L178.3 294.05" stroke="#0404b4" stroke-width="3.3"/><path d="M177.9 296 L178.3 294.05" stroke="#0a0aee" stroke-width="1.91"/><path d="M178.3 294.05 L178.7 292.1" stroke="#b40404" stroke-width="3.3"/><path d="M178.3 294.05 L178.7 292.1" stroke="#ee0a0a" stroke-width="1.91"/><path d="M157.4 300.4 L148.3 298.2" stroke="#0404b4" stroke-width="3.3"/><path d="M157.4 300.4 L148.3 298.2" stroke="#0a0aee" stroke-width="1.91"/><path d="M163.2 307.3 L157.9 304.7" stroke="#0404b4" stroke-width="3.3"/><path d="M163.2 307.3 L157.9 304.7" stroke="#0a0aee" stroke-width="1.91"/><path d="M148.3 298.2 L145.7 297" stroke="#0404b4" stroke-width="3.3"/><path d="M148.3 298.2 L145.7 297" stroke="#0a0aee" stroke-width="1.91"/><path d="M145.7 297 L141.7 299.4" stroke="#0404b4" stroke-width="3.3"/><path d="M145.7 297 L141.7 299.4" stroke="#0a0aee" stroke-width="1.91"/><path d="M141.7 299.4 L137.8 299.4" stroke="#b40404" stroke-width="3.3"/><path d="M141.7 299.4 L137.8 299.4" stroke="#ee0a0a" stroke-width="1.91"/><path d="M137.8 299.4 L129.9 300.8" stroke="#0404b4" stroke-width="3.3"/><path d="M137.8 299.4 L129.9 300.8" stroke="#0a0aee" stroke-width="1.91"/><path d="M129.9 300.8 L128.1 307.3" stroke="#0404b4" stroke-width="3.3"/><path d="M129.9 300.8 L128.1 307.3" stroke="#0a0aee" stroke-width="1.91"/><path d="M128.7 302.8 L122.8 297.7" stroke="#0404b4" stroke-width="3.3"/><path d="M128.7 302.8 L122.8 297.7" stroke="#0a0aee" stroke-width="1.91"/><path d="M122.8 297.7 L118.5 294.6" stroke="#c48c00" stroke-width="3.3"/><path d="M122.8 297.7 L118.5 294.6" stroke="#f4b400" stroke-width="1.91"/><path d="M129.9 300.8 L130.4 298.45" stroke="#0404b4" stroke-width="3.3"/><path d="M129.9 300.8 L130.4 298.45" stroke="#0a0aee" stroke-width="1.91"/><path d="M130.4 298.45 L130.9 296.1" stroke="#7878d0" stroke-width="3.3"/><path d="M130.4 298.45 L130.9 296.1" stroke="#a0a0f6" stroke-width="1.91"/><path d="M130.9 296.1 L131.25 292.95" stroke="#7878d0" stroke-width="3.3"/><path d="M130.9 296.1 L131.25 292.95" stroke="#a0a0f6" stroke-width="1.91"/><path d="M131.25 292.95 L131.6 289.8" stroke="#0404b4" stroke-width="3.3"/><path d="M131.25 292.95 L131.6 289.8" stroke="#0a0aee" stroke-width="1.91"/><path d="M145.7 296.8 L132.5 290.7" stroke="#0404b4" stroke-width="3.3"/><path d="M145.7 296.8 L132.5 290.7" stroke="#0a0aee" stroke-width="1.91"/><path d="M159.7 293.3 L155.4 291.5" stroke="#c48c00" stroke-width="3.3"/><path d="M159.7 293.3 L155.4 291.5" stroke="#f4b400" stroke-width="1.91"/><path d="M155.4 291.5 L150 289.3" stroke="#0404b4" stroke-width="3.3"/><path d="M155.4 291.5 L150 289.3" stroke="#0a0aee" stroke-width="1.91"/><path d="M150 289.3 L140.4 288.5" stroke="#0404b4" stroke-width="3.3"/><path d="M150 289.3 L140.4 288.5" stroke="#0a0aee" stroke-width="1.91"/><path d="M140.4 288.5 L136.4 288.5" stroke="#b40404" stroke-width="3.3"/><path d="M140.4 288.5 L136.4 288.5" stroke="#ee0a0a" stroke-width="1.91"/><path d="M136.4 288.5 L131.6 289.3" stroke="#0404b4" stroke-width="3.3"/><path d="M136.4 288.5 L131.6 289.3" stroke="#0a0aee" stroke-width="1.91"/><path d="M150 289.3 L147.6 285.1" stroke="#0404b4" stroke-width="3.3"/><path d="M150 289.3 L147.6 285.1" stroke="#0a0aee" stroke-width="1.91"/><path d="M131.6 289.3 L123 285.1" stroke="#0404b4" stroke-width="3.3"/><path d="M131.6 289.3 L123 285.1" stroke="#0a0aee" stroke-width="1.91"/><path d="M123 284.8 L116 285.8" stroke="#0404b4" stroke-width="3.3"/><path d="M123 284.8 L116 285.8" stroke="#0a0aee" stroke-width="1.91"/><path d="M116 285.8 L108.8 280.8" stroke="#0404b4" stroke-width="3.3"/><path d="M116 285.8 L108.8 280.8" stroke="#0a0aee" stroke-width="1.91"/><path d="M108.8 280.8 L106.9 275.3" stroke="#0404b4" stroke-width="3.3"/><path d="M108.8 280.8 L106.9 275.3" stroke="#0a0aee" stroke-width="1.91"/><path d="M106.9 275.3 L112 273.6" stroke="#0404b4" stroke-width="3.3"/><path d="M106.9 275.3 L112 273.6" stroke="#0a0aee" stroke-width="1.91"/><path d="M112 273.6 L120.4 279.2" stroke="#0404b4" stroke-width="3.3"/><path d="M112 273.6 L120.4 279.2" stroke="#0a0aee" stroke-width="1.91"/><path d="M120.4 279.2 L123 284.8" stroke="#0404b4" stroke-width="3.3"/><path d="M120.4 279.2 L123 284.8" stroke="#0a0aee" stroke-width="1.91"/><path d="M108.8 280.8 L101.9 280.8" stroke="#0404b4" stroke-width="3.3"/><path d="M108.8 280.8 L101.9 280.8" stroke="#0a0aee" stroke-width="1.91"/><path d="M101.9 280.8 L102.45 283.8" stroke="#0404b4" stroke-width="3.3"/><path d="M101.9 280.8 L102.45 283.8" stroke="#0a0aee" stroke-width="1.91"/><path d="M102.45 283.8 L103 286.8" stroke="#b40404" stroke-width="3.3"/><path d="M102.45 283.8 L103 286.8" stroke="#ee0a0a" stroke-width="1.91"/><path d="M101.9 280.8 L100.05 277.7" stroke="#0404b4" stroke-width="3.3"/><path d="M101.9 280.8 L100.05 277.7" stroke="#0a0aee" stroke-width="1.91"/><path d="M100.05 277.7 L98.2 274.6" stroke="#b40404" stroke-width="3.3"/><path d="M100.05 277.7 L98.2 274.6" stroke="#ee0a0a" stroke-width="1.91"/><path d="M112 273.6 L110.85 270.35" stroke="#0404b4" stroke-width="3.3"/><path d="M112 273.6 L110.85 270.35" stroke="#0a0aee" stroke-width="1.91"/><path d="M110.85 270.35 L109.7 267.1" stroke="#0404b4" stroke-width="3.3"/><path d="M110.85 270.35 L109.7 267.1" stroke="#0a0aee" stroke-width="1.91"/><path d="M109.7 267.1 L108.15 264.95" stroke="#0404b4" stroke-width="3.3"/><path d="M109.7 267.1 L108.15 264.95" stroke="#0a0aee" stroke-width="1.91"/><path d="M108.15 264.95 L106.6 262.8" stroke="#b40404" stroke-width="3.3"/><path d="M108.15 264.95 L106.6 262.8" stroke="#ee0a0a" stroke-width="1.91"/><path d="M114.2 273.1 L114.8 275.35" stroke="#0404b4" stroke-width="3.3"/><path d="M114.2 273.1 L114.8 275.35" stroke="#0a0aee" stroke-width="1.91"/><path d="M114.8 275.35 L115.4 277.6" stroke="#b40404" stroke-width="3.3"/><path d="M114.8 275.35 L115.4 277.6" stroke="#ee0a0a" stroke-width="1.91"/><path d="M166.7 316.3 L161.9 317" stroke="#b40404" stroke-width="3.3"/><path d="M166.7 316.3 L161.9 317" stroke="#ee0a0a" stroke-width="1.91"/><circle cx="79.8" cy="360.2" r="5.4" fill="url(#sph)"/><path d="M139.33 351.54 L135.36 352.67" stroke="#0a960a" stroke-width="3.3"/><path d="M139.33 351.54 L135.36 352.67" stroke="#16c416" stroke-width="1.91"/><path d="M135.36 352.67 L131.38 353.81" stroke="#7878d0" stroke-width="3.3"/><path d="M135.36 352.67 L131.38 353.81" stroke="#a0a0f6" stroke-width="1.91"/><path d="M131.38 353.81 L128.34 352.73" stroke="#7878d0" stroke-width="3.3"/><path d="M131.38 353.81 L128.34 352.73" stroke="#a0a0f6" stroke-width="1.91"/><path d="M128.34 352.73 L125.31 351.64" stroke="#0a960a" stroke-width="3.3"/><path d="M128.34 352.73 L125.31 351.64" stroke="#16c416" stroke-width="1.91"/><path d="M127.18 347.43 L125.31 351.64" stroke="#0a960a" stroke-width="3.3"/><path d="M127.18 347.43 L125.31 351.64" stroke="#16c416" stroke-width="1.91"/><path d="M141.22 346.87 L139.33 351.54" stroke="#0a960a" stroke-width="3.3"/><path d="M141.22 346.87 L139.33 351.54" stroke="#16c416" stroke-width="1.91"/><path d="M141.22 346.87 L135.14 344.93" stroke="#0a960a" stroke-width="3.3"/><path d="M141.22 346.87 L135.14 344.93" stroke="#16c416" stroke-width="1.91"/><path d="M127.18 347.43 L121.17 345.71" stroke="#0a960a" stroke-width="3.3"/><path d="M127.18 347.43 L121.17 345.71" stroke="#16c416" stroke-width="1.91"/><path d="M135.14 344.93 L127.18 347.43" stroke="#0a960a" stroke-width="3.3"/><path d="M135.14 344.93 L127.18 347.43" stroke="#16c416" stroke-width="1.91"/><path d="M149.11 344.15 L141.22 346.87" stroke="#0a960a" stroke-width="3.3"/><path d="M149.11 344.15 L141.22 346.87" stroke="#16c416" stroke-width="1.91"/><path d="M151.01 339.26 L149.11 344.15" stroke="#0a960a" stroke-width="3.3"/><path d="M151.01 339.26 L149.11 344.15" stroke="#16c416" stroke-width="1.91"/><path d="M123.03 341.72 L121.17 345.71" stroke="#0a960a" stroke-width="3.3"/><path d="M123.03 341.72 L121.17 345.71" stroke="#16c416" stroke-width="1.91"/><path d="M137.02 340.49 L135.14 344.93" stroke="#0a960a" stroke-width="3.3"/><path d="M137.02 340.49 L135.14 344.93" stroke="#16c416" stroke-width="1.91"/><path d="M145 337.54 L137.02 340.49" stroke="#0a960a" stroke-width="3.3"/><path d="M145 337.54 L137.02 340.49" stroke="#16c416" stroke-width="1.91"/><path d="M130.92 339 L123.03 341.72" stroke="#0a960a" stroke-width="3.3"/><path d="M130.92 339 L123.03 341.72" stroke="#16c416" stroke-width="1.91"/><path d="M137.02 340.49 L130.92 339" stroke="#0a960a" stroke-width="3.3"/><path d="M137.02 340.49 L130.92 339" stroke="#16c416" stroke-width="1.91"/><path d="M151.01 339.26 L145 337.54" stroke="#0a960a" stroke-width="3.3"/><path d="M151.01 339.26 L145 337.54" stroke="#16c416" stroke-width="1.91"/><path d="M146.89 332.87 L145 337.54" stroke="#0a960a" stroke-width="3.3"/><path d="M146.89 332.87 L145 337.54" stroke="#16c416" stroke-width="1.91"/><path d="M132.79 334.79 L130.92 339" stroke="#0a960a" stroke-width="3.3"/><path d="M132.79 334.79 L130.92 339" stroke="#16c416" stroke-width="1.91"/><path d="M154.81 329.48 L146.89 332.87" stroke="#0a960a" stroke-width="3.3"/><path d="M154.81 329.48 L146.89 332.87" stroke="#16c416" stroke-width="1.91"/><path d="M146.89 332.87 L140.78 331.61" stroke="#0a960a" stroke-width="3.3"/><path d="M146.89 332.87 L140.78 331.61" stroke="#16c416" stroke-width="1.91"/><path d="M132.79 334.79 L126.75 333.74" stroke="#0a960a" stroke-width="3.3"/><path d="M132.79 334.79 L126.75 333.74" stroke="#16c416" stroke-width="1.91"/><path d="M140.78 331.61 L132.79 334.79" stroke="#0a960a" stroke-width="3.3"/><path d="M140.78 331.61 L132.79 334.79" stroke="#16c416" stroke-width="1.91"/><path d="M156.71 324.59 L154.81 329.48" stroke="#0a960a" stroke-width="3.3"/><path d="M156.71 324.59 L154.81 329.48" stroke="#16c416" stroke-width="1.91"/><path d="M128.61 329.75 L126.75 333.74" stroke="#0a960a" stroke-width="3.3"/><path d="M128.61 329.75 L126.75 333.74" stroke="#16c416" stroke-width="1.91"/><path d="M142.66 327.17 L140.78 331.61" stroke="#0a960a" stroke-width="3.3"/><path d="M142.66 327.17 L140.78 331.61" stroke="#16c416" stroke-width="1.91"/><path d="M150.67 323.54 L142.66 327.17" stroke="#0a960a" stroke-width="3.3"/><path d="M150.67 323.54 L142.66 327.17" stroke="#16c416" stroke-width="1.91"/><path d="M156.71 324.59 L150.67 323.54" stroke="#0a960a" stroke-width="3.3"/><path d="M156.71 324.59 L150.67 323.54" stroke="#16c416" stroke-width="1.91"/><path d="M142.66 327.17 L136.53 326.36" stroke="#0a960a" stroke-width="3.3"/><path d="M142.66 327.17 L136.53 326.36" stroke="#16c416" stroke-width="1.91"/><path d="M136.53 326.36 L128.61 329.75" stroke="#0a960a" stroke-width="3.3"/><path d="M136.53 326.36 L128.61 329.75" stroke="#16c416" stroke-width="1.91"/><path d="M138.4 322.15 L136.53 326.36" stroke="#0a960a" stroke-width="3.3"/><path d="M138.4 322.15 L136.53 326.36" stroke="#16c416" stroke-width="1.91"/><path d="M152.56 318.87 L150.67 323.54" stroke="#0a960a" stroke-width="3.3"/><path d="M152.56 318.87 L150.67 323.54" stroke="#16c416" stroke-width="1.91"/><path d="M152.56 318.87 L149.49 318.58" stroke="#0a960a" stroke-width="3.3"/><path d="M152.56 318.87 L149.49 318.58" stroke="#16c416" stroke-width="1.91"/><path d="M149.49 318.58 L146.42 318.29" stroke="#7878d0" stroke-width="3.3"/><path d="M149.49 318.58 L146.42 318.29" stroke="#a0a0f6" stroke-width="1.91"/><path d="M146.42 318.29 L142.41 320.22" stroke="#7878d0" stroke-width="3.3"/><path d="M146.42 318.29 L142.41 320.22" stroke="#a0a0f6" stroke-width="1.91"/><path d="M142.41 320.22 L138.4 322.15" stroke="#0a960a" stroke-width="3.3"/><path d="M142.41 320.22 L138.4 322.15" stroke="#16c416" stroke-width="1.91"/><path d="M125.34 351.64 L121.56 352.57" stroke="#0a960a" stroke-width="3.3"/><path d="M125.34 351.64 L121.56 352.57" stroke="#16c416" stroke-width="1.91"/><path d="M121.56 352.57 L117.78 353.49" stroke="#b40404" stroke-width="3.3"/><path d="M121.56 352.57 L117.78 353.49" stroke="#ee0a0a" stroke-width="1.91"/><path d="M138.43 322.14 L135.46 322.02" stroke="#0a960a" stroke-width="3.3"/><path d="M138.43 322.14 L135.46 322.02" stroke="#16c416" stroke-width="1.91"/><path d="M135.46 322.02 L132.48 321.91" stroke="#b40404" stroke-width="3.3"/><path d="M135.46 322.02 L132.48 321.91" stroke="#ee0a0a" stroke-width="1.91"/><path d="M139.3 351.54 L142.24 352.61" stroke="#0a960a" stroke-width="3.3"/><path d="M139.3 351.54 L142.24 352.61" stroke="#16c416" stroke-width="1.91"/><path d="M142.24 352.61 L145.17 353.68" stroke="#b40404" stroke-width="3.3"/><path d="M142.24 352.61 L145.17 353.68" stroke="#ee0a0a" stroke-width="1.91"/><path d="M152.53 318.88 L156.35 317" stroke="#0a960a" stroke-width="3.3"/><path d="M152.53 318.88 L156.35 317" stroke="#16c416" stroke-width="1.91"/><path d="M156.35 317 L160.17 315.12" stroke="#b40404" stroke-width="3.3"/><path d="M156.35 317 L160.17 315.12" stroke="#ee0a0a" stroke-width="1.91"/><path d="M131.4 353.8 L130.05 356.95" stroke="#7878d0" stroke-width="3.3"/><path d="M131.4 353.8 L130.05 356.95" stroke="#a0a0f6" stroke-width="1.91"/><path d="M130.05 356.95 L128.7 360.1" stroke="#0a960a" stroke-width="3.3"/><path d="M130.05 356.95 L128.7 360.1" stroke="#16c416" stroke-width="1.91"/><path d="M128.7 360.1 L126.2 369.8" stroke="#0a960a" stroke-width="3.3"/><path d="M128.7 360.1 L126.2 369.8" stroke="#16c416" stroke-width="1.91"/><path d="M126.2 369.8 L131.6 375.5" stroke="#0a960a" stroke-width="3.3"/><path d="M126.2 369.8 L131.6 375.5" stroke="#16c416" stroke-width="1.91"/><path d="M131.6 375.5 L137.5 382.1" stroke="#0a960a" stroke-width="3.3"/><path d="M131.6 375.5 L137.5 382.1" stroke="#16c416" stroke-width="1.91"/><path d="M146.45 318.3 L147.82 315.7" stroke="#7878d0" stroke-width="3.3"/><path d="M146.45 318.3 L147.82 315.7" stroke="#a0a0f6" stroke-width="1.91"/><path d="M147.82 315.7 L149.2 313.1" stroke="#0a960a" stroke-width="3.3"/><path d="M147.82 315.7 L149.2 313.1" stroke="#16c416" stroke-width="1.91"/><path d="M149.2 313.1 L152.4 305.6" stroke="#0a960a" stroke-width="3.3"/><path d="M149.2 313.1 L152.4 305.6" stroke="#16c416" stroke-width="1.91"/><path d="M152.4 305.6 L146.4 299.2" stroke="#0a960a" stroke-width="3.3"/><path d="M152.4 305.6 L146.4 299.2" stroke="#16c416" stroke-width="1.91"/><path d="M146.4 299.2 L148.7 291.6" stroke="#0a960a" stroke-width="3.3"/><path d="M146.4 299.2 L148.7 291.6" stroke="#16c416" stroke-width="1.91"/><path d="M169.4 337.6 L167.45 339.85" stroke="#7878d0" stroke-width="3.3"/><path d="M169.4 337.6 L167.45 339.85" stroke="#a0a0f6" stroke-width="1.91"/><path d="M167.45 339.85 L165.5 342.1" stroke="#0a960a" stroke-width="3.3"/><path d="M167.45 339.85 L165.5 342.1" stroke="#16c416" stroke-width="1.91"/><path d="M165.5 342.1 L157.6 342.7" stroke="#0a960a" stroke-width="3.3"/><path d="M165.5 342.1 L157.6 342.7" stroke="#16c416" stroke-width="1.91"/><path d="M157.6 342.7 L152.5 339.3" stroke="#0a960a" stroke-width="3.3"/><path d="M157.6 342.7 L152.5 339.3" stroke="#16c416" stroke-width="1.91"/><path d="M152.5 339.3 L156.5 335.4" stroke="#0a960a" stroke-width="3.3"/><path d="M152.5 339.3 L156.5 335.4" stroke="#16c416" stroke-width="1.91"/><path d="M156.5 335.4 L163.8 335.4" stroke="#0a960a" stroke-width="3.3"/><path d="M156.5 335.4 L163.8 335.4" stroke="#16c416" stroke-width="1.91"/><path d="M163.8 335.4 L166.6 336.5" stroke="#0a960a" stroke-width="3.3"/><path d="M163.8 335.4 L166.6 336.5" stroke="#16c416" stroke-width="1.91"/><path d="M166.6 336.5 L169.4 337.6" stroke="#7878d0" stroke-width="3.3"/><path d="M166.6 336.5 L169.4 337.6" stroke="#a0a0f6" stroke-width="1.91"/><path d="M152.5 339.3 L148.7 339.1" stroke="#0a960a" stroke-width="3.3"/><path d="M152.5 339.3 L148.7 339.1" stroke="#16c416" stroke-width="1.91"/><path d="M169.4 337.6 L173.7 334.1" stroke="#7878d0" stroke-width="3.3"/><path d="M169.4 337.6 L173.7 334.1" stroke="#a0a0f6" stroke-width="1.91"/><path d="M109.9 353.1 L106.7 360.8" stroke="#0a960a" stroke-width="3.3"/><path d="M109.9 353.1 L106.7 360.8" stroke="#16c416" stroke-width="1.91"/><path d="M106.7 360.8 L98.9 363" stroke="#0a960a" stroke-width="3.3"/><path d="M106.7 360.8 L98.9 363" stroke="#16c416" stroke-width="1.91"/><path d="M98.9 363 L96.5 360.5" stroke="#0a960a" stroke-width="3.3"/><path d="M98.9 363 L96.5 360.5" stroke="#16c416" stroke-width="1.91"/><path d="M96.5 360.5 L94.1 358" stroke="#7878d0" stroke-width="3.3"/><path d="M96.5 360.5 L94.1 358" stroke="#a0a0f6" stroke-width="1.91"/><path d="M94.1 358 L94.45 354.55" stroke="#7878d0" stroke-width="3.3"/><path d="M94.1 358 L94.45 354.55" stroke="#a0a0f6" stroke-width="1.91"/><path d="M94.45 354.55 L94.8 351.1" stroke="#0a960a" stroke-width="3.3"/><path d="M94.45 354.55 L94.8 351.1" stroke="#16c416" stroke-width="1.91"/><path d="M94.8 351.1 L102 348" stroke="#0a960a" stroke-width="3.3"/><path d="M94.8 351.1 L102 348" stroke="#16c416" stroke-width="1.91"/><path d="M102 348 L109.9 353.1" stroke="#0a960a" stroke-width="3.3"/><path d="M102 348 L109.9 353.1" stroke="#16c416" stroke-width="1.91"/><path d="M109.9 353.1 L119.7 348.8" stroke="#0a960a" stroke-width="3.3"/><path d="M109.9 353.1 L119.7 348.8" stroke="#16c416" stroke-width="1.91"/><path d="M94.1 358 L84.6 358.8" stroke="#7878d0" stroke-width="3.3"/><path d="M94.1 358 L84.6 358.8" stroke="#a0a0f6" stroke-width="1.91"/><path d="M119.5 342.2 L112.3 343.1" stroke="#0a960a" stroke-width="3.3"/><path d="M119.5 342.2 L112.3 343.1" stroke="#16c416" stroke-width="1.91"/><path d="M112.3 343.1 L109.8 339.5" stroke="#0a960a" stroke-width="3.3"/><path d="M112.3 343.1 L109.8 339.5" stroke="#16c416" stroke-width="1.91"/><path d="M109.8 339.5 L107.3 335.9" stroke="#7878d0" stroke-width="3.3"/><path d="M109.8 339.5 L107.3 335.9" stroke="#a0a0f6" stroke-width="1.91"/><path d="M107.3 335.9 L107.3 332.1" stroke="#7878d0" stroke-width="3.3"/><path d="M107.3 335.9 L107.3 332.1" stroke="#a0a0f6" stroke-width="1.91"/><path d="M107.3 332.1 L107.3 328.3" stroke="#0a960a" stroke-width="3.3"/><path d="M107.3 332.1 L107.3 328.3" stroke="#16c416" stroke-width="1.91"/><path d="M107.3 328.3 L114.1 326.5" stroke="#0a960a" stroke-width="3.3"/><path d="M107.3 328.3 L114.1 326.5" stroke="#16c416" stroke-width="1.91"/><path d="M114.1 326.5 L119.5 332.8" stroke="#0a960a" stroke-width="3.3"/><path d="M114.1 326.5 L119.5 332.8" stroke="#16c416" stroke-width="1.91"/><path d="M119.5 332.8 L119.5 342.2" stroke="#0a960a" stroke-width="3.3"/><path d="M119.5 332.8 L119.5 342.2" stroke="#16c416" stroke-width="1.91"/><path d="M119.5 342.2 L124.7 341.1" stroke="#0a960a" stroke-width="3.3"/><path d="M119.5 342.2 L124.7 341.1" stroke="#16c416" stroke-width="1.91"/><path d="M107.3 335.9 L100.2 336.3" stroke="#7878d0" stroke-width="3.3"/><path d="M107.3 335.9 L100.2 336.3" stroke="#a0a0f6" stroke-width="1.91"/><path d="M14.1 301.6 L14.95 303.6" stroke="#b40404" stroke-width="3.3"/><path d="M14.1 301.6 L14.95 303.6" stroke="#ee0a0a" stroke-width="1.91"/><path d="M14.95 303.6 L15.8 305.6" stroke="#b40404" stroke-width="3.3"/><path d="M14.95 303.6 L15.8 305.6" stroke="#ee0a0a" stroke-width="1.91"/><path d="M15.8 305.6 L17.75 306.15" stroke="#b40404" stroke-width="3.3"/><path d="M15.8 305.6 L17.75 306.15" stroke="#ee0a0a" stroke-width="1.91"/><path d="M17.75 306.15 L19.7 306.7" stroke="#0404b4" stroke-width="3.3"/><path d="M17.75 306.15 L19.7 306.7" stroke="#0a0aee" stroke-width="1.91"/><path d="M19.7 306.7 L23.7 308.4" stroke="#0404b4" stroke-width="3.3"/><path d="M19.7 306.7 L23.7 308.4" stroke="#0a0aee" stroke-width="1.91"/><path d="M23.7 308.4 L23.7 315.7" stroke="#0404b4" stroke-width="3.3"/><path d="M23.7 308.4 L23.7 315.7" stroke="#0a0aee" stroke-width="1.91"/><path d="M15.2 319.7 L19.45 317.7" stroke="#7878d0" stroke-width="3.3"/><path d="M15.2 319.7 L19.45 317.7" stroke="#a0a0f6" stroke-width="1.91"/><path d="M19.45 317.7 L23.7 315.7" stroke="#0404b4" stroke-width="3.3"/><path d="M19.45 317.7 L23.7 315.7" stroke="#0a0aee" stroke-width="1.91"/><path d="M23.7 315.7 L32.7 318.6" stroke="#0404b4" stroke-width="3.3"/><path d="M23.7 315.7 L32.7 318.6" stroke="#0a0aee" stroke-width="1.91"/><path d="M32.7 318.6 L33.8 324.2" stroke="#0404b4" stroke-width="3.3"/><path d="M32.7 318.6 L33.8 324.2" stroke="#0a0aee" stroke-width="1.91"/><path d="M33.8 324.2 L27 326.4" stroke="#0404b4" stroke-width="3.3"/><path d="M33.8 324.2 L27 326.4" stroke="#0a0aee" stroke-width="1.91"/><path d="M27 326.4 L19.2 323.6" stroke="#0404b4" stroke-width="3.3"/><path d="M27 326.4 L19.2 323.6" stroke="#0a0aee" stroke-width="1.91"/><path d="M19.2 323.6 L17.2 321.65" stroke="#0404b4" stroke-width="3.3"/><path d="M19.2 323.6 L17.2 321.65" stroke="#0a0aee" stroke-width="1.91"/><path d="M17.2 321.65 L15.2 319.7" stroke="#7878d0" stroke-width="3.3"/><path d="M17.2 321.65 L15.2 319.7" stroke="#a0a0f6" stroke-width="1.91"/><path d="M15.2 319.7 L13.35 321.6" stroke="#7878d0" stroke-width="3.3"/><path d="M15.2 319.7 L13.35 321.6" stroke="#a0a0f6" stroke-width="1.91"/><path d="M13.35 321.6 L11.5 323.5" stroke="#0404b4" stroke-width="3.3"/><path d="M13.35 321.6 L11.5 323.5" stroke="#0a0aee" stroke-width="1.91"/><path d="M11.5 323.5 L8.4 321.65" stroke="#0404b4" stroke-width="3.3"/><path d="M11.5 323.5 L8.4 321.65" stroke="#0a0aee" stroke-width="1.91"/><path d="M8.4 321.65 L5.3 319.8" stroke="#b40404" stroke-width="3.3"/><path d="M8.4 321.65 L5.3 319.8" stroke="#ee0a0a" stroke-width="1.91"/><path d="M11.5 323.5 L12.4 326.05" stroke="#0404b4" stroke-width="3.3"/><path d="M11.5 323.5 L12.4 326.05" stroke="#0a0aee" stroke-width="1.91"/><path d="M12.4 326.05 L13.3 328.6" stroke="#0404b4" stroke-width="3.3"/><path d="M12.4 326.05 L13.3 328.6" stroke="#0a0aee" stroke-width="1.91"/><path d="M13.3 328.6 L12.9 330.55" stroke="#0404b4" stroke-width="3.3"/><path d="M13.3 328.6 L12.9 330.55" stroke="#0a0aee" stroke-width="1.91"/><path d="M12.9 330.55 L12.5 332.5" stroke="#b40404" stroke-width="3.3"/><path d="M12.9 330.55 L12.5 332.5" stroke="#ee0a0a" stroke-width="1.91"/><path d="M33.8 324.2 L42.9 326.4" stroke="#0404b4" stroke-width="3.3"/><path d="M33.8 324.2 L42.9 326.4" stroke="#0a0aee" stroke-width="1.91"/><path d="M28 317.3 L33.3 319.9" stroke="#0404b4" stroke-width="3.3"/><path d="M28 317.3 L33.3 319.9" stroke="#0a0aee" stroke-width="1.91"/><path d="M42.9 326.4 L45.5 327.6" stroke="#0404b4" stroke-width="3.3"/><path d="M42.9 326.4 L45.5 327.6" stroke="#0a0aee" stroke-width="1.91"/><path d="M45.5 327.6 L49.5 325.2" stroke="#0404b4" stroke-width="3.3"/><path d="M45.5 327.6 L49.5 325.2" stroke="#0a0aee" stroke-width="1.91"/><path d="M49.5 325.2 L53.4 325.2" stroke="#b40404" stroke-width="3.3"/><path d="M49.5 325.2 L53.4 325.2" stroke="#ee0a0a" stroke-width="1.91"/><path d="M53.4 325.2 L61.3 323.8" stroke="#0404b4" stroke-width="3.3"/><path d="M53.4 325.2 L61.3 323.8" stroke="#0a0aee" stroke-width="1.91"/><path d="M61.3 323.8 L63.1 317.3" stroke="#0404b4" stroke-width="3.3"/><path d="M61.3 323.8 L63.1 317.3" stroke="#0a0aee" stroke-width="1.91"/><path d="M62.5 321.8 L68.4 326.9" stroke="#0404b4" stroke-width="3.3"/><path d="M62.5 321.8 L68.4 326.9" stroke="#0a0aee" stroke-width="1.91"/><path d="M68.4 326.9 L72.7 330" stroke="#c48c00" stroke-width="3.3"/><path d="M68.4 326.9 L72.7 330" stroke="#f4b400" stroke-width="1.91"/><path d="M61.3 323.8 L60.8 326.15" stroke="#0404b4" stroke-width="3.3"/><path d="M61.3 323.8 L60.8 326.15" stroke="#0a0aee" stroke-width="1.91"/><path d="M60.8 326.15 L60.3 328.5" stroke="#7878d0" stroke-width="3.3"/><path d="M60.8 326.15 L60.3 328.5" stroke="#a0a0f6" stroke-width="1.91"/><path d="M60.3 328.5 L59.95 331.65" stroke="#7878d0" stroke-width="3.3"/><path d="M60.3 328.5 L59.95 331.65" stroke="#a0a0f6" stroke-width="1.91"/><path d="M59.95 331.65 L59.6 334.8" stroke="#0404b4" stroke-width="3.3"/><path d="M59.95 331.65 L59.6 334.8" stroke="#0a0aee" stroke-width="1.91"/><path d="M45.5 327.8 L58.7 333.9" stroke="#0404b4" stroke-width="3.3"/><path d="M45.5 327.8 L58.7 333.9" stroke="#0a0aee" stroke-width="1.91"/><path d="M31.5 331.3 L35.8 333.1" stroke="#c48c00" stroke-width="3.3"/><path d="M31.5 331.3 L35.8 333.1" stroke="#f4b400" stroke-width="1.91"/><path d="M35.8 333.1 L41.2 335.3" stroke="#0404b4" stroke-width="3.3"/><path d="M35.8 333.1 L41.2 335.3" stroke="#0a0aee" stroke-width="1.91"/><path d="M41.2 335.3 L50.8 336.1" stroke="#0404b4" stroke-width="3.3"/><path d="M41.2 335.3 L50.8 336.1" stroke="#0a0aee" stroke-width="1.91"/><path d="M50.8 336.1 L54.8 336.1" stroke="#b40404" stroke-width="3.3"/><path d="M50.8 336.1 L54.8 336.1" stroke="#ee0a0a" stroke-width="1.91"/><path d="M54.8 336.1 L59.6 335.3" stroke="#0404b4" stroke-width="3.3"/><path d="M54.8 336.1 L59.6 335.3" stroke="#0a0aee" stroke-width="1.91"/><path d="M41.2 335.3 L43.6 339.5" stroke="#0404b4" stroke-width="3.3"/><path d="M41.2 335.3 L43.6 339.5" stroke="#0a0aee" stroke-width="1.91"/><path d="M59.6 335.3 L68.2 339.5" stroke="#0404b4" stroke-width="3.3"/><path d="M59.6 335.3 L68.2 339.5" stroke="#0a0aee" stroke-width="1.91"/><path d="M68.2 339.8 L75.2 338.8" stroke="#0404b4" stroke-width="3.3"/><path d="M68.2 339.8 L75.2 338.8" stroke="#0a0aee" stroke-width="1.91"/><path d="M75.2 338.8 L82.4 343.8" stroke="#0404b4" stroke-width="3.3"/><path d="M75.2 338.8 L82.4 343.8" stroke="#0a0aee" stroke-width="1.91"/><path d="M82.4 343.8 L84.3 349.3" stroke="#0404b4" stroke-width="3.3"/><path d="M82.4 343.8 L84.3 349.3" stroke="#0a0aee" stroke-width="1.91"/><path d="M84.3 349.3 L79.2 351" stroke="#0404b4" stroke-width="3.3"/><path d="M84.3 349.3 L79.2 351" stroke="#0a0aee" stroke-width="1.91"/><path d="M79.2 351 L70.8 345.4" stroke="#0404b4" stroke-width="3.3"/><path d="M79.2 351 L70.8 345.4" stroke="#0a0aee" stroke-width="1.91"/><path d="M70.8 345.4 L68.2 339.8" stroke="#0404b4" stroke-width="3.3"/><path d="M70.8 345.4 L68.2 339.8" stroke="#0a0aee" stroke-width="1.91"/><path d="M82.4 343.8 L89.3 343.8" stroke="#0404b4" stroke-width="3.3"/><path d="M82.4 343.8 L89.3 343.8" stroke="#0a0aee" stroke-width="1.91"/><path d="M89.3 343.8 L88.75 340.8" stroke="#0404b4" stroke-width="3.3"/><path d="M89.3 343.8 L88.75 340.8" stroke="#0a0aee" stroke-width="1.91"/><path d="M88.75 340.8 L88.2 337.8" stroke="#b40404" stroke-width="3.3"/><path d="M88.75 340.8 L88.2 337.8" stroke="#ee0a0a" stroke-width="1.91"/><path d="M89.3 343.8 L91.15 346.9" stroke="#0404b4" stroke-width="3.3"/><path d="M89.3 343.8 L91.15 346.9" stroke="#0a0aee" stroke-width="1.91"/><path d="M91.15 346.9 L93 350" stroke="#b40404" stroke-width="3.3"/><path d="M91.15 346.9 L93 350" stroke="#ee0a0a" stroke-width="1.91"/><path d="M79.2 351 L80.35 354.25" stroke="#0404b4" stroke-width="3.3"/><path d="M79.2 351 L80.35 354.25" stroke="#0a0aee" stroke-width="1.91"/><path d="M80.35 354.25 L81.5 357.5" stroke="#0404b4" stroke-width="3.3"/><path d="M80.35 354.25 L81.5 357.5" stroke="#0a0aee" stroke-width="1.91"/><path d="M81.5 357.5 L83.05 359.65" stroke="#0404b4" stroke-width="3.3"/><path d="M81.5 357.5 L83.05 359.65" stroke="#0a0aee" stroke-width="1.91"/><path d="M83.05 359.65 L84.6 361.8" stroke="#b40404" stroke-width="3.3"/><path d="M83.05 359.65 L84.6 361.8" stroke="#ee0a0a" stroke-width="1.91"/><path d="M77 351.5 L76.4 349.25" stroke="#0404b4" stroke-width="3.3"/><path d="M77 351.5 L76.4 349.25" stroke="#0a0aee" stroke-width="1.91"/><path d="M76.4 349.25 L75.8 347" stroke="#b40404" stroke-width="3.3"/><path d="M76.4 349.25 L75.8 347" stroke="#ee0a0a" stroke-width="1.91"/><path d="M24.5 308.3 L29.3 307.6" stroke="#b40404" stroke-width="3.3"/><path d="M24.5 308.3 L29.3 307.6" stroke="#ee0a0a" stroke-width="1.91"/><circle cx="111.4" cy="264.4" r="5.4" fill="url(#sph)"/><path d="M177.5 312 L172.2 317.3" stroke="#0a960a" stroke-width="3.3"/><path d="M177.5 312 L172.2 317.3" stroke="#16c416" stroke-width="1.91"/><path d="M172.2 317.3 L163.2 316.5" stroke="#0a960a" stroke-width="3.3"/><path d="M172.2 317.3 L163.2 316.5" stroke="#16c416" stroke-width="1.91"/><path d="M163.2 316.5 L160.2 309.8" stroke="#0a960a" stroke-width="3.3"/><path d="M163.2 316.5 L160.2 309.8" stroke="#16c416" stroke-width="1.91"/><path d="M160.2 309.8 L160.8 302.6" stroke="#0a960a" stroke-width="3.3"/><path d="M160.2 309.8 L160.8 302.6" stroke="#16c416" stroke-width="1.91"/><path d="M160.8 302.6 L169.2 300.6" stroke="#0a960a" stroke-width="3.3"/><path d="M160.8 302.6 L169.2 300.6" stroke="#16c416" stroke-width="1.91"/><path d="M169.2 300.6 L177.5 312" stroke="#0a960a" stroke-width="3.3"/><path d="M169.2 300.6 L177.5 312" stroke="#16c416" stroke-width="1.91"/><path d="M163.2 316.5 L157.2 324.6" stroke="#0a960a" stroke-width="3.3"/><path d="M163.2 316.5 L157.2 324.6" stroke="#16c416" stroke-width="1.91"/><circle cx="12.5" cy="295" r="5.7" fill="url(#sph)"/><circle cx="178.7" cy="329.6" r="5.7" fill="url(#sph)"/><circle cx="6.9" cy="332.6" r="5.8" fill="url(#sph)"/><circle cx="184.3" cy="292" r="5.8" fill="url(#sph)"/><circle cx="95.6" cy="286.9" r="5.2" fill="url(#sph)"/><circle cx="95.6" cy="337.7" r="5.2" fill="url(#sph)"/></g>
<defs><marker id="ah" viewBox="0 0 10 8" refX="9.5" refY="4" markerWidth="7.5" markerHeight="6" orient="auto-start-reverse"><path d="M0 0 L10 4 L0 8 L3 4 Z" fill="#2a1a1a"/></marker></defs>
<path d="M113.1 253.3 L190.5 283.1" stroke="#2a1a1a" stroke-width="1" fill="none" marker-end="url(#ah)" marker-start="url(#ah)"/>
<path d="M79.8 276.3 L101.7 332.7" stroke="#2a1a1a" stroke-width="1" fill="none" marker-end="url(#ah)" marker-start="url(#ah)"/>
<path d="M194.6 291 L190.8 331.6" stroke="#2a1a1a" stroke-width="1" fill="none" marker-end="url(#ah)" marker-start="url(#ah)"/>
<path d="M82.5 372.1 L185.1 338.3" stroke="#2a1a1a" stroke-width="1" fill="none" marker-end="url(#ah)" marker-start="url(#ah)"/>
<path d="M9.8 281 L19 287.2" stroke="#2a1a1a" stroke-width="1" fill="none" marker-end="url(#ah)"/>
<path d="M3 308.4 L14 307.6" stroke="#2a1a1a" stroke-width="1" fill="none" marker-end="url(#ah)"/>
<path d="M18.5 288 Q25.8 296.5 15.5 306" stroke="#2a1a1a" stroke-width="0.9" fill="none"/>
<text x="4.97" y="238.8" font-size="13.4" textLength="13.9" lengthAdjust="spacingAndGlyphs">(f)</text>
<text x="2.54" y="278" font-size="10.5" textLength="25.21" lengthAdjust="spacingAndGlyphs">41.9&#176;</text>
<text x="145.03" y="263" font-size="10.5" textLength="35.87" lengthAdjust="spacingAndGlyphs">1.41nm</text>
<text x="96.16" y="317.9" font-size="10.5">1.10nm</text>
<text x="195.09" y="317.2" font-size="10.5" textLength="35.5" lengthAdjust="spacingAndGlyphs">0.98nm</text>
<text x="150.85" y="360.2" font-size="10.5">1.65nm</text>
<defs>
<linearGradient id="gG" x1="0" y1="0" x2="0" y2="1"><stop offset="0" stop-color="#a6d48e"/><stop offset="1" stop-color="#f3f9f1"/></linearGradient>
<linearGradient id="gB" x1="0" y1="0" x2="0" y2="1"><stop offset="0" stop-color="#94badb"/><stop offset="0.5" stop-color="#c2d6e6"/><stop offset="1" stop-color="#e6eef1"/></linearGradient>
<linearGradient id="lG" x1="0" y1="0" x2="0" y2="1"><stop offset="0" stop-color="#9acd80"/><stop offset="1" stop-color="#f4faf0"/></linearGradient>
<linearGradient id="lB" x1="0" y1="0" x2="0" y2="1"><stop offset="0" stop-color="#7ea9d8"/><stop offset="1" stop-color="#dfe9f4"/></linearGradient>
<linearGradient id="lG2" x1="0" y1="0" x2="0" y2="1"><stop offset="0" stop-color="#b4dea2"/><stop offset="1" stop-color="#f4faf1"/></linearGradient>
<linearGradient id="lB2" x1="0" y1="0" x2="0" y2="1"><stop offset="0" stop-color="#a6c4e4"/><stop offset="1" stop-color="#e2ecf6"/></linearGradient>
</defs>
<text x="233" y="236.8" font-size="13.4" textLength="17.54" lengthAdjust="spacingAndGlyphs">(g)</text>
<path d="M272.6 358 C273.72 357.88 276.82 356.95 279.3 357.3 C281.78 357.65 284.77 359.17 287.5 360.1 C290.23 361.03 292.78 362.13 295.7 362.9 C298.62 363.67 302.67 364.5 305 364.7 C307.33 364.9 308.13 364.37 309.7 364.1 C311.27 363.83 312.45 363.35 314.4 363.1 C316.35 362.85 319.45 363.18 321.4 362.6 C323.35 362.02 324.35 361.33 326.1 359.6 C327.85 357.87 330.18 354.38 331.9 352.2 C333.62 350.02 335.17 347.7 336.4 346.5 C337.63 345.3 338.28 345 339.3 345 C340.32 345 341.47 346.13 342.5 346.5 C343.53 346.87 344.42 347.7 345.5 347.2 C346.58 346.7 347.83 345.7 349 343.5 C350.17 341.3 351.15 338.72 352.5 334 C353.85 329.28 355.77 320.12 357.1 315.2 C358.43 310.28 359.5 306.8 360.5 304.5 C361.5 302.2 362.27 301.57 363.1 301.4 C363.93 301.23 364.73 302.2 365.5 303.5 C366.27 304.8 366.58 305.73 367.7 309.2 C368.82 312.67 370.95 321.03 372.2 324.3 C373.45 327.57 374.2 328.55 375.2 328.8 C376.2 329.05 376.95 329.57 378.2 325.8 C379.45 322.03 381.2 313.98 382.7 306.2 C384.2 298.42 385.98 285.8 387.2 279.1 C388.42 272.4 389.25 268.63 390 266 C390.75 263.37 391.12 263.47 391.7 263.3 C392.28 263.13 392.73 263.37 393.5 265 C394.27 266.63 395.08 267.23 396.3 273.1 C397.52 278.97 399.55 291.67 400.8 300.2 C402.05 308.73 402.8 316.77 403.8 324.3 C404.8 331.83 405.8 339.63 406.8 345.4 C407.8 351.17 408.55 355.2 409.8 358.9 C411.05 362.6 412.53 365.7 414.3 367.6 C416.07 369.5 418.12 369.75 420.4 370.3 C422.68 370.85 426.73 370.8 428 370.9 L428 371.3 L272.6 371.3 Z" fill="url(#gG)" stroke="none"/><path d="M272.6 358 C273.72 357.88 276.82 356.95 279.3 357.3 C281.78 357.65 284.77 359.17 287.5 360.1 C290.23 361.03 292.78 362.13 295.7 362.9 C298.62 363.67 302.67 364.5 305 364.7 C307.33 364.9 308.13 364.37 309.7 364.1 C311.27 363.83 312.45 363.35 314.4 363.1 C316.35 362.85 319.45 363.18 321.4 362.6 C323.35 362.02 324.35 361.33 326.1 359.6 C327.85 357.87 330.18 354.38 331.9 352.2 C333.62 350.02 335.17 347.7 336.4 346.5 C337.63 345.3 338.28 345 339.3 345 C340.32 345 341.47 346.13 342.5 346.5 C343.53 346.87 344.42 347.7 345.5 347.2 C346.58 346.7 347.83 345.7 349 343.5 C350.17 341.3 351.15 338.72 352.5 334 C353.85 329.28 355.77 320.12 357.1 315.2 C358.43 310.28 359.5 306.8 360.5 304.5 C361.5 302.2 362.27 301.57 363.1 301.4 C363.93 301.23 364.73 302.2 365.5 303.5 C366.27 304.8 366.58 305.73 367.7 309.2 C368.82 312.67 370.95 321.03 372.2 324.3 C373.45 327.57 374.2 328.55 375.2 328.8 C376.2 329.05 376.95 329.57 378.2 325.8 C379.45 322.03 381.2 313.98 382.7 306.2 C384.2 298.42 385.98 285.8 387.2 279.1 C388.42 272.4 389.25 268.63 390 266 C390.75 263.37 391.12 263.47 391.7 263.3 C392.28 263.13 392.73 263.37 393.5 265 C394.27 266.63 395.08 267.23 396.3 273.1 C397.52 278.97 399.55 291.67 400.8 300.2 C402.05 308.73 402.8 316.77 403.8 324.3 C404.8 331.83 405.8 339.63 406.8 345.4 C407.8 351.17 408.55 355.2 409.8 358.9 C411.05 362.6 412.53 365.7 414.3 367.6 C416.07 369.5 418.12 369.75 420.4 370.3 C422.68 370.85 426.73 370.8 428 370.9" fill="none" stroke="#7cc063" stroke-width="1.3"/>
<path d="M272.6 370.1 C274.12 370.12 276.3 370.08 281.7 370.2 C287.1 370.32 298.18 370.78 305 370.8 C311.82 370.82 318.12 370.67 322.6 370.3 C327.08 369.93 329.38 369.02 331.9 368.6 C334.42 368.18 335.57 367.85 337.7 367.8 C339.83 367.75 342.65 368.42 344.7 368.3 C346.75 368.18 348.18 367.82 350 367.1 C351.82 366.38 354.02 364.88 355.6 364 C357.18 363.12 358.35 362.25 359.5 361.8 C360.65 361.35 361.5 361.27 362.5 361.3 C363.5 361.33 364.5 361.58 365.5 362 C366.5 362.42 367.13 363.2 368.5 363.8 C369.87 364.4 372.2 365.48 373.7 365.6 C375.2 365.72 376.25 365.12 377.5 364.5 C378.75 363.88 379.58 363 381.2 361.9 C382.82 360.8 385.55 358.75 387.2 357.9 C388.85 357.05 389.83 356.73 391.1 356.8 C392.37 356.87 393.18 356.95 394.8 358.3 C396.42 359.65 398.8 363.03 400.8 364.9 C402.8 366.77 405.05 368.52 406.8 369.5 C408.55 370.48 409.1 370.57 411.3 370.8 C413.5 371.03 418.55 370.88 420 370.9 L420 371.3 L272.6 371.3 Z" fill="url(#gB)" stroke="none"/><path d="M272.6 370.1 C274.12 370.12 276.3 370.08 281.7 370.2 C287.1 370.32 298.18 370.78 305 370.8 C311.82 370.82 318.12 370.67 322.6 370.3 C327.08 369.93 329.38 369.02 331.9 368.6 C334.42 368.18 335.57 367.85 337.7 367.8 C339.83 367.75 342.65 368.42 344.7 368.3 C346.75 368.18 348.18 367.82 350 367.1 C351.82 366.38 354.02 364.88 355.6 364 C357.18 363.12 358.35 362.25 359.5 361.8 C360.65 361.35 361.5 361.27 362.5 361.3 C363.5 361.33 364.5 361.58 365.5 362 C366.5 362.42 367.13 363.2 368.5 363.8 C369.87 364.4 372.2 365.48 373.7 365.6 C375.2 365.72 376.25 365.12 377.5 364.5 C378.75 363.88 379.58 363 381.2 361.9 C382.82 360.8 385.55 358.75 387.2 357.9 C388.85 357.05 389.83 356.73 391.1 356.8 C392.37 356.87 393.18 356.95 394.8 358.3 C396.42 359.65 398.8 363.03 400.8 364.9 C402.8 366.77 405.05 368.52 406.8 369.5 C408.55 370.48 409.1 370.57 411.3 370.8 C413.5 371.03 418.55 370.88 420 370.9" fill="none" stroke="#6a9ed3" stroke-width="1.3"/>
<path d="M272.1 358.2 V371" stroke="#7cc063" stroke-width="1.1" fill="none"/>
<path d="M272.9 240.9 H450.8 V371.3 H272.9 Z" stroke="#000" stroke-width="1.2" fill="none"/>
<path d="M272.9 371.3 H269.9 M272.9 358.26 H271.1 M272.9 345.22 H269.9 M272.9 332.18 H271.1 M272.9 319.14 H269.9 M272.9 306.1 H271.1 M272.9 293.06 H269.9 M272.9 280.02 H271.1 M272.9 266.98 H269.9 M272.9 253.94 H271.1 M272.9 240.9 H269.9 M272.9 371.3 V373.1 M292.67 371.3 V374.3 M312.43 371.3 V373.1 M332.2 371.3 V374.3 M351.97 371.3 V373.1 M371.73 371.3 V374.3 M391.5 371.3 V373.1 M411.27 371.3 V374.3 M431.03 371.3 V373.1 M450.8 371.3 V374.3" stroke="#000" stroke-width="1" fill="none"/>
<text x="254.2" y="374.2" font-size="10">0.0</text>
<text x="254.2" y="348.12" font-size="10">0.3</text>
<text x="254.2" y="322.04" font-size="10">0.6</text>
<text x="254.2" y="295.96" font-size="10">0.9</text>
<text x="254.2" y="269.88" font-size="10">1.2</text>
<text x="254.2" y="243.8" font-size="10">1.5</text>
<text x="284.42" y="384.1" font-size="10">400</text>
<text x="323.95" y="384.1" font-size="10">450</text>
<text x="363.36" y="384.1" font-size="10">500</text>
<text x="402.89" y="384.1" font-size="10">550</text>
<text x="442.43" y="384.1" font-size="10">600</text>
<text x="361.85" y="397" font-size="10" text-anchor="middle" fill="#000" >Wavelength (nm)</text>
<text transform="rotate(-90)" x="-348.14" y="247.3" font-size="10.5" textLength="5.98" lengthAdjust="spacingAndGlyphs">&#949;</text>
<text transform="rotate(-90)" x="-340.6" y="247.5" font-size="10.5" textLength="4.04" lengthAdjust="spacingAndGlyphs">/</text>
<text transform="rotate(-90)" x="-334.58" y="246.6" font-size="10.5" textLength="6.41" lengthAdjust="spacingAndGlyphs">&#215;</text>
<text transform="rotate(-90)" x="-326.91" y="247.4" font-size="10.5" textLength="12.58" lengthAdjust="spacingAndGlyphs">10</text>
<text transform="rotate(-90)" x="-314.09" y="242.1" font-size="7" textLength="3" lengthAdjust="spacingAndGlyphs">5</text>
<text transform="rotate(-90)" x="-307.08" y="247.4" font-size="10.5" textLength="10.26" lengthAdjust="spacingAndGlyphs">M</text>
<text transform="rotate(-90)" x="-296.98" y="242.2" font-size="7" textLength="4.55" lengthAdjust="spacingAndGlyphs">-1</text>
<text transform="rotate(-90)" x="-287.82" y="247.3" font-size="10.5" textLength="17.35" lengthAdjust="spacingAndGlyphs">cm</text>
<text transform="rotate(-90)" x="-272.02" y="242.2" font-size="7" textLength="5.53" lengthAdjust="spacingAndGlyphs">-1</text>
<rect x="411.7" y="253.6" width="17.6" height="7.8" fill="url(#lG2)" stroke="#a2d690" stroke-width="1"/>
<rect x="411.7" y="265.6" width="17.6" height="8.6" fill="url(#lB2)" stroke="#a8c8e8" stroke-width="1"/>
<text x="431.83" y="259.7" font-size="10.5" font-weight="bold" textLength="4.43" lengthAdjust="spacingAndGlyphs">1</text>
<text x="431.67" y="272.8" font-size="10.5" font-weight="bold" textLength="5.42" lengthAdjust="spacingAndGlyphs">4</text>
<text x="453.92" y="238.3" font-size="13.4" textLength="19.21" lengthAdjust="spacingAndGlyphs">(h)</text>
<path d="M505.4 371.9 C509.5 371.9 524.57 371.95 530 371.9 C535.43 371.85 535.7 371.77 538 371.6 C540.3 371.43 541.92 371.72 543.8 370.9 C545.68 370.08 547.7 369.2 549.3 366.7 C550.9 364.2 552.25 360.85 553.4 355.9 C554.55 350.95 555.28 345.23 556.2 337 C557.12 328.77 557.85 315.75 558.9 306.5 C559.95 297.25 561.43 286.7 562.5 281.5 C563.57 276.3 564.28 275.33 565.3 275.3 C566.32 275.27 567.37 277.97 568.6 281.3 C569.83 284.63 571.33 291.82 572.7 295.3 C574.07 298.78 575.42 300.92 576.8 302.2 C578.18 303.48 579.62 303 581 303 C582.38 303 583.73 301.42 585.1 302.2 C586.47 302.98 587.82 304.72 589.2 307.7 C590.58 310.68 592.02 315.83 593.4 320.1 C594.78 324.37 596.4 330.23 597.5 333.3 C598.6 336.37 598.95 336.33 600 338.5 C601.05 340.67 602.55 343.98 603.8 346.3 C605.05 348.62 606.25 350.75 607.5 352.4 C608.75 354.05 609.42 354.82 611.3 356.2 C613.18 357.58 616.3 359.23 618.8 360.7 C621.3 362.17 623.78 363.75 626.3 365 C628.82 366.25 631.38 367.3 633.9 368.2 C636.42 369.1 638.68 369.88 641.4 370.4 C644.12 370.92 646.23 371.07 650.2 371.3 C654.17 371.53 662.7 371.72 665.2 371.8 L665.2 372.2 L505.4 372.2 Z" fill="url(#gG)" stroke="none"/><path d="M505.4 371.9 C509.5 371.9 524.57 371.95 530 371.9 C535.43 371.85 535.7 371.77 538 371.6 C540.3 371.43 541.92 371.72 543.8 370.9 C545.68 370.08 547.7 369.2 549.3 366.7 C550.9 364.2 552.25 360.85 553.4 355.9 C554.55 350.95 555.28 345.23 556.2 337 C557.12 328.77 557.85 315.75 558.9 306.5 C559.95 297.25 561.43 286.7 562.5 281.5 C563.57 276.3 564.28 275.33 565.3 275.3 C566.32 275.27 567.37 277.97 568.6 281.3 C569.83 284.63 571.33 291.82 572.7 295.3 C574.07 298.78 575.42 300.92 576.8 302.2 C578.18 303.48 579.62 303 581 303 C582.38 303 583.73 301.42 585.1 302.2 C586.47 302.98 587.82 304.72 589.2 307.7 C590.58 310.68 592.02 315.83 593.4 320.1 C594.78 324.37 596.4 330.23 597.5 333.3 C598.6 336.37 598.95 336.33 600 338.5 C601.05 340.67 602.55 343.98 603.8 346.3 C605.05 348.62 606.25 350.75 607.5 352.4 C608.75 354.05 609.42 354.82 611.3 356.2 C613.18 357.58 616.3 359.23 618.8 360.7 C621.3 362.17 623.78 363.75 626.3 365 C628.82 366.25 631.38 367.3 633.9 368.2 C636.42 369.1 638.68 369.88 641.4 370.4 C644.12 370.92 646.23 371.07 650.2 371.3 C654.17 371.53 662.7 371.72 665.2 371.8" fill="none" stroke="#7cc063" stroke-width="1.3"/>
<path d="M505.4 372 C510.33 371.98 528.9 371.95 535 371.9 C541.1 371.85 540.08 371.97 542 371.7 C543.92 371.43 544.83 372.05 546.5 370.3 C548.17 368.55 550.38 364.98 552 361.2 C553.62 357.42 554.82 351.15 556.2 347.6 C557.58 344.05 559.25 341.37 560.3 339.9 C561.35 338.43 561.58 338.43 562.5 338.8 C563.42 339.17 564.33 340.17 565.8 342.1 C567.27 344.03 569.23 348.33 571.3 350.4 C573.37 352.47 575.9 353.58 578.2 354.5 C580.5 355.42 583.03 355.2 585.1 355.9 C587.17 356.6 588.77 357.55 590.6 358.7 C592.43 359.85 594.27 361.6 596.1 362.8 C597.93 364 599.3 364.98 601.6 365.9 C603.9 366.82 606.68 367.6 609.9 368.3 C613.12 369 617.33 369.62 620.9 370.1 C624.47 370.58 627.47 370.93 631.3 371.2 C635.13 371.47 638.25 371.58 643.9 371.7 C649.55 371.82 661.65 371.87 665.2 371.9 L665.2 372.2 L505.4 372.2 Z" fill="url(#gB)" stroke="none"/><path d="M505.4 372 C510.33 371.98 528.9 371.95 535 371.9 C541.1 371.85 540.08 371.97 542 371.7 C543.92 371.43 544.83 372.05 546.5 370.3 C548.17 368.55 550.38 364.98 552 361.2 C553.62 357.42 554.82 351.15 556.2 347.6 C557.58 344.05 559.25 341.37 560.3 339.9 C561.35 338.43 561.58 338.43 562.5 338.8 C563.42 339.17 564.33 340.17 565.8 342.1 C567.27 344.03 569.23 348.33 571.3 350.4 C573.37 352.47 575.9 353.58 578.2 354.5 C580.5 355.42 583.03 355.2 585.1 355.9 C587.17 356.6 588.77 357.55 590.6 358.7 C592.43 359.85 594.27 361.6 596.1 362.8 C597.93 364 599.3 364.98 601.6 365.9 C603.9 366.82 606.68 367.6 609.9 368.3 C613.12 369 617.33 369.62 620.9 370.1 C624.47 370.58 627.47 370.93 631.3 371.2 C635.13 371.47 638.25 371.58 643.9 371.7 C649.55 371.82 661.65 371.87 665.2 371.9" fill="none" stroke="#6a9ed3" stroke-width="1.3"/>
<path d="M505.4 241.6 H682.4 V372.2 H505.4 Z" stroke="#000" stroke-width="1.2" fill="none"/>
<path d="M505.4 372.2 H502.4 M505.4 357.69 H503.6 M505.4 343.18 H502.4 M505.4 328.67 H503.6 M505.4 314.16 H502.4 M505.4 299.64 H503.6 M505.4 285.13 H502.4 M505.4 270.62 H503.6 M505.4 256.11 H502.4 M505.4 241.6 H503.6 M505.4 372.2 V374 M523.1 372.2 V375.2 M540.8 372.2 V374 M558.5 372.2 V375.2 M576.2 372.2 V374 M593.9 372.2 V375.2 M611.6 372.2 V374 M629.3 372.2 V375.2 M647 372.2 V374 M664.7 372.2 V375.2 M682.4 372.2 V374" stroke="#000" stroke-width="1" fill="none"/>
<text x="495.25" y="375.1" font-size="10">0</text>
<text x="484.25" y="346.08" font-size="10">200</text>
<text x="484.25" y="317.06" font-size="10">400</text>
<text x="484.25" y="288.03" font-size="10">600</text>
<text x="484.25" y="259.01" font-size="10">800</text>
<text x="514.85" y="384.1" font-size="10">480</text>
<text x="550.12" y="384.1" font-size="10">540</text>
<text x="585.52" y="384.1" font-size="10">600</text>
<text x="620.92" y="384.1" font-size="10">660</text>
<text x="656.33" y="384.1" font-size="10">720</text>
<text x="593.9" y="397" font-size="10" text-anchor="middle" fill="#000" >Wavelength (nm)</text>
<text transform="translate(478 307.8) rotate(-90)" font-size="10" text-anchor="middle" font-family="Liberation Sans, sans-serif">Emission intensity (arb. units)</text>
<rect x="633.1" y="254.1" width="18.8" height="9.8" fill="url(#lG)"/>
<rect x="633.1" y="266.9" width="18.8" height="9" fill="url(#lB)"/>
<text x="653.6" y="261.9" font-size="10.5" font-weight="bold" textLength="4.67" lengthAdjust="spacingAndGlyphs">1</text>
<text x="653.46" y="274.8" font-size="10.5" font-weight="bold" textLength="5.63" lengthAdjust="spacingAndGlyphs">4</text>
</svg>
</body></html>
